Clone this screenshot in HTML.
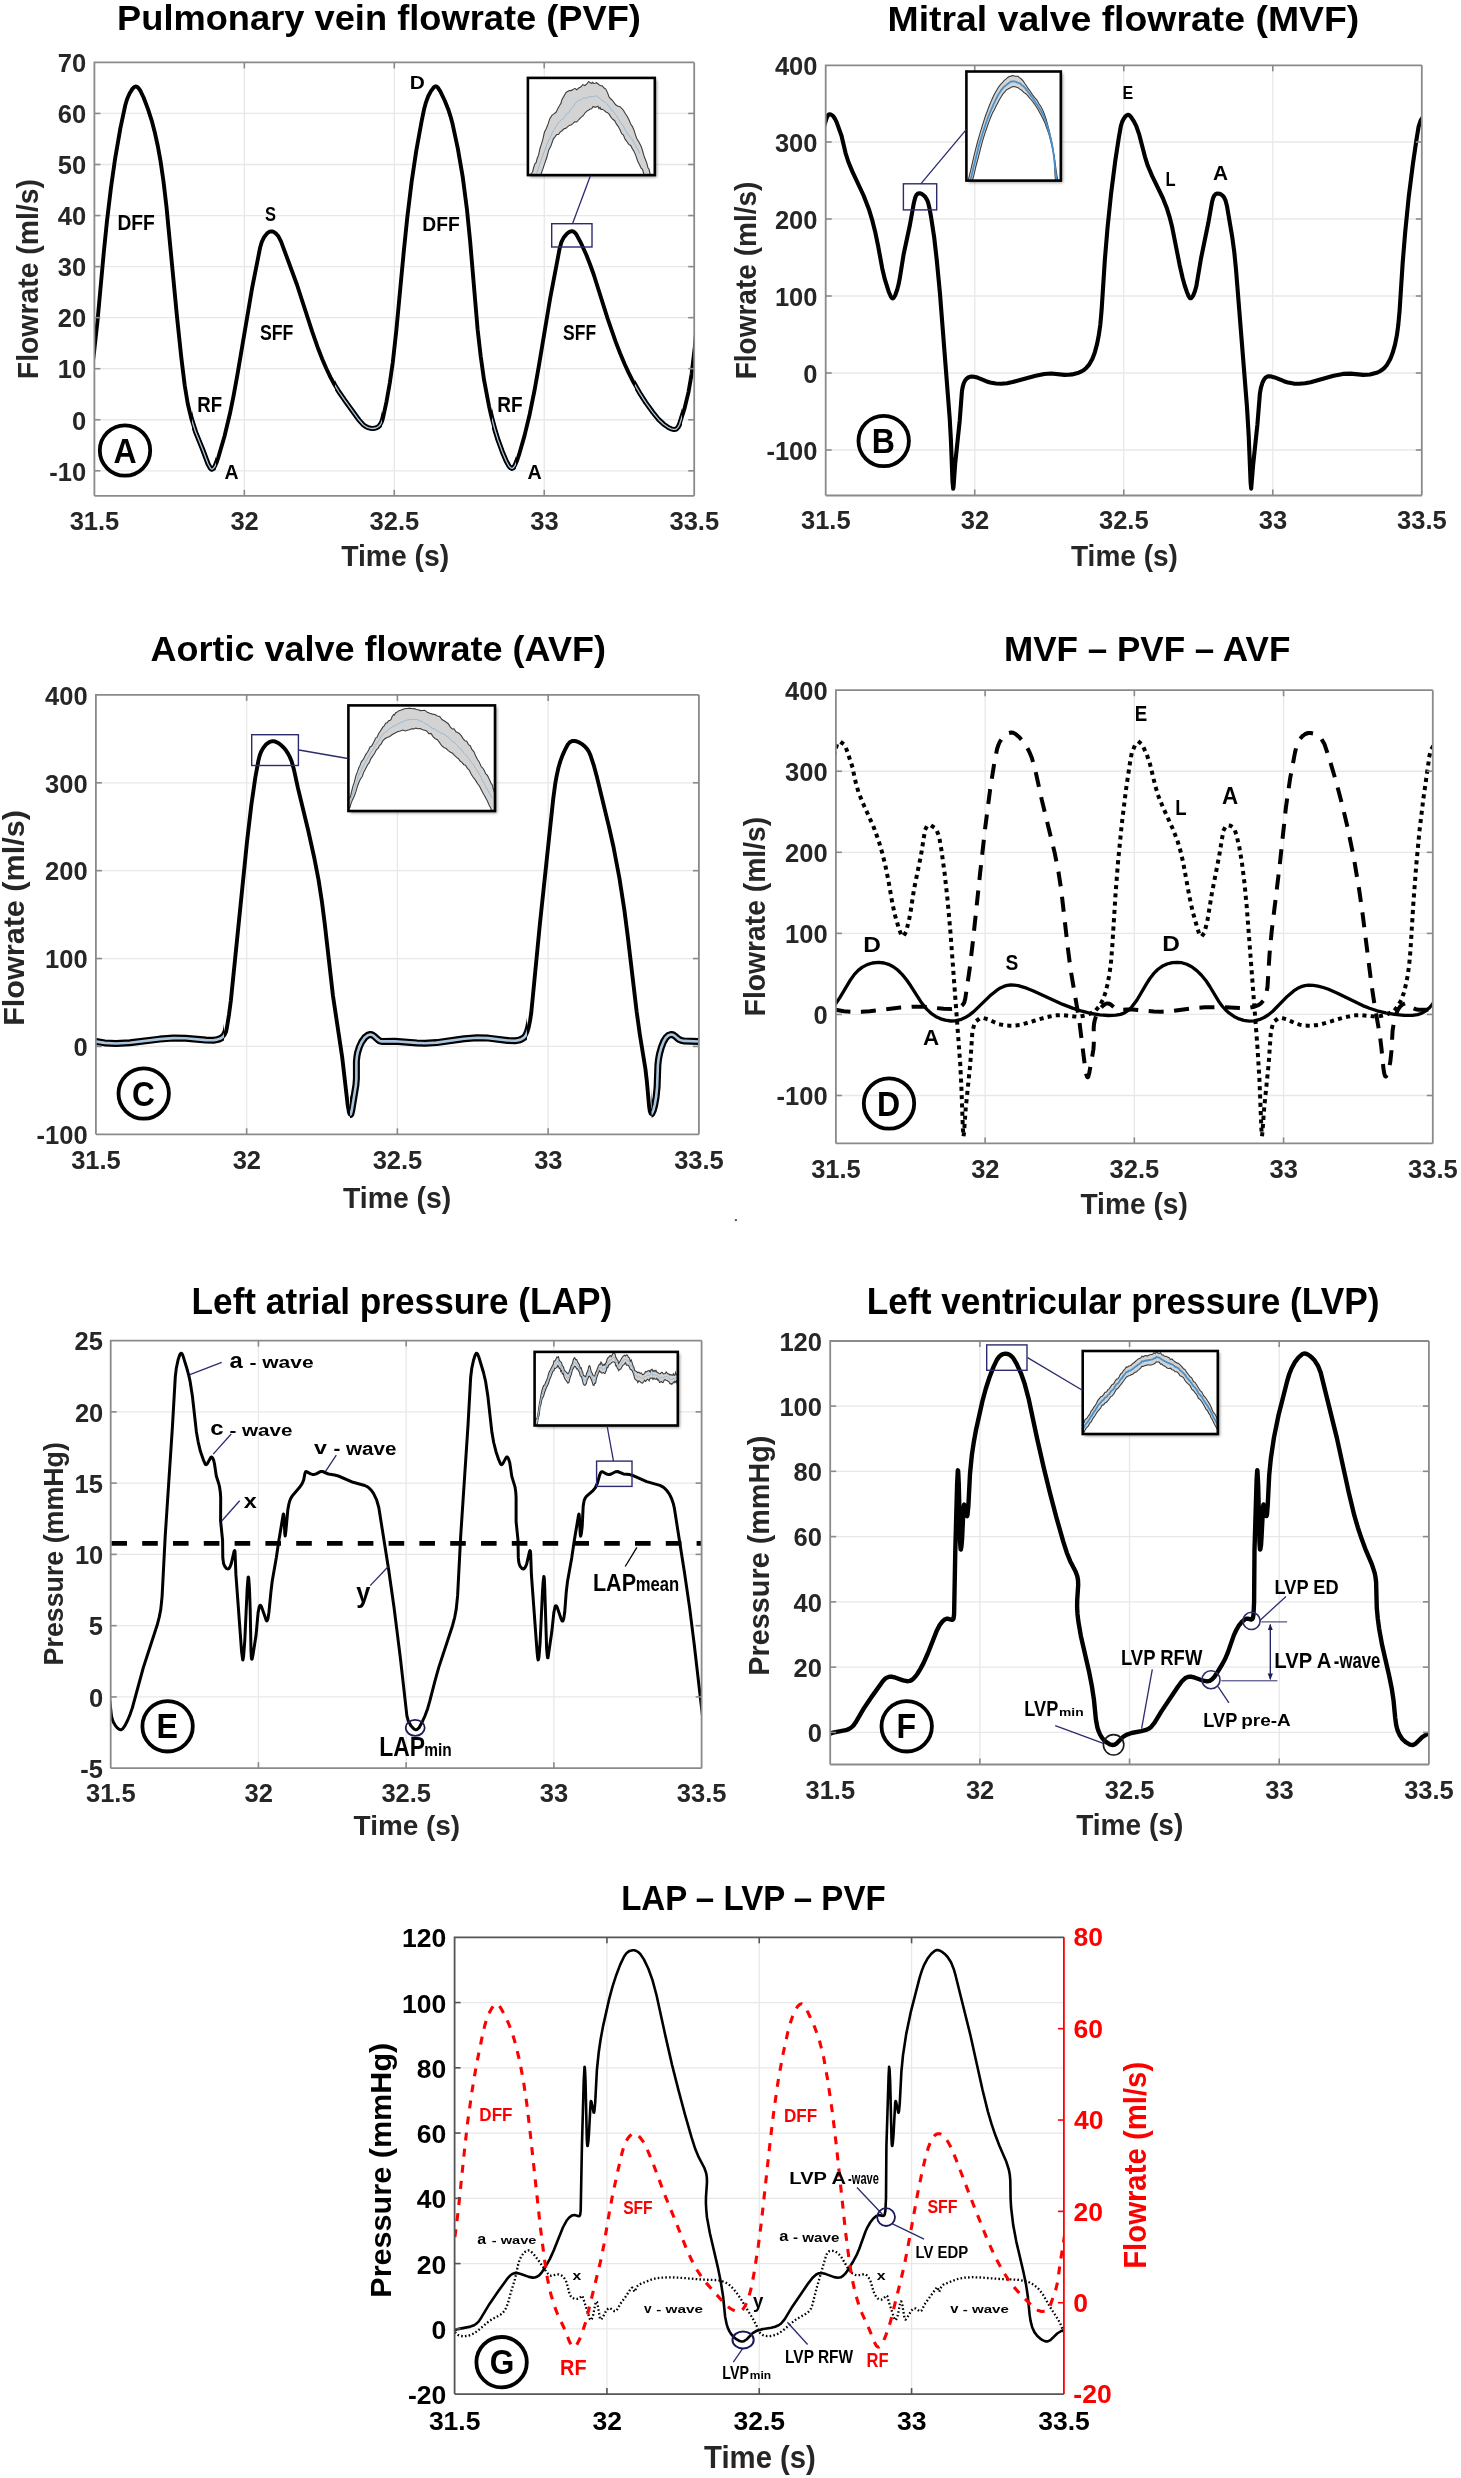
<!DOCTYPE html><html><head><meta charset="utf-8"><style>html,body{margin:0;padding:0;background:#fff;}svg{display:block;will-change:transform;}text{font-family:"Liberation Sans", sans-serif;}</style></head><body>
<svg xmlns="http://www.w3.org/2000/svg" width="1461" height="2478" viewBox="0 0 1461 2478">
<rect width="1461" height="2478" fill="#fff"/>
<defs>
<clipPath id="clipA"><rect x="94.40" y="62.40" width="599.80" height="433.40"/></clipPath>
<clipPath id="clipB"><rect x="825.70" y="65.30" width="596.10" height="430.20"/></clipPath>
<clipPath id="clipC"><rect x="95.90" y="694.90" width="603.00" height="439.40"/></clipPath>
<clipPath id="clipD"><rect x="835.90" y="690.20" width="596.90" height="453.20"/></clipPath>
<clipPath id="clipE"><rect x="110.70" y="1340.60" width="590.90" height="427.60"/></clipPath>
<clipPath id="clipF"><rect x="830.20" y="1341.00" width="598.70" height="423.50"/></clipPath>
<clipPath id="clipG"><rect x="454.60" y="1937.30" width="609.30" height="456.80"/></clipPath>
<filter id="shadow" x="-10%" y="-10%" width="130%" height="130%"><feDropShadow dx="2" dy="2" stdDeviation="1.5" flood-color="#000" flood-opacity="0.45"/></filter>
<marker id="arr" viewBox="0 0 10 10" refX="9" refY="5" markerWidth="5" markerHeight="5" orient="auto-start-reverse"><path d="M0 1L10 5L0 9z" fill="#1a1a5a"/></marker>
</defs>
<text transform="translate(117.07 30.40) scale(1.0101 1)" font-size="35.90" font-weight="bold" fill="#000" >Pulmonary vein flowrate (PVF)</text>
<text transform="translate(887.50 31.00) scale(1.0505 1)" font-size="35.61" font-weight="bold" fill="#000" >Mitral valve flowrate (MVF)</text>
<text transform="translate(150.50 660.50) scale(1.0114 1)" font-size="35.61" font-weight="bold" fill="#000" >Aortic valve flowrate (AVF)</text>
<text transform="translate(1003.95 660.50) scale(0.9851 1)" font-size="35.61" font-weight="bold" fill="#000" >MVF – PVF – AVF</text>
<text transform="translate(191.54 1313.50) scale(0.9320 1)" font-size="37.79" font-weight="bold" fill="#000" >Left atrial pressure (LAP)</text>
<text transform="translate(866.74 1313.50) scale(0.9334 1)" font-size="37.79" font-weight="bold" fill="#000" >Left ventricular pressure (LVP)</text>
<text transform="translate(621.19 1910.20) scale(0.9593 1)" font-size="34.45" font-weight="bold" fill="#000" >LAP – LVP – PVF</text>
<line x1="244.35" y1="62.40" x2="244.35" y2="495.80" stroke="#e8e8e8" stroke-width="1.3"/>
<line x1="394.30" y1="62.40" x2="394.30" y2="495.80" stroke="#e8e8e8" stroke-width="1.3"/>
<line x1="544.25" y1="62.40" x2="544.25" y2="495.80" stroke="#e8e8e8" stroke-width="1.3"/>
<line x1="94.40" y1="113.45" x2="694.20" y2="113.45" stroke="#e8e8e8" stroke-width="1.3"/>
<line x1="94.40" y1="164.50" x2="694.20" y2="164.50" stroke="#e8e8e8" stroke-width="1.3"/>
<line x1="94.40" y1="215.55" x2="694.20" y2="215.55" stroke="#e8e8e8" stroke-width="1.3"/>
<line x1="94.40" y1="266.60" x2="694.20" y2="266.60" stroke="#e8e8e8" stroke-width="1.3"/>
<line x1="94.40" y1="317.65" x2="694.20" y2="317.65" stroke="#e8e8e8" stroke-width="1.3"/>
<line x1="94.40" y1="368.70" x2="694.20" y2="368.70" stroke="#e8e8e8" stroke-width="1.3"/>
<line x1="94.40" y1="419.75" x2="694.20" y2="419.75" stroke="#e8e8e8" stroke-width="1.3"/>
<line x1="94.40" y1="470.80" x2="694.20" y2="470.80" stroke="#e8e8e8" stroke-width="1.3"/>
<line x1="974.73" y1="65.30" x2="974.73" y2="495.50" stroke="#e8e8e8" stroke-width="1.3"/>
<line x1="1123.75" y1="65.30" x2="1123.75" y2="495.50" stroke="#e8e8e8" stroke-width="1.3"/>
<line x1="1272.78" y1="65.30" x2="1272.78" y2="495.50" stroke="#e8e8e8" stroke-width="1.3"/>
<line x1="825.70" y1="142.00" x2="1421.80" y2="142.00" stroke="#e8e8e8" stroke-width="1.3"/>
<line x1="825.70" y1="219.00" x2="1421.80" y2="219.00" stroke="#e8e8e8" stroke-width="1.3"/>
<line x1="825.70" y1="296.00" x2="1421.80" y2="296.00" stroke="#e8e8e8" stroke-width="1.3"/>
<line x1="825.70" y1="373.00" x2="1421.80" y2="373.00" stroke="#e8e8e8" stroke-width="1.3"/>
<line x1="825.70" y1="450.00" x2="1421.80" y2="450.00" stroke="#e8e8e8" stroke-width="1.3"/>
<line x1="246.65" y1="694.90" x2="246.65" y2="1134.30" stroke="#e8e8e8" stroke-width="1.3"/>
<line x1="397.40" y1="694.90" x2="397.40" y2="1134.30" stroke="#e8e8e8" stroke-width="1.3"/>
<line x1="548.15" y1="694.90" x2="548.15" y2="1134.30" stroke="#e8e8e8" stroke-width="1.3"/>
<line x1="95.90" y1="782.78" x2="698.90" y2="782.78" stroke="#e8e8e8" stroke-width="1.3"/>
<line x1="95.90" y1="870.66" x2="698.90" y2="870.66" stroke="#e8e8e8" stroke-width="1.3"/>
<line x1="95.90" y1="958.54" x2="698.90" y2="958.54" stroke="#e8e8e8" stroke-width="1.3"/>
<line x1="95.90" y1="1046.42" x2="698.90" y2="1046.42" stroke="#e8e8e8" stroke-width="1.3"/>
<line x1="985.12" y1="690.20" x2="985.12" y2="1143.40" stroke="#e8e8e8" stroke-width="1.3"/>
<line x1="1134.35" y1="690.20" x2="1134.35" y2="1143.40" stroke="#e8e8e8" stroke-width="1.3"/>
<line x1="1283.57" y1="690.20" x2="1283.57" y2="1143.40" stroke="#e8e8e8" stroke-width="1.3"/>
<line x1="835.90" y1="771.26" x2="1432.80" y2="771.26" stroke="#e8e8e8" stroke-width="1.3"/>
<line x1="835.90" y1="852.32" x2="1432.80" y2="852.32" stroke="#e8e8e8" stroke-width="1.3"/>
<line x1="835.90" y1="933.38" x2="1432.80" y2="933.38" stroke="#e8e8e8" stroke-width="1.3"/>
<line x1="835.90" y1="1014.44" x2="1432.80" y2="1014.44" stroke="#e8e8e8" stroke-width="1.3"/>
<line x1="835.90" y1="1095.50" x2="1432.80" y2="1095.50" stroke="#e8e8e8" stroke-width="1.3"/>
<line x1="258.43" y1="1340.60" x2="258.43" y2="1768.20" stroke="#e8e8e8" stroke-width="1.3"/>
<line x1="406.15" y1="1340.60" x2="406.15" y2="1768.20" stroke="#e8e8e8" stroke-width="1.3"/>
<line x1="553.88" y1="1340.60" x2="553.88" y2="1768.20" stroke="#e8e8e8" stroke-width="1.3"/>
<line x1="110.70" y1="1411.87" x2="701.60" y2="1411.87" stroke="#e8e8e8" stroke-width="1.3"/>
<line x1="110.70" y1="1483.13" x2="701.60" y2="1483.13" stroke="#e8e8e8" stroke-width="1.3"/>
<line x1="110.70" y1="1554.40" x2="701.60" y2="1554.40" stroke="#e8e8e8" stroke-width="1.3"/>
<line x1="110.70" y1="1625.67" x2="701.60" y2="1625.67" stroke="#e8e8e8" stroke-width="1.3"/>
<line x1="110.70" y1="1696.93" x2="701.60" y2="1696.93" stroke="#e8e8e8" stroke-width="1.3"/>
<line x1="979.88" y1="1341.00" x2="979.88" y2="1764.50" stroke="#e8e8e8" stroke-width="1.3"/>
<line x1="1129.55" y1="1341.00" x2="1129.55" y2="1764.50" stroke="#e8e8e8" stroke-width="1.3"/>
<line x1="1279.23" y1="1341.00" x2="1279.23" y2="1764.50" stroke="#e8e8e8" stroke-width="1.3"/>
<line x1="830.20" y1="1406.07" x2="1428.90" y2="1406.07" stroke="#e8e8e8" stroke-width="1.3"/>
<line x1="830.20" y1="1471.33" x2="1428.90" y2="1471.33" stroke="#e8e8e8" stroke-width="1.3"/>
<line x1="830.20" y1="1536.60" x2="1428.90" y2="1536.60" stroke="#e8e8e8" stroke-width="1.3"/>
<line x1="830.20" y1="1601.87" x2="1428.90" y2="1601.87" stroke="#e8e8e8" stroke-width="1.3"/>
<line x1="830.20" y1="1667.13" x2="1428.90" y2="1667.13" stroke="#e8e8e8" stroke-width="1.3"/>
<line x1="830.20" y1="1732.40" x2="1428.90" y2="1732.40" stroke="#e8e8e8" stroke-width="1.3"/>
<line x1="606.93" y1="1937.30" x2="606.93" y2="2394.10" stroke="#e8e8e8" stroke-width="1.3"/>
<line x1="759.25" y1="1937.30" x2="759.25" y2="2394.10" stroke="#e8e8e8" stroke-width="1.3"/>
<line x1="911.58" y1="1937.30" x2="911.58" y2="2394.10" stroke="#e8e8e8" stroke-width="1.3"/>
<line x1="454.60" y1="2002.56" x2="1063.90" y2="2002.56" stroke="#e8e8e8" stroke-width="1.3"/>
<line x1="454.60" y1="2067.81" x2="1063.90" y2="2067.81" stroke="#e8e8e8" stroke-width="1.3"/>
<line x1="454.60" y1="2133.07" x2="1063.90" y2="2133.07" stroke="#e8e8e8" stroke-width="1.3"/>
<line x1="454.60" y1="2198.33" x2="1063.90" y2="2198.33" stroke="#e8e8e8" stroke-width="1.3"/>
<line x1="454.60" y1="2263.59" x2="1063.90" y2="2263.59" stroke="#e8e8e8" stroke-width="1.3"/>
<line x1="454.60" y1="2328.84" x2="1063.90" y2="2328.84" stroke="#e8e8e8" stroke-width="1.3"/>
<text transform="translate(341.18 565.90) scale(0.9689 1)" font-size="29.22" font-weight="bold" fill="#262626" >Time (s)</text>
<text transform="translate(1070.99 566.10) scale(0.9598 1)" font-size="29.22" font-weight="bold" fill="#262626" >Time (s)</text>
<text transform="translate(342.98 1208.20) scale(0.9389 1)" font-size="30.23" font-weight="bold" fill="#262626" >Time (s)</text>
<text transform="translate(1080.38 1214.00) scale(0.9683 1)" font-size="29.07" font-weight="bold" fill="#262626" >Time (s)</text>
<text transform="translate(353.59 1835.40) scale(1.0010 1)" font-size="27.91" font-weight="bold" fill="#262626" >Time (s)</text>
<text transform="translate(1076.18 1834.70) scale(0.9607 1)" font-size="29.22" font-weight="bold" fill="#262626" >Time (s)</text>
<text transform="translate(704.07 2468.10) scale(0.9558 1)" font-size="30.67" font-weight="bold" fill="#262626" >Time (s)</text>
<text transform="translate(38.20 379.20) rotate(-90) scale(0.9481 1)" font-size="29.94" font-weight="bold" fill="#262626">Flowrate (ml/s)</text>
<text transform="translate(756.00 379.37) rotate(-90) scale(0.9641 1)" font-size="29.07" font-weight="bold" fill="#262626">Flowrate (ml/s)</text>
<text transform="translate(24.10 1025.85) rotate(-90) scale(1.0571 1)" font-size="28.92" font-weight="bold" fill="#262626">Flowrate (ml/s)</text>
<text transform="translate(764.90 1016.39) rotate(-90) scale(0.9784 1)" font-size="28.92" font-weight="bold" fill="#262626">Flowrate (ml/s)</text>
<text transform="translate(63.20 1665.39) rotate(-90) scale(0.9404 1)" font-size="28.49" font-weight="bold" fill="#262626">Pressure (mmHg)</text>
<text transform="translate(768.90 1675.63) rotate(-90) scale(0.9813 1)" font-size="29.36" font-weight="bold" fill="#262626">Pressure (mmHg)</text>
<text transform="translate(390.50 2297.75) rotate(-90) scale(1.0073 1)" font-size="30.38" font-weight="bold" fill="#000">Pressure (mmHg)</text>
<text transform="translate(1145.80 2268.86) rotate(-90) scale(0.9526 1)" font-size="30.81" font-weight="bold" fill="#ff0000">Flowrate (ml/s)</text>
<path d="M38.7 392.7 L59.6 419.8 L64.2 425.1 L67.5 427.7 L69.6 428.8 L71.7 429.3 L73.9 429.1 L76.0 428.3 L77.9 427.1 L80.0 425.0 L81.5 422.5 L82.6 419.6 L85.2 408.5 L88.6 390.2 L91.4 372.7 L93.8 354.4 L97.5 321.1 L103.6 254.4 L106.9 221.7 L110.9 188.3 L115.2 158.1 L120.4 128.1 L125.4 104.7 L127.3 98.5 L129.7 93.2 L132.4 88.9 L133.9 87.3 L135.0 86.6 L136.0 86.5 L137.5 87.1 L138.9 88.6 L140.3 90.7 L143.6 97.5 L148.0 109.1 L151.7 120.6 L154.9 132.8 L157.8 146.0 L160.5 160.9 L163.5 181.5 L166.5 207.0 L177.1 317.8 L181.3 357.5 L184.7 385.2 L187.7 403.5 L191.3 418.6 L195.6 432.1 L202.3 448.5 L208.1 464.0 L210.3 468.0 L211.3 469.0 L212.1 469.2 L213.5 468.4 L214.9 466.4 L216.6 462.5 L218.2 457.9 L224.5 436.2 L229.9 413.8 L233.6 395.6 L237.3 375.3 L252.1 288.1 L260.2 247.2 L261.9 241.6 L264.0 237.3 L266.9 233.6 L268.6 232.2 L269.9 231.6 L271.2 231.4 L272.6 231.5 L273.9 232.1 L275.8 233.4 L278.4 236.3 L281.0 241.3 L296.9 284.5 L312.2 331.7 L318.4 349.3 L322.2 359.0 L326.3 368.5 L330.4 377.1 L334.5 384.7 L339.0 392.0 L344.3 399.7 L358.8 419.8 L363.2 424.7 L365.8 426.6 L367.9 427.6 L370.8 428.3 L373.0 428.5 L375.8 428.0 L377.6 427.2 L379.2 426.0 L380.8 423.8 L382.1 421.1 L383.2 417.2 L386.5 401.6 L389.8 383.0 L392.8 362.3 L396.3 330.8 L403.7 252.3 L407.3 217.2 L411.6 182.0 L416.2 151.1 L421.6 121.3 L424.0 109.6 L425.9 102.6 L428.1 96.5 L430.9 91.2 L433.8 87.3 L434.8 86.6 L435.8 86.3 L436.8 86.6 L437.7 87.4 L440.3 91.4 L444.7 100.5 L448.3 109.4 L450.5 116.3 L452.6 124.1 L457.8 148.4 L462.8 177.4 L466.9 208.9 L470.1 240.8 L477.6 329.2 L480.7 356.2 L484.0 379.7 L489.1 406.6 L491.7 418.0 L494.6 428.7 L498.0 439.9 L502.3 451.7 L506.3 461.3 L509.0 466.1 L510.6 467.8 L512.1 468.4 L513.5 467.6 L515.2 465.1 L516.8 461.3 L518.9 455.2 L524.6 435.4 L529.7 414.2 L534.7 389.5 L539.0 365.1 L550.0 299.3 L559.7 248.2 L561.5 241.9 L563.7 237.6 L566.9 233.8 L568.8 232.3 L570.8 231.4 L572.0 231.2 L573.7 231.7 L575.2 233.0 L576.6 234.8 L581.3 243.7 L586.4 255.0 L589.9 264.0 L593.7 274.5 L607.8 319.2 L615.8 342.1 L620.1 353.3 L624.5 363.7 L628.8 373.1 L633.5 382.3 L639.4 392.6 L645.8 402.6 L652.8 412.3 L658.8 419.7 L663.7 424.2 L668.8 427.7 L671.2 428.8 L673.4 429.4 L675.4 429.3 L676.5 428.9 L678.3 426.9 L679.6 424.2 L684.5 408.6 L688.5 392.1 L691.6 374.0 L694.7 348.0 L699.1 297.1 L702.1 265.1 L707.6 214.7 L711.8 182.1 L716.2 151.5 L720.6 124.4 L723.5 110.9 L726.8 100.0 L730.3 91.8 L731.9 89.4 L733.6 87.7 L735.3 87.2 L736.7 87.6 L738.4 89.1 L740.6 92.3 L743.1 97.1 L746.0 103.7 L750.3 115.8 L754.0 130.0" fill="none" stroke="#000" stroke-width="3.90" stroke-linejoin="round" stroke-linecap="round" clip-path="url(#clipA)" />
<clipPath id="bandA"><rect x="192.0" y="62.4" width="24.0" height="433.4"/><rect x="335.0" y="62.4" width="47.0" height="433.4"/><rect x="492.0" y="62.4" width="24.0" height="433.4"/><rect x="635.0" y="62.4" width="47.0" height="433.4"/></clipPath>
<g clip-path="url(#bandA)"><g clip-path="url(#clipA)">
<path d="M38.7 392.7 L59.6 419.8 L64.2 425.1 L67.5 427.7 L69.6 428.8 L71.7 429.3 L73.9 429.1 L76.0 428.3 L77.9 427.1 L80.0 425.0 L81.5 422.5 L82.6 419.6 L85.2 408.5 L88.6 390.2 L91.4 372.7 L93.8 354.4 L97.5 321.1 L103.6 254.4 L106.9 221.7 L110.9 188.3 L115.2 158.1 L120.4 128.1 L125.4 104.7 L127.3 98.5 L129.7 93.2 L132.4 88.9 L133.9 87.3 L135.0 86.6 L136.0 86.5 L137.5 87.1 L138.9 88.6 L140.3 90.7 L143.6 97.5 L148.0 109.1 L151.7 120.6 L154.9 132.8 L157.8 146.0 L160.5 160.9 L163.5 181.5 L166.5 207.0 L177.1 317.8 L181.3 357.5 L184.7 385.2 L187.7 403.5 L191.3 418.6 L195.6 432.1 L202.3 448.5 L208.1 464.0 L210.3 468.0 L211.3 469.0 L212.1 469.2 L213.5 468.4 L214.9 466.4 L216.6 462.5 L218.2 457.9 L224.5 436.2 L229.9 413.8 L233.6 395.6 L237.3 375.3 L252.1 288.1 L260.2 247.2 L261.9 241.6 L264.0 237.3 L266.9 233.6 L268.6 232.2 L269.9 231.6 L271.2 231.4 L272.6 231.5 L273.9 232.1 L275.8 233.4 L278.4 236.3 L281.0 241.3 L296.9 284.5 L312.2 331.7 L318.4 349.3 L322.2 359.0 L326.3 368.5 L330.4 377.1 L334.5 384.7 L339.0 392.0 L344.3 399.7 L358.8 419.8 L363.2 424.7 L365.8 426.6 L367.9 427.6 L370.8 428.3 L373.0 428.5 L375.8 428.0 L377.6 427.2 L379.2 426.0 L380.8 423.8 L382.1 421.1 L383.2 417.2 L386.5 401.6 L389.8 383.0 L392.8 362.3 L396.3 330.8 L403.7 252.3 L407.3 217.2 L411.6 182.0 L416.2 151.1 L421.6 121.3 L424.0 109.6 L425.9 102.6 L428.1 96.5 L430.9 91.2 L433.8 87.3 L434.8 86.6 L435.8 86.3 L436.8 86.6 L437.7 87.4 L440.3 91.4 L444.7 100.5 L448.3 109.4 L450.5 116.3 L452.6 124.1 L457.8 148.4 L462.8 177.4 L466.9 208.9 L470.1 240.8 L477.6 329.2 L480.7 356.2 L484.0 379.7 L489.1 406.6 L491.7 418.0 L494.6 428.7 L498.0 439.9 L502.3 451.7 L506.3 461.3 L509.0 466.1 L510.6 467.8 L512.1 468.4 L513.5 467.6 L515.2 465.1 L516.8 461.3 L518.9 455.2 L524.6 435.4 L529.7 414.2 L534.7 389.5 L539.0 365.1 L550.0 299.3 L559.7 248.2 L561.5 241.9 L563.7 237.6 L566.9 233.8 L568.8 232.3 L570.8 231.4 L572.0 231.2 L573.7 231.7 L575.2 233.0 L576.6 234.8 L581.3 243.7 L586.4 255.0 L589.9 264.0 L593.7 274.5 L607.8 319.2 L615.8 342.1 L620.1 353.3 L624.5 363.7 L628.8 373.1 L633.5 382.3 L639.4 392.6 L645.8 402.6 L652.8 412.3 L658.8 419.7 L663.7 424.2 L668.8 427.7 L671.2 428.8 L673.4 429.4 L675.4 429.3 L676.5 428.9 L678.3 426.9 L679.6 424.2 L684.5 408.6 L688.5 392.1 L691.6 374.0 L694.7 348.0 L699.1 297.1 L702.1 265.1 L707.6 214.7 L711.8 182.1 L716.2 151.5 L720.6 124.4 L723.5 110.9 L726.8 100.0 L730.3 91.8 L731.9 89.4 L733.6 87.7 L735.3 87.2 L736.7 87.6 L738.4 89.1 L740.6 92.3 L743.1 97.1 L746.0 103.7 L750.3 115.8 L754.0 130.0" fill="none" stroke="#000" stroke-width="5.00" stroke-linejoin="round"/>
<path d="M38.7 392.7 L59.6 419.8 L64.2 425.1 L67.5 427.7 L69.6 428.8 L71.7 429.3 L73.9 429.1 L76.0 428.3 L77.9 427.1 L80.0 425.0 L81.5 422.5 L82.6 419.6 L85.2 408.5 L88.6 390.2 L91.4 372.7 L93.8 354.4 L97.5 321.1 L103.6 254.4 L106.9 221.7 L110.9 188.3 L115.2 158.1 L120.4 128.1 L125.4 104.7 L127.3 98.5 L129.7 93.2 L132.4 88.9 L133.9 87.3 L135.0 86.6 L136.0 86.5 L137.5 87.1 L138.9 88.6 L140.3 90.7 L143.6 97.5 L148.0 109.1 L151.7 120.6 L154.9 132.8 L157.8 146.0 L160.5 160.9 L163.5 181.5 L166.5 207.0 L177.1 317.8 L181.3 357.5 L184.7 385.2 L187.7 403.5 L191.3 418.6 L195.6 432.1 L202.3 448.5 L208.1 464.0 L210.3 468.0 L211.3 469.0 L212.1 469.2 L213.5 468.4 L214.9 466.4 L216.6 462.5 L218.2 457.9 L224.5 436.2 L229.9 413.8 L233.6 395.6 L237.3 375.3 L252.1 288.1 L260.2 247.2 L261.9 241.6 L264.0 237.3 L266.9 233.6 L268.6 232.2 L269.9 231.6 L271.2 231.4 L272.6 231.5 L273.9 232.1 L275.8 233.4 L278.4 236.3 L281.0 241.3 L296.9 284.5 L312.2 331.7 L318.4 349.3 L322.2 359.0 L326.3 368.5 L330.4 377.1 L334.5 384.7 L339.0 392.0 L344.3 399.7 L358.8 419.8 L363.2 424.7 L365.8 426.6 L367.9 427.6 L370.8 428.3 L373.0 428.5 L375.8 428.0 L377.6 427.2 L379.2 426.0 L380.8 423.8 L382.1 421.1 L383.2 417.2 L386.5 401.6 L389.8 383.0 L392.8 362.3 L396.3 330.8 L403.7 252.3 L407.3 217.2 L411.6 182.0 L416.2 151.1 L421.6 121.3 L424.0 109.6 L425.9 102.6 L428.1 96.5 L430.9 91.2 L433.8 87.3 L434.8 86.6 L435.8 86.3 L436.8 86.6 L437.7 87.4 L440.3 91.4 L444.7 100.5 L448.3 109.4 L450.5 116.3 L452.6 124.1 L457.8 148.4 L462.8 177.4 L466.9 208.9 L470.1 240.8 L477.6 329.2 L480.7 356.2 L484.0 379.7 L489.1 406.6 L491.7 418.0 L494.6 428.7 L498.0 439.9 L502.3 451.7 L506.3 461.3 L509.0 466.1 L510.6 467.8 L512.1 468.4 L513.5 467.6 L515.2 465.1 L516.8 461.3 L518.9 455.2 L524.6 435.4 L529.7 414.2 L534.7 389.5 L539.0 365.1 L550.0 299.3 L559.7 248.2 L561.5 241.9 L563.7 237.6 L566.9 233.8 L568.8 232.3 L570.8 231.4 L572.0 231.2 L573.7 231.7 L575.2 233.0 L576.6 234.8 L581.3 243.7 L586.4 255.0 L589.9 264.0 L593.7 274.5 L607.8 319.2 L615.8 342.1 L620.1 353.3 L624.5 363.7 L628.8 373.1 L633.5 382.3 L639.4 392.6 L645.8 402.6 L652.8 412.3 L658.8 419.7 L663.7 424.2 L668.8 427.7 L671.2 428.8 L673.4 429.4 L675.4 429.3 L676.5 428.9 L678.3 426.9 L679.6 424.2 L684.5 408.6 L688.5 392.1 L691.6 374.0 L694.7 348.0 L699.1 297.1 L702.1 265.1 L707.6 214.7 L711.8 182.1 L716.2 151.5 L720.6 124.4 L723.5 110.9 L726.8 100.0 L730.3 91.8 L731.9 89.4 L733.6 87.7 L735.3 87.2 L736.7 87.6 L738.4 89.1 L740.6 92.3 L743.1 97.1 L746.0 103.7 L750.3 115.8 L754.0 130.0" fill="none" stroke="#a9c6de" stroke-width="1.30" stroke-linejoin="round"/>
</g></g>
<path d="M767.1 374.6 L772.6 374.4 L778.4 373.1 L783.3 371.3 L787.8 368.8 L790.8 366.2 L793.1 363.1 L795.0 359.0 L796.4 354.5 L798.2 345.1 L800.4 330.8 L804.0 301.4 L806.5 273.5 L811.8 202.5 L813.8 181.8 L815.9 165.0 L818.7 147.6 L822.3 131.9 L826.6 118.1 L827.8 115.6 L828.6 114.7 L829.4 114.3 L831.0 114.5 L833.2 116.2 L835.1 119.0 L836.7 122.4 L841.5 135.8 L845.5 152.8 L848.4 162.0 L852.4 171.6 L863.6 195.5 L868.8 208.9 L872.3 220.4 L875.4 232.8 L878.0 245.3 L882.2 268.2 L884.8 279.2 L888.7 291.7 L890.7 296.3 L892.0 298.2 L892.7 298.4 L893.4 298.1 L895.1 295.5 L897.1 290.0 L898.6 284.3 L900.0 277.0 L903.6 254.5 L909.9 225.0 L913.9 202.7 L915.3 197.3 L916.6 194.7 L917.9 193.6 L919.6 193.3 L921.4 193.8 L923.2 194.9 L925.3 197.0 L926.9 199.6 L928.1 202.6 L929.3 207.4 L931.0 216.5 L934.2 237.5 L936.8 260.4 L939.9 292.8 L949.7 418.4 L950.9 439.8 L952.5 481.8 L953.2 488.8 L953.6 486.0 L955.2 463.5 L959.7 420.9 L961.9 391.6 L962.6 387.4 L963.6 383.7 L965.1 380.5 L966.7 378.6 L968.2 377.5 L969.9 376.8 L971.9 376.5 L973.9 376.7 L977.5 377.6 L986.1 381.2 L990.1 382.5 L995.8 383.5 L1001.4 383.7 L1007.0 383.2 L1012.6 382.1 L1035.7 375.7 L1044.3 374.0 L1051.3 373.5 L1064.5 374.9 L1068.7 374.8 L1072.1 374.4 L1078.7 372.7 L1081.6 371.4 L1084.2 369.7 L1086.5 367.7 L1088.9 364.9 L1092.3 359.0 L1094.8 352.4 L1097.1 343.9 L1098.8 335.2 L1100.3 324.8 L1101.6 310.3 L1104.9 259.1 L1107.5 228.2 L1111.1 193.4 L1115.3 160.6 L1118.9 137.1 L1120.9 125.8 L1122.1 122.0 L1123.4 119.3 L1125.0 116.8 L1127.0 115.1 L1128.0 114.8 L1129.0 115.0 L1130.9 116.8 L1133.9 121.3 L1136.3 126.2 L1139.4 135.2 L1144.9 156.6 L1147.8 165.8 L1152.2 176.1 L1162.6 197.5 L1167.0 208.6 L1169.6 217.1 L1172.2 227.3 L1179.6 264.7 L1182.7 278.3 L1184.7 285.5 L1186.8 291.7 L1188.6 296.1 L1189.9 298.0 L1190.6 298.3 L1191.3 298.1 L1193.1 295.8 L1194.9 291.2 L1196.3 286.3 L1201.0 258.5 L1208.4 222.5 L1212.1 201.7 L1213.2 197.7 L1214.5 195.2 L1215.8 194.0 L1217.5 193.5 L1219.4 193.7 L1221.3 194.6 L1223.0 196.0 L1224.3 197.8 L1225.6 200.7 L1226.9 205.7 L1232.3 237.4 L1234.3 252.3 L1236.0 269.4 L1247.0 407.0 L1248.7 435.8 L1250.6 482.7 L1251.2 488.6 L1253.0 466.3 L1257.4 424.5 L1259.9 393.5 L1260.9 387.8 L1262.3 383.2 L1263.9 379.7 L1265.6 377.5 L1267.8 376.4 L1271.1 376.4 L1274.7 377.4 L1284.0 381.2 L1288.1 382.6 L1293.7 383.6 L1299.3 383.8 L1305.0 383.2 L1310.6 382.2 L1333.6 375.8 L1343.0 373.9 L1350.7 373.6 L1363.2 374.9 L1370.0 374.5 L1376.6 372.8 L1379.5 371.5 L1382.1 369.8 L1384.4 367.9 L1386.9 365.0 L1390.3 359.1 L1392.6 353.1 L1395.0 344.6 L1396.9 335.2 L1398.3 324.9 L1399.6 310.6 L1402.7 262.5 L1405.2 232.1 L1408.7 197.1 L1412.9 164.1 L1416.4 140.1 L1418.6 126.7 L1420.6 120.7 L1422.2 118.2 L1423.6 116.6 L1425.2 115.5 L1426.2 115.1 L1427.2 115.0 L1428.2 115.3 L1430.3 117.4 L1432.1 120.7 L1436.2 132.3 L1443.7 158.0 L1447.4 169.1 L1451.4 178.6 L1461.7 200.5 L1465.7 210.2 L1468.1 217.8 L1470.0 225.5 L1475.6 256.2 L1478.6 268.7" fill="none" stroke="#000" stroke-width="4.10" stroke-linejoin="round" stroke-linecap="round" clip-path="url(#clipB)" />
<path d="M38.8 1046.1 L39.2 1044.1 L39.7 1043.6 L40.2 1044.9 L40.7 1047.9 L45.6 1102.0 L47.1 1112.0 L47.9 1114.3 L48.5 1114.9 L48.9 1114.6 L49.4 1113.6 L50.4 1109.6 L54.3 1085.8 L54.9 1078.3 L55.3 1060.0 L55.8 1055.1 L56.5 1051.1 L58.2 1045.8 L60.4 1041.6 L63.3 1037.9 L65.2 1036.3 L67.2 1035.0 L69.1 1034.6 L71.0 1035.1 L73.4 1036.7 L77.9 1040.6 L80.4 1041.5 L82.4 1041.5 L91.1 1040.8 L104.7 1042.9 L115.9 1043.5 L129.8 1042.8 L159.7 1039.1 L173.4 1038.1 L185.5 1038.2 L205.8 1040.1 L213.4 1040.2 L217.1 1039.6 L219.8 1038.8 L222.6 1037.2 L224.3 1035.3 L225.9 1032.2 L226.8 1028.3 L229.0 1014.6 L230.9 1000.2 L247.0 841.8 L251.3 805.3 L255.3 777.5 L258.5 760.2 L259.7 755.5 L261.1 751.8 L263.6 747.4 L266.4 744.1 L269.7 741.8 L272.6 741.1 L274.8 741.4 L277.7 742.7 L280.5 744.6 L283.6 747.5 L285.7 750.0 L287.9 753.4 L289.8 756.9 L291.6 761.3 L294.0 769.8 L297.9 787.9 L308.4 831.3 L314.3 858.0 L318.6 880.1 L322.0 902.2 L324.8 924.2 L333.0 996.0 L342.2 1057.3 L347.7 1105.1 L349.0 1112.3 L349.6 1114.1 L350.1 1114.6 L350.6 1114.4 L350.9 1113.8 L351.8 1110.1 L355.9 1085.1 L356.4 1078.5 L356.4 1061.5 L356.9 1056.6 L357.6 1052.6 L359.4 1046.9 L361.7 1041.9 L364.8 1037.6 L367.8 1035.2 L370.4 1034.5 L372.3 1035.0 L374.1 1036.2 L378.6 1040.2 L379.8 1040.9 L381.7 1041.4 L394.7 1041.2 L416.9 1042.9 L425.0 1043.2 L436.6 1042.6 L464.1 1038.8 L477.1 1037.8 L488.3 1038.1 L507.6 1040.5 L515.2 1040.7 L518.9 1040.1 L521.5 1039.2 L524.3 1037.3 L526.0 1035.1 L527.5 1031.6 L528.8 1026.9 L530.1 1020.4 L531.3 1012.4 L539.8 924.9 L553.2 799.0 L555.2 783.9 L556.6 776.1 L558.3 768.3 L560.3 761.4 L562.5 755.4 L565.5 748.8 L567.8 744.5 L569.8 742.3 L572.2 741.0 L574.5 740.9 L577.0 741.5 L579.5 742.6 L582.8 744.7 L584.9 746.5 L587.2 749.1 L588.9 751.8 L590.5 755.4 L593.7 765.1 L597.2 778.1 L609.1 827.4 L613.5 847.0 L619.4 878.0 L624.5 910.9 L628.0 938.2 L636.7 1012.1 L639.9 1034.9 L645.4 1068.7 L646.9 1081.8 L649.1 1106.4 L649.8 1111.0 L650.7 1113.6 L651.2 1114.0 L651.8 1113.7 L653.3 1110.3 L654.8 1104.5 L656.1 1097.1 L657.1 1086.9 L657.9 1064.8 L658.5 1059.5 L659.5 1054.0 L661.3 1047.5 L663.6 1041.6 L665.9 1037.7 L668.2 1035.5 L671.0 1034.5 L673.0 1034.8 L674.8 1035.9 L677.6 1038.4 L679.3 1039.6 L681.1 1040.3 L683.7 1040.9 L700.2 1041.6 L723.3 1043.2 L732.7 1043.4 L741.4 1042.9 L749.4 1041.8 L756.7 1040.0" fill="none" stroke="#000" stroke-width="3.90" stroke-linejoin="round" stroke-linecap="round" clip-path="url(#clipC)" />
<clipPath id="bandC"><rect x="95.0" y="694.9" width="129.0" height="439.4"/><rect x="350.0" y="694.9" width="177.0" height="439.4"/><rect x="651.5" y="694.9" width="48.5" height="439.4"/></clipPath>
<g clip-path="url(#bandC)"><g clip-path="url(#clipC)">
<path d="M38.8 1046.1 L39.2 1044.1 L39.7 1043.6 L40.2 1044.9 L40.7 1047.9 L45.6 1102.0 L47.1 1112.0 L47.9 1114.3 L48.5 1114.9 L48.9 1114.6 L49.4 1113.6 L50.4 1109.6 L54.3 1085.8 L54.9 1078.3 L55.3 1060.0 L55.8 1055.1 L56.5 1051.1 L58.2 1045.8 L60.4 1041.6 L63.3 1037.9 L65.2 1036.3 L67.2 1035.0 L69.1 1034.6 L71.0 1035.1 L73.4 1036.7 L77.9 1040.6 L80.4 1041.5 L82.4 1041.5 L91.1 1040.8 L104.7 1042.9 L115.9 1043.5 L129.8 1042.8 L159.7 1039.1 L173.4 1038.1 L185.5 1038.2 L205.8 1040.1 L213.4 1040.2 L217.1 1039.6 L219.8 1038.8 L222.6 1037.2 L224.3 1035.3 L225.9 1032.2 L226.8 1028.3 L229.0 1014.6 L230.9 1000.2 L247.0 841.8 L251.3 805.3 L255.3 777.5 L258.5 760.2 L259.7 755.5 L261.1 751.8 L263.6 747.4 L266.4 744.1 L269.7 741.8 L272.6 741.1 L274.8 741.4 L277.7 742.7 L280.5 744.6 L283.6 747.5 L285.7 750.0 L287.9 753.4 L289.8 756.9 L291.6 761.3 L294.0 769.8 L297.9 787.9 L308.4 831.3 L314.3 858.0 L318.6 880.1 L322.0 902.2 L324.8 924.2 L333.0 996.0 L342.2 1057.3 L347.7 1105.1 L349.0 1112.3 L349.6 1114.1 L350.1 1114.6 L350.6 1114.4 L350.9 1113.8 L351.8 1110.1 L355.9 1085.1 L356.4 1078.5 L356.4 1061.5 L356.9 1056.6 L357.6 1052.6 L359.4 1046.9 L361.7 1041.9 L364.8 1037.6 L367.8 1035.2 L370.4 1034.5 L372.3 1035.0 L374.1 1036.2 L378.6 1040.2 L379.8 1040.9 L381.7 1041.4 L394.7 1041.2 L416.9 1042.9 L425.0 1043.2 L436.6 1042.6 L464.1 1038.8 L477.1 1037.8 L488.3 1038.1 L507.6 1040.5 L515.2 1040.7 L518.9 1040.1 L521.5 1039.2 L524.3 1037.3 L526.0 1035.1 L527.5 1031.6 L528.8 1026.9 L530.1 1020.4 L531.3 1012.4 L539.8 924.9 L553.2 799.0 L555.2 783.9 L556.6 776.1 L558.3 768.3 L560.3 761.4 L562.5 755.4 L565.5 748.8 L567.8 744.5 L569.8 742.3 L572.2 741.0 L574.5 740.9 L577.0 741.5 L579.5 742.6 L582.8 744.7 L584.9 746.5 L587.2 749.1 L588.9 751.8 L590.5 755.4 L593.7 765.1 L597.2 778.1 L609.1 827.4 L613.5 847.0 L619.4 878.0 L624.5 910.9 L628.0 938.2 L636.7 1012.1 L639.9 1034.9 L645.4 1068.7 L646.9 1081.8 L649.1 1106.4 L649.8 1111.0 L650.7 1113.6 L651.2 1114.0 L651.8 1113.7 L653.3 1110.3 L654.8 1104.5 L656.1 1097.1 L657.1 1086.9 L657.9 1064.8 L658.5 1059.5 L659.5 1054.0 L661.3 1047.5 L663.6 1041.6 L665.9 1037.7 L668.2 1035.5 L671.0 1034.5 L673.0 1034.8 L674.8 1035.9 L677.6 1038.4 L679.3 1039.6 L681.1 1040.3 L683.7 1040.9 L700.2 1041.6 L723.3 1043.2 L732.7 1043.4 L741.4 1042.9 L749.4 1041.8 L756.7 1040.0" fill="none" stroke="#000" stroke-width="7.00" stroke-linejoin="round"/>
<path d="M38.8 1046.1 L39.2 1044.1 L39.7 1043.6 L40.2 1044.9 L40.7 1047.9 L45.6 1102.0 L47.1 1112.0 L47.9 1114.3 L48.5 1114.9 L48.9 1114.6 L49.4 1113.6 L50.4 1109.6 L54.3 1085.8 L54.9 1078.3 L55.3 1060.0 L55.8 1055.1 L56.5 1051.1 L58.2 1045.8 L60.4 1041.6 L63.3 1037.9 L65.2 1036.3 L67.2 1035.0 L69.1 1034.6 L71.0 1035.1 L73.4 1036.7 L77.9 1040.6 L80.4 1041.5 L82.4 1041.5 L91.1 1040.8 L104.7 1042.9 L115.9 1043.5 L129.8 1042.8 L159.7 1039.1 L173.4 1038.1 L185.5 1038.2 L205.8 1040.1 L213.4 1040.2 L217.1 1039.6 L219.8 1038.8 L222.6 1037.2 L224.3 1035.3 L225.9 1032.2 L226.8 1028.3 L229.0 1014.6 L230.9 1000.2 L247.0 841.8 L251.3 805.3 L255.3 777.5 L258.5 760.2 L259.7 755.5 L261.1 751.8 L263.6 747.4 L266.4 744.1 L269.7 741.8 L272.6 741.1 L274.8 741.4 L277.7 742.7 L280.5 744.6 L283.6 747.5 L285.7 750.0 L287.9 753.4 L289.8 756.9 L291.6 761.3 L294.0 769.8 L297.9 787.9 L308.4 831.3 L314.3 858.0 L318.6 880.1 L322.0 902.2 L324.8 924.2 L333.0 996.0 L342.2 1057.3 L347.7 1105.1 L349.0 1112.3 L349.6 1114.1 L350.1 1114.6 L350.6 1114.4 L350.9 1113.8 L351.8 1110.1 L355.9 1085.1 L356.4 1078.5 L356.4 1061.5 L356.9 1056.6 L357.6 1052.6 L359.4 1046.9 L361.7 1041.9 L364.8 1037.6 L367.8 1035.2 L370.4 1034.5 L372.3 1035.0 L374.1 1036.2 L378.6 1040.2 L379.8 1040.9 L381.7 1041.4 L394.7 1041.2 L416.9 1042.9 L425.0 1043.2 L436.6 1042.6 L464.1 1038.8 L477.1 1037.8 L488.3 1038.1 L507.6 1040.5 L515.2 1040.7 L518.9 1040.1 L521.5 1039.2 L524.3 1037.3 L526.0 1035.1 L527.5 1031.6 L528.8 1026.9 L530.1 1020.4 L531.3 1012.4 L539.8 924.9 L553.2 799.0 L555.2 783.9 L556.6 776.1 L558.3 768.3 L560.3 761.4 L562.5 755.4 L565.5 748.8 L567.8 744.5 L569.8 742.3 L572.2 741.0 L574.5 740.9 L577.0 741.5 L579.5 742.6 L582.8 744.7 L584.9 746.5 L587.2 749.1 L588.9 751.8 L590.5 755.4 L593.7 765.1 L597.2 778.1 L609.1 827.4 L613.5 847.0 L619.4 878.0 L624.5 910.9 L628.0 938.2 L636.7 1012.1 L639.9 1034.9 L645.4 1068.7 L646.9 1081.8 L649.1 1106.4 L649.8 1111.0 L650.7 1113.6 L651.2 1114.0 L651.8 1113.7 L653.3 1110.3 L654.8 1104.5 L656.1 1097.1 L657.1 1086.9 L657.9 1064.8 L658.5 1059.5 L659.5 1054.0 L661.3 1047.5 L663.6 1041.6 L665.9 1037.7 L668.2 1035.5 L671.0 1034.5 L673.0 1034.8 L674.8 1035.9 L677.6 1038.4 L679.3 1039.6 L681.1 1040.3 L683.7 1040.9 L700.2 1041.6 L723.3 1043.2 L732.7 1043.4 L741.4 1042.9 L749.4 1041.8 L756.7 1040.0" fill="none" stroke="#a9c6de" stroke-width="2.60" stroke-linejoin="round"/>
</g></g>
<path d="M777.2 1016.2 L782.0 1016.0 L787.6 1014.8 L793.3 1012.7 L797.7 1010.1 L800.7 1007.4 L803.0 1004.4 L805.0 1000.2 L806.6 995.0 L808.3 985.6 L810.5 970.5 L814.1 940.3 L816.6 910.8 L821.9 836.5 L823.9 815.0 L826.0 796.8 L829.0 777.0 L832.7 759.7 L836.7 745.6 L838.0 743.1 L838.7 742.3 L839.7 742.0 L841.3 742.4 L843.1 743.7 L844.7 745.7 L846.3 748.8 L852.1 766.0 L855.9 783.2 L858.6 792.5 L862.8 802.9 L873.6 826.9 L878.8 841.2 L882.4 853.5 L885.6 866.7 L888.3 880.0 L892.4 903.5 L895.0 915.3 L899.0 929.0 L900.8 933.7 L902.1 935.9 L902.8 936.3 L903.5 936.1 L905.1 933.5 L907.1 927.7 L909.0 920.2 L910.5 912.3 L914.1 888.7 L921.0 855.3 L924.4 833.9 L925.7 828.6 L926.7 826.7 L928.0 825.5 L929.6 825.2 L932.0 826.0 L933.8 827.2 L935.9 829.5 L937.4 832.2 L938.6 835.1 L939.7 839.9 L941.4 849.8 L944.6 873.1 L947.5 899.3 L950.4 931.7 L960.2 1063.6 L961.3 1084.9 L962.9 1128.8 L963.5 1136.4 L964.0 1133.0 L965.7 1108.5 L970.3 1063.6 L972.2 1034.2 L973.0 1029.2 L974.0 1025.5 L975.5 1022.4 L977.1 1020.4 L978.5 1019.3 L980.2 1018.5 L982.1 1018.1 L984.1 1018.2 L987.6 1019.2 L996.9 1023.3 L1000.9 1024.6 L1006.6 1025.6 L1012.2 1025.7 L1017.8 1025.2 L1023.4 1024.0 L1045.7 1017.4 L1055.1 1015.4 L1062.1 1015.0 L1074.4 1016.4 L1078.6 1016.4 L1082.0 1016.1 L1086.2 1015.2 L1089.3 1014.1 L1092.2 1012.7 L1094.8 1010.9 L1097.0 1008.9 L1099.4 1006.0 L1102.8 1000.0 L1105.2 993.4 L1107.4 984.8 L1109.2 975.4 L1110.8 964.2 L1112.1 949.0 L1115.6 893.0 L1118.1 861.2 L1121.8 823.9 L1126.1 788.8 L1129.8 764.0 L1131.5 754.4 L1132.7 750.6 L1134.3 746.9 L1136.0 744.2 L1137.9 742.3 L1139.4 742.2 L1141.3 743.8 L1144.1 748.7 L1146.8 754.5 L1150.1 764.5 L1155.4 786.4 L1158.5 796.4 L1162.7 806.7 L1173.3 830.0 L1177.8 841.9 L1180.5 851.1 L1183.1 862.1 L1189.6 897.5 L1192.6 911.4 L1197.6 928.9 L1199.2 933.8 L1200.5 936.0 L1201.2 936.4 L1201.9 936.1 L1203.3 934.2 L1205.2 929.2 L1207.1 922.5 L1211.9 893.2 L1219.2 855.8 L1222.8 834.0 L1223.9 829.7 L1225.3 827.0 L1226.7 825.8 L1228.5 825.4 L1230.7 825.8 L1232.2 826.8 L1233.9 828.9 L1235.3 831.6 L1236.4 834.8 L1239.3 847.1 L1242.0 863.2 L1244.5 883.4 L1246.8 907.6 L1257.5 1047.8 L1259.4 1078.9 L1261.4 1129.1 L1262.0 1136.1 L1262.4 1132.6 L1264.3 1106.7 L1268.7 1063.5 L1270.7 1034.1 L1271.5 1029.1 L1272.5 1025.4 L1274.0 1022.3 L1275.6 1020.3 L1277.0 1019.2 L1278.7 1018.5 L1280.6 1018.1 L1282.6 1018.2 L1286.2 1019.2 L1295.5 1023.3 L1299.5 1024.6 L1305.1 1025.6 L1310.7 1025.7 L1316.4 1025.1 L1322.0 1024.0 L1344.3 1017.4 L1353.7 1015.4 L1360.6 1015.0 L1373.0 1016.4 L1377.1 1016.4 L1380.6 1016.0 L1384.7 1015.1 L1387.9 1014.1 L1390.8 1012.6 L1393.3 1010.9 L1395.6 1008.9 L1397.9 1006.0 L1401.3 999.9 L1403.7 993.2 L1406.1 983.8 L1407.9 974.4 L1409.3 963.3 L1410.5 949.8 L1413.4 902.5 L1416.2 865.7 L1419.5 830.7 L1423.4 798.5 L1429.5 755.6 L1430.5 751.6 L1431.6 748.8 L1433.1 746.2 L1434.6 744.6 L1437.2 742.9 L1438.2 742.8 L1439.1 743.0 L1440.0 743.6 L1441.2 744.9 L1442.9 748.2 L1446.9 760.0 L1454.5 787.4 L1458.2 799.3 L1462.3 809.5 L1472.9 833.1 L1476.7 842.9 L1479.0 850.5 L1481.1 859.0 L1486.7 891.3 L1489.7 904.6" fill="none" stroke="#000" stroke-width="4.00" stroke-linejoin="round" stroke-linecap="square" stroke-dasharray="0.1 8.2" clip-path="url(#clipD)" />
<path d="M780.6 1009.9 L797.5 1014.1 L808.3 1015.7 L813.2 1015.8 L817.9 1015.4 L821.6 1014.6 L825.0 1013.3 L827.5 1011.9 L830.5 1009.7 L835.1 1004.6 L839.7 997.9 L850.6 979.7 L854.4 974.4 L858.2 970.4 L862.4 967.1 L867.2 964.6 L872.4 963.0 L878.7 962.4 L884.1 963.0 L888.5 964.3 L893.3 966.7 L897.7 970.0 L902.3 974.6 L906.5 979.7 L910.7 985.8 L920.8 1001.7 L924.1 1006.1 L927.2 1009.6 L931.1 1013.3 L935.6 1016.4 L940.6 1018.8 L945.3 1020.2 L950.8 1021.0 L955.3 1020.9 L960.4 1019.7 L965.2 1017.6 L969.2 1015.1 L973.7 1011.6 L989.7 996.1 L996.6 990.4 L1000.4 987.9 L1003.8 986.4 L1007.2 985.4 L1010.8 985.0 L1014.4 985.1 L1018.2 985.7 L1026.6 988.2 L1033.5 991.0 L1062.8 1004.4 L1073.2 1008.4 L1082.1 1011.2 L1091.2 1013.5 L1099.8 1014.9 L1108.7 1015.5 L1116.0 1015.2 L1120.6 1014.4 L1124.8 1012.7 L1128.5 1010.2 L1131.7 1007.1 L1137.0 1000.0 L1146.3 984.1 L1149.9 978.5 L1153.8 973.4 L1157.7 969.5 L1162.1 966.3 L1167.0 964.0 L1172.3 962.6 L1177.0 962.3 L1181.7 962.7 L1186.8 964.3 L1191.7 966.8 L1196.8 970.6 L1201.5 975.2 L1206.2 981.0 L1209.8 986.5 L1218.9 1001.6 L1222.1 1006.0 L1225.2 1009.5 L1229.3 1013.2 L1234.0 1016.4 L1239.1 1018.9 L1243.7 1020.3 L1249.2 1021.1 L1253.9 1020.9 L1259.1 1019.7 L1264.1 1017.5 L1268.1 1015.0 L1272.5 1011.5 L1287.5 996.2 L1293.7 990.9 L1297.7 988.3 L1301.2 986.7 L1304.9 985.6 L1308.6 985.2 L1313.3 985.4 L1317.9 986.1 L1323.3 987.5 L1328.5 989.3 L1338.0 993.4 L1362.7 1005.6 L1369.5 1008.3 L1377.1 1010.8 L1385.7 1012.9 L1394.5 1014.4 L1404.2 1015.3 L1412.3 1015.3 L1417.6 1014.6 L1421.8 1013.2 L1425.5 1011.0 L1429.4 1007.7 L1432.4 1004.2 L1435.7 999.6 L1446.0 982.2 L1450.3 976.0 L1455.6 970.0 L1458.6 967.5 L1461.2 965.9 L1465.4 963.9 L1469.1 962.8 L1473.6 962.1 L1477.5 962.2 L1481.4 962.9 L1485.2 964.2 L1488.9 966.1 L1492.5 968.8" fill="none" stroke="#000" stroke-width="3.30" stroke-linejoin="round" stroke-linecap="round" clip-path="url(#clipD)" />
<path d="M779.4 1014.1 L779.8 1012.2 L780.2 1011.8 L780.7 1012.7 L781.2 1015.4 L786.2 1066.6 L787.5 1074.6 L788.3 1077.1 L789.0 1077.7 L789.8 1076.5 L790.8 1072.6 L794.6 1051.4 L795.2 1044.7 L795.9 1027.0 L796.5 1022.0 L797.3 1018.0 L799.1 1012.9 L801.4 1009.1 L804.6 1005.9 L808.0 1003.9 L810.3 1003.2 L811.6 1003.5 L813.5 1004.8 L817.2 1008.8 L819.6 1010.0 L822.5 1010.1 L829.0 1009.2 L831.4 1009.1 L843.9 1011.3 L854.3 1011.9 L861.6 1011.8 L869.7 1011.2 L900.4 1007.5 L912.7 1006.7 L924.2 1006.8 L943.7 1008.8 L951.7 1009.0 L955.6 1008.5 L958.4 1007.7 L960.8 1006.5 L962.7 1004.8 L964.2 1002.6 L965.2 999.0 L969.6 969.4 L972.9 941.5 L980.1 873.2 L985.2 827.8 L990.0 790.5 L994.3 762.9 L997.1 748.9 L998.4 745.0 L999.7 742.0 L1002.1 738.4 L1005.3 735.1 L1008.1 733.2 L1011.1 732.5 L1013.2 732.8 L1015.9 734.2 L1019.0 736.9 L1022.3 740.5 L1025.2 744.4 L1027.6 748.5 L1029.7 752.7 L1031.8 757.8 L1035.1 769.2 L1041.8 799.9 L1054.7 852.9 L1058.3 870.8 L1061.2 889.7 L1068.0 949.3 L1070.6 969.5 L1079.2 1020.2 L1085.3 1069.2 L1086.4 1074.9 L1087.0 1076.7 L1087.5 1077.3 L1088.0 1077.1 L1088.3 1076.5 L1089.2 1073.4 L1093.4 1049.5 L1093.8 1043.6 L1093.7 1028.0 L1094.0 1024.0 L1094.8 1020.0 L1096.4 1015.1 L1099.0 1010.3 L1102.4 1006.2 L1105.5 1003.9 L1107.4 1003.4 L1109.3 1003.7 L1111.0 1004.8 L1115.7 1008.9 L1118.4 1010.0 L1126.8 1009.5 L1132.3 1009.6 L1153.9 1011.4 L1161.9 1011.7 L1170.8 1011.1 L1192.9 1008.2 L1204.6 1007.3 L1219.0 1007.1 L1241.7 1008.0 L1249.2 1007.7 L1254.4 1006.7 L1258.3 1005.2 L1261.0 1003.3 L1263.5 1000.4 L1264.8 998.0 L1266.0 994.7 L1267.5 987.0 L1269.5 954.6 L1271.8 930.3 L1279.6 866.2 L1285.9 807.5 L1290.0 779.2 L1295.0 752.5 L1296.2 747.7 L1297.5 743.8 L1299.6 739.5 L1302.1 736.4 L1305.3 734.0 L1308.2 733.0 L1310.7 733.0 L1313.2 733.5 L1315.7 734.4 L1318.0 735.7 L1320.0 737.3 L1321.6 739.1 L1324.4 743.9 L1329.5 759.3 L1336.5 783.1 L1342.2 804.7 L1347.3 826.3 L1353.9 858.2 L1359.3 890.6 L1362.9 916.3 L1371.5 984.8 L1374.5 1004.5 L1379.9 1035.6 L1381.4 1047.8 L1383.5 1069.1 L1384.3 1073.7 L1385.2 1076.3 L1385.7 1076.6 L1386.1 1076.4 L1387.4 1073.8 L1389.0 1068.3 L1390.3 1061.9 L1391.4 1051.6 L1392.6 1030.5 L1394.2 1020.6 L1396.0 1014.4 L1398.0 1009.6 L1399.9 1006.8 L1402.4 1004.5 L1405.4 1003.3 L1407.6 1003.4 L1408.8 1004.1 L1413.1 1008.1 L1415.6 1009.2 L1418.4 1009.7 L1436.6 1009.8 L1462.9 1011.8 L1470.9 1011.9 L1477.2 1011.5 L1483.6 1010.4 L1490.0 1008.5" fill="none" stroke="#000" stroke-width="4.00" stroke-linejoin="round" stroke-linecap="butt" stroke-dasharray="15 10.5" clip-path="url(#clipD)" />
<path d="M51.5 1479.7 L66.0 1484.5 L69.7 1486.2 L73.1 1488.3 L75.9 1490.8 L78.6 1494.3 L80.7 1498.3 L82.5 1503.4 L84.7 1513.7 L99.3 1611.4 L103.8 1647.4 L111.5 1716.2 L112.3 1719.4 L113.3 1721.9 L115.2 1725.3 L117.0 1727.6 L118.9 1729.2 L120.1 1729.7 L121.2 1729.7 L122.8 1728.7 L124.6 1726.2 L127.7 1720.2 L130.2 1714.1 L132.3 1708.0 L143.2 1668.0 L157.1 1625.3 L159.3 1616.9 L160.8 1609.1 L162.1 1596.3 L165.2 1536.3 L172.5 1425.7 L175.3 1376.6 L176.3 1368.4 L178.1 1359.8 L179.9 1354.6 L180.8 1353.3 L181.5 1353.3 L182.1 1353.9 L183.0 1355.9 L186.9 1368.5 L188.7 1375.1 L190.2 1381.9 L192.4 1396.1 L196.4 1431.9 L198.2 1442.1 L200.4 1451.3 L203.7 1460.7 L205.2 1464.1 L205.9 1464.8 L206.3 1464.8 L207.3 1463.8 L210.9 1457.2 L211.7 1457.0 L212.7 1458.2 L213.6 1460.2 L214.4 1463.3 L216.3 1476.0 L218.7 1483.5 L219.6 1487.2 L220.3 1492.0 L220.7 1497.6 L220.6 1521.1 L222.6 1540.5 L222.8 1557.9 L223.6 1563.6 L224.7 1566.3 L226.3 1568.3 L227.8 1569.0 L229.2 1568.3 L230.3 1566.3 L231.2 1563.8 L234.1 1551.4 L234.6 1550.6 L235.0 1551.3 L235.9 1574.4 L241.6 1651.7 L242.7 1659.8 L242.9 1659.9 L243.1 1659.3 L243.6 1656.2 L244.8 1640.5 L247.2 1588.3 L248.1 1577.3 L248.3 1577.0 L248.5 1577.2 L248.8 1579.3 L249.5 1589.6 L250.2 1609.3 L251.0 1651.2 L251.4 1658.2 L251.8 1659.3 L252.1 1659.1 L252.9 1655.5 L256.0 1635.6 L258.1 1612.6 L259.3 1606.4 L259.9 1605.4 L260.4 1605.3 L261.5 1606.7 L266.3 1620.5 L266.7 1620.9 L267.2 1620.6 L268.0 1618.4 L268.9 1612.5 L270.9 1592.1 L272.2 1581.2 L276.3 1557.8 L278.9 1540.2 L283.2 1514.6 L283.4 1514.0 L283.6 1514.1 L284.0 1516.6 L284.8 1533.8 L285.2 1536.0 L285.8 1531.8 L287.8 1510.1 L288.7 1504.9 L289.6 1501.3 L290.9 1498.1 L292.4 1495.7 L299.2 1487.8 L302.0 1483.8 L303.7 1479.9 L304.9 1473.5 L305.6 1471.8 L306.4 1471.6 L310.7 1473.9 L312.3 1474.4 L313.9 1474.5 L316.2 1473.9 L320.4 1471.6 L322.5 1471.5 L328.4 1474.0 L334.6 1475.0 L338.4 1476.0 L353.1 1482.3 L364.8 1485.5 L367.6 1486.9 L369.5 1488.4 L371.7 1490.8 L373.5 1493.4 L376.6 1499.8 L378.8 1507.5 L388.6 1569.3 L394.0 1607.2 L400.3 1657.4 L406.9 1715.8 L408.2 1720.6 L410.9 1725.7 L414.0 1729.0 L415.8 1729.8 L416.9 1729.6 L418.9 1727.9 L421.8 1722.8 L424.9 1716.0 L427.7 1708.4 L429.9 1700.7 L435.0 1680.8 L438.7 1667.6 L452.5 1625.7 L454.7 1617.3 L456.2 1609.4 L457.6 1595.9 L460.7 1535.9 L468.0 1425.3 L470.7 1377.0 L471.7 1368.8 L473.5 1360.3 L475.2 1355.0 L476.1 1353.5 L476.8 1353.2 L477.7 1354.2 L478.9 1357.2 L483.5 1372.5 L485.6 1381.5 L487.8 1395.7 L491.9 1432.3 L493.7 1442.5 L496.0 1451.7 L498.7 1459.7 L500.5 1463.8 L501.2 1464.7 L502.0 1464.6 L503.0 1463.4 L505.8 1458.1 L506.5 1457.1 L507.3 1457.0 L508.0 1457.9 L508.9 1459.9 L509.8 1462.9 L511.8 1476.4 L515.0 1486.9 L515.7 1491.6 L516.1 1497.2 L516.1 1521.5 L518.0 1540.1 L518.3 1557.4 L518.6 1560.9 L519.2 1564.0 L520.3 1566.6 L522.0 1568.5 L523.5 1569.0 L524.8 1568.0 L525.9 1566.0 L526.8 1563.4 L529.5 1551.7 L530.0 1550.6 L530.4 1551.1 L530.7 1554.7 L531.4 1574.7 L537.1 1652.2 L537.6 1657.4 L538.1 1659.9 L538.5 1659.5 L539.0 1656.6 L540.1 1642.7 L542.5 1591.3 L543.2 1581.2 L543.8 1576.6 L544.0 1576.7 L544.3 1578.4 L544.7 1586.7 L546.6 1647.8 L547.3 1656.0 L547.6 1657.8 L548.0 1657.8 L551.8 1631.8 L553.9 1612.2 L555.1 1606.5 L555.7 1605.7 L556.1 1605.7 L557.1 1607.1 L560.8 1618.1 L562.0 1620.8 L562.4 1621.1 L563.0 1620.8 L563.8 1618.4 L564.7 1612.3 L566.2 1592.6 L567.5 1581.4 L571.8 1557.4 L574.4 1539.8 L578.6 1514.8 L579.0 1514.0 L579.3 1515.5 L580.2 1533.4 L580.4 1535.7 L580.6 1536.1 L580.8 1536.0 L581.4 1533.1 L582.2 1526.4 L583.2 1506.0 L584.1 1500.7 L585.2 1498.1 L586.4 1496.4 L593.0 1490.6 L595.4 1487.6 L597.3 1483.4 L599.8 1474.7 L600.7 1472.5 L601.5 1471.7 L602.5 1471.7 L606.5 1474.0 L608.0 1474.4 L609.6 1474.5 L611.2 1474.0 L615.5 1471.7 L617.6 1471.5 L623.4 1473.9 L629.7 1474.6 L632.0 1475.2 L646.7 1481.6 L659.9 1485.4 L662.7 1486.8 L664.6 1488.2 L666.8 1490.5 L668.7 1493.1 L670.3 1495.8 L671.9 1499.4 L673.2 1503.2 L674.3 1507.8 L684.4 1572.0 L689.6 1607.6 L694.2 1644.2 L702.4 1715.4 L703.9 1721.0 L705.8 1725.3 L707.4 1727.5 L708.5 1728.7 L709.7 1729.4 L711.0 1729.7 L712.3 1729.5 L713.6 1728.7 L716.1 1726.3 L719.0 1721.8 L720.9 1717.2 L722.2 1712.6 L724.9 1699.5 L727.3 1690.2 L731.1 1678.0 L743.8 1640.7 L747.0 1629.1 L749.4 1618.2 L752.0 1601.7 L753.7 1583.5 L757.1 1521.9 L760.4 1470.0" fill="none" stroke="#000" stroke-width="3.00" stroke-linejoin="round" stroke-linecap="round" clip-path="url(#clipE)" />
<line x1="111.4" y1="1543.4" x2="701.60" y2="1543.4" stroke="#000" stroke-width="4.6" stroke-dasharray="15.6 15.2"/>
<path d="M772.1 1563.0 L774.0 1565.8 L775.8 1569.5 L777.0 1573.2 L777.8 1577.1 L778.3 1584.9 L777.8 1605.9 L778.2 1613.2 L779.1 1621.2 L782.1 1638.6 L790.0 1673.2 L792.8 1687.3 L794.6 1699.4 L796.4 1717.9 L797.4 1724.4 L798.7 1729.8 L800.8 1734.7 L803.2 1738.5 L806.4 1741.7 L809.1 1743.6 L811.3 1744.6 L813.5 1745.0 L814.9 1744.8 L817.4 1743.3 L823.6 1737.1 L827.8 1734.5 L833.0 1732.7 L845.8 1730.2 L848.7 1729.1 L851.3 1727.5 L853.5 1725.4 L855.4 1722.8 L864.1 1707.9 L872.5 1695.6 L882.6 1681.5 L884.8 1679.1 L886.6 1677.7 L889.3 1676.7 L892.4 1676.8 L895.6 1677.7 L903.1 1680.4 L907.0 1681.2 L909.8 1680.9 L911.1 1680.4 L913.0 1679.1 L915.2 1676.8 L917.3 1674.0 L920.4 1668.9 L923.5 1663.1 L928.0 1653.0 L936.4 1631.6 L939.8 1624.8 L942.5 1621.4 L944.3 1619.8 L945.6 1619.1 L947.0 1618.7 L948.3 1618.8 L952.1 1619.9 L953.0 1619.5 L953.5 1618.6 L954.1 1614.3 L955.3 1550.4 L957.1 1484.7 L957.8 1470.6 L957.9 1470.4 L958.1 1470.7 L958.3 1473.5 L958.8 1485.1 L960.1 1541.8 L960.5 1548.1 L960.7 1549.4 L960.9 1549.5 L961.5 1545.9 L962.1 1538.7 L963.3 1512.3 L963.8 1505.7 L964.2 1504.5 L964.6 1505.2 L966.7 1515.8 L967.1 1516.2 L967.5 1514.9 L968.4 1505.5 L970.0 1473.8 L971.9 1454.8 L973.7 1442.7 L976.0 1430.0 L982.4 1401.3 L985.7 1389.0 L989.4 1377.5 L993.5 1366.9 L997.0 1359.6 L999.4 1356.4 L1001.2 1355.0 L1002.7 1354.2 L1005.7 1353.7 L1007.3 1353.9 L1009.6 1354.8 L1011.5 1356.3 L1013.2 1358.0 L1016.5 1363.6 L1020.9 1373.1 L1024.6 1383.6 L1028.7 1399.0 L1037.2 1439.0 L1044.0 1468.7 L1050.1 1493.5 L1056.4 1517.5 L1063.2 1541.3 L1066.8 1552.7 L1070.1 1560.9 L1075.7 1571.7 L1077.3 1576.2 L1078.0 1580.0 L1078.2 1584.8 L1077.2 1600.2 L1077.1 1607.5 L1077.5 1614.0 L1078.3 1621.2 L1080.9 1636.2 L1088.9 1670.9 L1091.8 1685.7 L1094.0 1700.2 L1095.9 1719.5 L1097.4 1727.5 L1098.6 1731.2 L1100.1 1734.7 L1102.1 1737.9 L1104.1 1740.2 L1107.1 1742.7 L1109.9 1744.4 L1112.1 1745.0 L1114.2 1744.9 L1116.8 1743.3 L1122.9 1737.0 L1126.3 1734.8 L1131.5 1733.0 L1141.3 1731.2 L1145.2 1730.2 L1148.7 1728.7 L1151.1 1726.9 L1154.6 1722.7 L1161.4 1711.4 L1177.7 1687.0 L1181.7 1681.5 L1185.3 1678.1 L1188.0 1676.9 L1189.5 1676.7 L1191.8 1676.8 L1195.0 1677.7 L1203.3 1680.7 L1207.1 1681.3 L1209.9 1680.8 L1212.3 1679.1 L1214.5 1676.7 L1216.4 1673.8 L1222.1 1664.5 L1225.1 1659.0 L1227.8 1652.6 L1233.9 1635.1 L1236.3 1630.0 L1238.8 1625.7 L1242.0 1621.7 L1245.0 1619.3 L1246.3 1618.8 L1247.6 1618.7 L1251.3 1619.5 L1252.2 1619.1 L1252.8 1618.3 L1253.5 1614.6 L1254.1 1602.0 L1254.5 1549.9 L1256.6 1480.1 L1257.2 1470.5 L1257.3 1470.3 L1257.4 1470.6 L1257.6 1473.4 L1258.2 1486.1 L1259.5 1542.5 L1259.9 1548.5 L1260.1 1549.5 L1260.3 1549.4 L1261.0 1545.3 L1261.5 1537.7 L1263.1 1506.3 L1263.5 1504.5 L1264.0 1505.2 L1266.2 1516.1 L1266.5 1516.1 L1267.0 1514.3 L1267.7 1505.5 L1269.2 1475.3 L1270.8 1458.9 L1273.9 1437.9 L1278.5 1415.3 L1287.2 1381.0 L1289.3 1374.0 L1291.4 1368.7 L1294.7 1362.4 L1298.6 1357.4 L1302.1 1354.3 L1304.1 1353.5 L1305.6 1353.6 L1307.8 1354.5 L1310.0 1356.0 L1312.5 1358.2 L1314.7 1360.6 L1318.1 1366.0 L1320.7 1372.6 L1336.9 1438.1 L1349.0 1493.6 L1354.3 1515.4 L1357.9 1527.7 L1361.7 1539.1 L1365.3 1548.8 L1371.9 1564.4 L1374.6 1572.6 L1375.5 1577.2 L1376.1 1581.9 L1376.8 1608.3 L1377.8 1618.7 L1379.2 1629.1 L1382.2 1645.6 L1389.1 1675.5 L1391.8 1688.8 L1393.5 1700.1 L1395.2 1717.8 L1396.2 1725.1 L1397.6 1730.5 L1399.8 1735.3 L1402.3 1739.0 L1405.7 1742.2 L1409.9 1744.6 L1412.9 1745.0 L1415.5 1743.8 L1422.2 1737.1 L1426.4 1734.5 L1431.7 1732.7 L1444.4 1730.1 L1447.3 1729.0 L1449.3 1727.9 L1452.2 1725.4 L1455.0 1721.6 L1466.2 1702.5 L1473.3 1691.9 L1480.3 1683.4 L1487.3 1676.8" fill="none" stroke="#000" stroke-width="4.40" stroke-linejoin="round" stroke-linecap="round" clip-path="url(#clipF)" />
<path d="M402.3 2279.8 L414.4 2280.6 L418.4 2281.3 L422.0 2282.7 L425.7 2285.4 L430.4 2290.9 L442.2 2308.2 L446.5 2315.8 L452.1 2327.4 L454.6 2331.4 L456.5 2333.7 L458.3 2335.1 L460.5 2335.9 L463.7 2336.4 L468.7 2335.7 L471.1 2334.9 L474.0 2333.4 L477.8 2330.7 L488.7 2321.5 L492.1 2319.2 L500.3 2314.8 L502.2 2313.4 L504.3 2311.1 L506.5 2307.1 L508.1 2302.7 L510.6 2293.3 L515.0 2279.0 L518.0 2265.2 L519.6 2259.8 L521.3 2256.3 L523.5 2253.2 L525.7 2251.3 L527.0 2250.7 L528.3 2250.4 L530.3 2250.9 L533.1 2253.4 L538.4 2260.3 L546.8 2272.4 L549.2 2275.1 L551.3 2275.8 L556.7 2274.4 L558.9 2274.4 L561.5 2275.5 L563.8 2277.4 L565.1 2279.3 L566.5 2282.3 L569.6 2294.0 L570.6 2296.0 L571.9 2297.6 L574.3 2298.8 L577.3 2298.9 L579.5 2298.1 L581.8 2295.9 L582.2 2295.7 L582.5 2296.0 L589.3 2317.5 L589.9 2319.2 L590.6 2320.1 L591.0 2320.1 L591.7 2319.1 L593.0 2315.9 L595.2 2304.4 L596.3 2301.5 L596.9 2301.9 L597.5 2304.0 L599.9 2317.8 L600.5 2319.4 L601.1 2319.6 L602.4 2318.0 L606.0 2311.0 L608.2 2308.5 L609.4 2308.1 L610.0 2308.2 L614.5 2311.2 L615.6 2311.1 L616.7 2310.2 L621.3 2302.4 L626.2 2295.9 L630.2 2289.5 L631.6 2287.8 L632.5 2287.7 L632.8 2288.1 L634.4 2291.7 L635.0 2291.1 L636.8 2286.7 L638.5 2284.9 L640.6 2283.9 L652.1 2279.3 L655.9 2278.3 L659.8 2277.7 L670.1 2277.3 L679.6 2277.7 L701.1 2279.5 L716.6 2280.1 L721.3 2280.9 L725.6 2282.5 L729.4 2285.0 L733.4 2288.9 L736.5 2292.7 L740.2 2298.0 L752.7 2318.5 L755.7 2323.9 L759.4 2332.2 L760.9 2333.9 L762.8 2335.1 L765.0 2335.8 L767.3 2336.1 L770.6 2336.0 L773.9 2335.3 L777.0 2334.2 L779.8 2332.7 L784.2 2329.5 L794.5 2320.6 L797.9 2318.3 L805.8 2313.8 L808.3 2311.9 L809.8 2310.2 L811.1 2308.3 L812.2 2305.3 L816.8 2287.5 L826.1 2255.6 L827.2 2253.2 L828.1 2252.0 L829.2 2251.2 L830.6 2250.8 L832.8 2250.8 L835.1 2251.5 L837.1 2252.6 L838.9 2254.2 L841.9 2258.0 L848.8 2269.7 L850.8 2272.0 L852.5 2273.5 L855.1 2274.8 L857.3 2275.3 L860.4 2275.1 L864.0 2274.1 L865.3 2274.4 L866.7 2275.3 L868.9 2278.1 L870.5 2281.2 L873.3 2290.8 L874.4 2293.8 L876.1 2296.7 L877.7 2298.5 L879.6 2299.5 L881.6 2299.6 L883.0 2298.8 L886.4 2295.7 L886.8 2295.6 L887.2 2295.9 L889.0 2302.5 L893.8 2317.2 L894.8 2319.7 L895.6 2320.2 L896.7 2318.6 L897.8 2315.2 L899.8 2304.7 L900.9 2301.5 L901.1 2301.4 L901.5 2301.8 L902.3 2304.7 L904.5 2318.3 L905.2 2319.5 L905.8 2319.5 L906.9 2318.1 L911.2 2310.8 L913.2 2308.7 L914.4 2308.4 L915.6 2308.5 L919.8 2311.4 L920.4 2311.4 L921.4 2310.7 L925.3 2303.3 L936.7 2287.5 L937.1 2287.2 L937.5 2287.3 L937.8 2287.9 L938.8 2291.3 L939.2 2291.8 L941.3 2286.9 L943.0 2284.9 L945.1 2283.9 L956.6 2279.3 L960.4 2278.3 L964.3 2277.7 L972.9 2277.2 L980.8 2277.5 L1000.0 2279.0 L1017.0 2279.7 L1023.3 2280.6 L1028.5 2282.1 L1033.3 2284.6 L1037.6 2287.9 L1040.2 2290.9 L1043.1 2294.8 L1050.9 2308.4 L1058.0 2319.4 L1060.3 2323.6 L1063.2 2330.7 L1064.4 2332.8 L1066.1 2334.3 L1068.7 2335.6 L1071.7 2336.1 L1075.0 2335.9 L1078.2 2335.2 L1081.3 2334.2 L1086.9 2331.1 L1090.7 2328.2 L1099.9 2320.4 L1110.5 2313.0 L1114.6 2309.5 L1116.8 2306.4 L1118.0 2303.6 L1118.6 2300.3 L1119.7 2290.9 L1120.7 2287.9 L1122.0 2286.1" fill="none" stroke="#000" stroke-width="2.30" stroke-linejoin="round" stroke-linecap="butt" stroke-dasharray="1.6 2.2" clip-path="url(#clipG)" />
<path d="M395.5 2159.5 L397.4 2162.3 L399.2 2165.9 L400.5 2169.7 L401.3 2173.5 L401.8 2181.4 L401.3 2202.4 L401.7 2209.6 L402.6 2217.6 L405.6 2235.0 L413.6 2269.6 L416.5 2283.7 L418.4 2295.8 L420.2 2314.2 L421.2 2320.8 L422.6 2326.2 L424.6 2331.1 L427.1 2334.9 L430.3 2338.1 L433.0 2339.9 L435.2 2341.0 L437.4 2341.5 L438.8 2341.3 L441.4 2339.9 L447.6 2333.8 L451.7 2331.1 L457.7 2329.1 L470.5 2326.6 L473.4 2325.6 L476.0 2324.0 L478.3 2321.9 L480.2 2319.3 L489.5 2303.9 L498.9 2290.3 L508.2 2277.6 L510.4 2275.3 L512.3 2274.0 L515.1 2273.1 L518.2 2273.3 L521.5 2274.2 L528.9 2276.9 L532.8 2277.6 L534.9 2277.5 L536.3 2277.1 L539.4 2275.1 L541.6 2272.6 L544.1 2269.1 L549.9 2258.9 L554.1 2249.6 L562.9 2227.5 L566.5 2220.8 L569.2 2217.5 L571.8 2215.6 L573.1 2215.2 L574.5 2215.1 L578.9 2216.3 L579.7 2215.8 L580.2 2214.7 L580.7 2210.3 L581.9 2147.2 L583.7 2081.7 L584.5 2067.1 L584.6 2066.9 L584.7 2067.1 L585.0 2069.7 L585.5 2081.1 L586.8 2138.6 L587.2 2144.8 L587.4 2146.0 L587.7 2146.0 L588.3 2142.1 L588.9 2134.6 L590.6 2102.5 L590.9 2101.1 L591.4 2101.5 L593.6 2112.5 L594.0 2112.6 L594.4 2111.1 L595.2 2102.5 L596.9 2070.0 L598.8 2051.7 L600.6 2039.5 L602.9 2026.9 L609.2 1998.9 L612.5 1986.6 L616.2 1975.2 L620.2 1964.6 L624.1 1956.5 L626.4 1953.3 L629.6 1950.9 L632.6 1950.2 L634.2 1950.3 L636.5 1951.0 L638.6 1952.3 L640.3 1954.0 L643.9 1959.4 L648.4 1968.8 L652.5 1980.1 L656.6 1995.5 L665.3 2035.4 L672.1 2065.1 L678.4 2089.9 L684.8 2113.9 L691.4 2136.9 L695.3 2149.1 L698.7 2157.2 L704.4 2168.0 L706.2 2173.2 L706.8 2177.1 L707.0 2181.8 L706.0 2196.5 L705.9 2203.0 L706.3 2210.3 L707.0 2217.5 L709.9 2233.2 L717.8 2267.1 L720.8 2281.9 L723.1 2296.4 L725.1 2316.5 L726.7 2324.4 L727.9 2328.1 L729.6 2331.6 L731.6 2334.7 L733.7 2337.0 L736.7 2339.4 L739.6 2341.0 L741.8 2341.5 L743.9 2341.2 L746.5 2339.5 L752.7 2333.2 L756.1 2331.1 L761.3 2329.4 L771.2 2327.7 L775.1 2326.7 L778.6 2325.2 L781.1 2323.5 L784.6 2319.3 L791.4 2308.1 L808.4 2283.1 L812.6 2277.7 L816.2 2274.5 L818.9 2273.3 L822.7 2273.3 L825.9 2274.1 L834.2 2277.1 L838.0 2277.8 L840.8 2277.3 L843.3 2275.7 L845.5 2273.4 L847.5 2270.5 L853.3 2261.2 L856.3 2255.7 L859.1 2249.3 L865.6 2231.2 L867.7 2226.8 L870.2 2222.5 L873.3 2218.5 L876.3 2215.9 L879.0 2215.1 L883.3 2215.9 L884.1 2215.5 L884.7 2214.6 L885.4 2210.8 L886.0 2198.2 L886.4 2146.2 L888.6 2076.3 L889.1 2066.9 L889.6 2070.0 L890.2 2082.9 L891.5 2138.5 L891.8 2144.7 L892.1 2145.9 L892.3 2146.0 L892.9 2142.2 L893.5 2134.9 L895.2 2102.6 L895.6 2101.0 L896.1 2101.8 L898.2 2112.4 L898.6 2112.7 L899.0 2111.2 L899.8 2102.8 L901.4 2071.5 L903.0 2055.1 L906.2 2034.1 L910.9 2011.6 L919.5 1978.1 L921.7 1971.1 L924.0 1965.1 L927.4 1958.8 L931.3 1953.8 L934.9 1950.7 L936.9 1950.0 L938.4 1950.1 L940.6 1951.0 L942.8 1952.4 L945.4 1954.6 L947.6 1957.0 L951.0 1962.3 L953.7 1968.9 L955.5 1975.2 L970.2 2034.3 L982.5 2089.8 L987.9 2111.6 L991.5 2123.9 L995.4 2135.3 L999.4 2145.7 L1006.1 2161.2 L1008.8 2169.5 L1009.8 2174.8 L1010.3 2180.3 L1010.6 2198.7 L1011.1 2207.5 L1013.2 2225.1 L1016.3 2241.6 L1023.5 2272.3 L1026.2 2285.6 L1027.9 2297.0 L1029.6 2314.6 L1030.6 2321.1 L1032.2 2327.2 L1034.4 2332.1 L1037.1 2335.7 L1040.5 2338.8 L1042.6 2340.1 L1044.8 2341.1 L1046.3 2341.4 L1047.7 2341.4 L1050.4 2340.1 L1057.2 2333.5 L1061.3 2331.0 L1066.7 2329.2 L1079.4 2326.6 L1082.3 2325.6 L1084.3 2324.5 L1087.3 2322.1 L1090.2 2318.4 L1102.4 2298.1 L1109.6 2287.6 L1116.3 2279.8 L1123.3 2273.2" fill="none" stroke="#000" stroke-width="2.60" stroke-linejoin="round" stroke-linecap="round" clip-path="url(#clipG)" />
<path d="M398.0 2278.5 L401.0 2280.8 L403.7 2283.7 L412.7 2295.6 L415.7 2299.2 L423.8 2307.0 L427.9 2310.0 L430.0 2311.0 L432.3 2311.4 L434.6 2311.2 L436.7 2310.5 L438.0 2309.7 L439.6 2308.1 L440.8 2306.1 L441.8 2303.8 L444.0 2296.5 L446.8 2288.5 L448.1 2283.2 L451.0 2262.3 L454.7 2238.6 L458.2 2210.9 L464.2 2152.8 L467.5 2123.3 L471.7 2093.1 L476.3 2065.5 L481.7 2038.9 L484.7 2025.8 L486.5 2019.6 L488.9 2013.5 L491.9 2008.1 L494.6 2004.8 L495.7 2004.1 L496.8 2003.9 L497.9 2004.4 L498.9 2005.3 L500.9 2008.2 L505.4 2016.3 L509.2 2025.0 L512.0 2032.4 L514.6 2040.8 L519.5 2060.2 L523.4 2080.7 L526.9 2104.5 L530.5 2135.6 L540.5 2228.4 L544.5 2259.6 L547.5 2278.8 L550.9 2294.4 L554.8 2307.1 L557.6 2314.2 L564.8 2329.6 L569.4 2341.5 L571.7 2345.7 L573.2 2347.0 L574.5 2347.0 L575.7 2346.0 L577.4 2343.6 L579.1 2340.3 L581.5 2334.7 L585.8 2321.8 L601.2 2258.5 L604.0 2244.2 L609.1 2213.7 L612.0 2198.0 L617.2 2173.6 L622.1 2152.7 L624.1 2145.7 L626.4 2140.6 L628.2 2137.8 L629.9 2135.9 L631.7 2134.4 L633.0 2133.8 L634.4 2133.6 L635.8 2134.0 L637.9 2135.3 L639.7 2137.0 L643.2 2141.6 L646.9 2148.7 L652.8 2162.7 L664.5 2194.2 L676.0 2222.3 L685.7 2246.9 L691.6 2260.0 L697.3 2270.5 L701.8 2277.2 L706.2 2282.9 L723.1 2302.0 L726.4 2305.4 L730.3 2308.5 L734.9 2310.9 L737.2 2311.5 L738.7 2311.6 L740.1 2311.3 L741.4 2310.7 L743.0 2309.2 L744.8 2306.5 L747.0 2301.9 L748.7 2297.4 L751.5 2286.8 L754.3 2271.8 L758.3 2245.7 L761.5 2221.1 L770.5 2138.4 L774.1 2109.0 L778.1 2081.3 L782.6 2056.0 L787.7 2032.6 L790.2 2023.4 L792.7 2015.9 L795.0 2010.6 L797.4 2006.7 L799.8 2004.4 L801.6 2003.8 L802.7 2004.3 L803.8 2005.2 L805.8 2008.1 L808.5 2013.5 L814.7 2027.2 L819.3 2040.0 L823.3 2055.5 L827.7 2080.0 L832.4 2112.5 L836.2 2144.2 L845.5 2231.7 L849.1 2259.7 L852.0 2278.1 L855.4 2293.7 L859.5 2307.1 L862.3 2314.1 L869.4 2329.6 L874.1 2341.6 L876.3 2345.7 L877.9 2347.0 L879.1 2347.0 L880.4 2346.0 L882.1 2343.6 L883.8 2340.3 L886.1 2334.6 L890.2 2322.6 L901.3 2278.2 L904.4 2264.8 L907.8 2247.5 L917.4 2194.8 L921.4 2175.2 L925.3 2158.0 L928.4 2147.3 L931.4 2139.9 L932.7 2137.8 L934.4 2135.8 L936.3 2134.3 L937.8 2133.7 L939.2 2133.7 L940.6 2134.1 L942.6 2135.4 L944.3 2137.1 L947.8 2141.6 L951.3 2147.9 L955.6 2158.3 L971.6 2200.1 L987.6 2240.3 L995.2 2257.1 L1002.8 2271.1 L1008.4 2279.7 L1014.7 2287.9 L1020.1 2293.9 L1032.7 2306.5 L1035.7 2309.0 L1038.4 2310.6 L1041.5 2311.5 L1044.8 2311.3 L1046.2 2310.6 L1047.9 2309.1 L1049.3 2307.3 L1050.4 2305.1 L1055.9 2289.1 L1057.7 2281.5 L1059.9 2264.6 L1063.7 2241.0 L1066.0 2224.4 L1073.9 2147.9 L1079.3 2105.1 L1082.9 2081.3 L1086.7 2059.1 L1090.2 2041.8 L1093.9 2026.5 L1096.7 2017.4 L1099.9 2010.4 L1101.7 2007.3 L1103.3 2005.3 L1104.9 2004.1 L1106.1 2003.9 L1107.2 2004.3 L1108.4 2005.3 L1111.0 2009.0 L1112.6 2012.2 L1115.6 2019.6 L1120.3 2028.6" fill="none" stroke="#ff0000" stroke-width="3.10" stroke-linejoin="round" stroke-linecap="butt" stroke-dasharray="8 8.2" clip-path="url(#clipG)" />
<line x1="244.35" y1="495.80" x2="244.35" y2="489.80" stroke="#8a8a8a" stroke-width="1.6"/>
<line x1="244.35" y1="62.40" x2="244.35" y2="68.40" stroke="#8a8a8a" stroke-width="1.6"/>
<line x1="394.30" y1="495.80" x2="394.30" y2="489.80" stroke="#8a8a8a" stroke-width="1.6"/>
<line x1="394.30" y1="62.40" x2="394.30" y2="68.40" stroke="#8a8a8a" stroke-width="1.6"/>
<line x1="544.25" y1="495.80" x2="544.25" y2="489.80" stroke="#8a8a8a" stroke-width="1.6"/>
<line x1="544.25" y1="62.40" x2="544.25" y2="68.40" stroke="#8a8a8a" stroke-width="1.6"/>
<line x1="94.40" y1="113.45" x2="100.40" y2="113.45" stroke="#8a8a8a" stroke-width="1.6"/>
<line x1="694.20" y1="113.45" x2="688.20" y2="113.45" stroke="#8a8a8a" stroke-width="1.6"/>
<line x1="94.40" y1="164.50" x2="100.40" y2="164.50" stroke="#8a8a8a" stroke-width="1.6"/>
<line x1="694.20" y1="164.50" x2="688.20" y2="164.50" stroke="#8a8a8a" stroke-width="1.6"/>
<line x1="94.40" y1="215.55" x2="100.40" y2="215.55" stroke="#8a8a8a" stroke-width="1.6"/>
<line x1="694.20" y1="215.55" x2="688.20" y2="215.55" stroke="#8a8a8a" stroke-width="1.6"/>
<line x1="94.40" y1="266.60" x2="100.40" y2="266.60" stroke="#8a8a8a" stroke-width="1.6"/>
<line x1="694.20" y1="266.60" x2="688.20" y2="266.60" stroke="#8a8a8a" stroke-width="1.6"/>
<line x1="94.40" y1="317.65" x2="100.40" y2="317.65" stroke="#8a8a8a" stroke-width="1.6"/>
<line x1="694.20" y1="317.65" x2="688.20" y2="317.65" stroke="#8a8a8a" stroke-width="1.6"/>
<line x1="94.40" y1="368.70" x2="100.40" y2="368.70" stroke="#8a8a8a" stroke-width="1.6"/>
<line x1="694.20" y1="368.70" x2="688.20" y2="368.70" stroke="#8a8a8a" stroke-width="1.6"/>
<line x1="94.40" y1="419.75" x2="100.40" y2="419.75" stroke="#8a8a8a" stroke-width="1.6"/>
<line x1="694.20" y1="419.75" x2="688.20" y2="419.75" stroke="#8a8a8a" stroke-width="1.6"/>
<line x1="94.40" y1="470.80" x2="100.40" y2="470.80" stroke="#8a8a8a" stroke-width="1.6"/>
<line x1="694.20" y1="470.80" x2="688.20" y2="470.80" stroke="#8a8a8a" stroke-width="1.6"/>
<path d="M694.20 62.40L94.40 62.40L94.40 495.80" fill="none" stroke="#8a8a8a" stroke-width="1.8"/>
<path d="M94.40 495.80L694.20 495.80" fill="none" stroke="#8a8a8a" stroke-width="1.8"/>
<path d="M694.20 62.40L694.20 495.80" fill="none" stroke="#8a8a8a" stroke-width="1.8"/>
<text transform="translate(69.65 530.31) scale(1.0000 1)" font-size="25.50" font-weight="bold" fill="#262626">31.5</text>
<text transform="translate(230.39 530.31) scale(1.0000 1)" font-size="25.50" font-weight="bold" fill="#262626">32</text>
<text transform="translate(369.55 530.31) scale(1.0000 1)" font-size="25.50" font-weight="bold" fill="#262626">32.5</text>
<text transform="translate(530.24 530.31) scale(1.0000 1)" font-size="25.50" font-weight="bold" fill="#262626">33</text>
<text transform="translate(669.45 530.31) scale(1.0000 1)" font-size="25.50" font-weight="bold" fill="#262626">33.5</text>
<text transform="translate(57.78 72.18) scale(1.0000 1)" font-size="25.50" font-weight="bold" fill="#262626">70</text>
<text transform="translate(57.78 123.23) scale(1.0000 1)" font-size="25.50" font-weight="bold" fill="#262626">60</text>
<text transform="translate(57.78 174.28) scale(1.0000 1)" font-size="25.50" font-weight="bold" fill="#262626">50</text>
<text transform="translate(57.78 225.33) scale(1.0000 1)" font-size="25.50" font-weight="bold" fill="#262626">40</text>
<text transform="translate(57.78 276.36) scale(1.0000 1)" font-size="25.50" font-weight="bold" fill="#262626">30</text>
<text transform="translate(57.78 327.43) scale(1.0000 1)" font-size="25.50" font-weight="bold" fill="#262626">20</text>
<text transform="translate(57.78 378.48) scale(1.0000 1)" font-size="25.50" font-weight="bold" fill="#262626">10</text>
<text transform="translate(71.96 429.53) scale(1.0000 1)" font-size="25.50" font-weight="bold" fill="#262626">0</text>
<text transform="translate(49.29 480.58) scale(1.0000 1)" font-size="25.50" font-weight="bold" fill="#262626">-10</text>
<line x1="974.73" y1="495.50" x2="974.73" y2="489.50" stroke="#8a8a8a" stroke-width="1.6"/>
<line x1="974.73" y1="65.30" x2="974.73" y2="71.30" stroke="#8a8a8a" stroke-width="1.6"/>
<line x1="1123.75" y1="495.50" x2="1123.75" y2="489.50" stroke="#8a8a8a" stroke-width="1.6"/>
<line x1="1123.75" y1="65.30" x2="1123.75" y2="71.30" stroke="#8a8a8a" stroke-width="1.6"/>
<line x1="1272.78" y1="495.50" x2="1272.78" y2="489.50" stroke="#8a8a8a" stroke-width="1.6"/>
<line x1="1272.78" y1="65.30" x2="1272.78" y2="71.30" stroke="#8a8a8a" stroke-width="1.6"/>
<line x1="825.70" y1="142.00" x2="831.70" y2="142.00" stroke="#8a8a8a" stroke-width="1.6"/>
<line x1="1421.80" y1="142.00" x2="1415.80" y2="142.00" stroke="#8a8a8a" stroke-width="1.6"/>
<line x1="825.70" y1="219.00" x2="831.70" y2="219.00" stroke="#8a8a8a" stroke-width="1.6"/>
<line x1="1421.80" y1="219.00" x2="1415.80" y2="219.00" stroke="#8a8a8a" stroke-width="1.6"/>
<line x1="825.70" y1="296.00" x2="831.70" y2="296.00" stroke="#8a8a8a" stroke-width="1.6"/>
<line x1="1421.80" y1="296.00" x2="1415.80" y2="296.00" stroke="#8a8a8a" stroke-width="1.6"/>
<line x1="825.70" y1="373.00" x2="831.70" y2="373.00" stroke="#8a8a8a" stroke-width="1.6"/>
<line x1="1421.80" y1="373.00" x2="1415.80" y2="373.00" stroke="#8a8a8a" stroke-width="1.6"/>
<line x1="825.70" y1="450.00" x2="831.70" y2="450.00" stroke="#8a8a8a" stroke-width="1.6"/>
<line x1="1421.80" y1="450.00" x2="1415.80" y2="450.00" stroke="#8a8a8a" stroke-width="1.6"/>
<path d="M1421.80 65.30L825.70 65.30L825.70 495.50" fill="none" stroke="#8a8a8a" stroke-width="1.8"/>
<path d="M825.70 495.50L1421.80 495.50" fill="none" stroke="#8a8a8a" stroke-width="1.8"/>
<path d="M1421.80 65.30L1421.80 495.50" fill="none" stroke="#8a8a8a" stroke-width="1.8"/>
<text transform="translate(800.95 529.31) scale(1.0000 1)" font-size="25.50" font-weight="bold" fill="#262626">31.5</text>
<text transform="translate(960.76 529.31) scale(1.0000 1)" font-size="25.50" font-weight="bold" fill="#262626">32</text>
<text transform="translate(1099.00 529.31) scale(1.0000 1)" font-size="25.50" font-weight="bold" fill="#262626">32.5</text>
<text transform="translate(1258.76 529.31) scale(1.0000 1)" font-size="25.50" font-weight="bold" fill="#262626">33</text>
<text transform="translate(1397.05 529.31) scale(1.0000 1)" font-size="25.50" font-weight="bold" fill="#262626">33.5</text>
<text transform="translate(774.90 74.78) scale(1.0000 1)" font-size="25.50" font-weight="bold" fill="#262626">400</text>
<text transform="translate(774.90 151.76) scale(1.0000 1)" font-size="25.50" font-weight="bold" fill="#262626">300</text>
<text transform="translate(774.90 228.78) scale(1.0000 1)" font-size="25.50" font-weight="bold" fill="#262626">200</text>
<text transform="translate(774.90 305.78) scale(1.0000 1)" font-size="25.50" font-weight="bold" fill="#262626">100</text>
<text transform="translate(803.26 382.78) scale(1.0000 1)" font-size="25.50" font-weight="bold" fill="#262626">0</text>
<text transform="translate(766.41 459.78) scale(1.0000 1)" font-size="25.50" font-weight="bold" fill="#262626">-100</text>
<line x1="246.65" y1="1134.30" x2="246.65" y2="1128.30" stroke="#8a8a8a" stroke-width="1.6"/>
<line x1="246.65" y1="694.90" x2="246.65" y2="700.90" stroke="#8a8a8a" stroke-width="1.6"/>
<line x1="397.40" y1="1134.30" x2="397.40" y2="1128.30" stroke="#8a8a8a" stroke-width="1.6"/>
<line x1="397.40" y1="694.90" x2="397.40" y2="700.90" stroke="#8a8a8a" stroke-width="1.6"/>
<line x1="548.15" y1="1134.30" x2="548.15" y2="1128.30" stroke="#8a8a8a" stroke-width="1.6"/>
<line x1="548.15" y1="694.90" x2="548.15" y2="700.90" stroke="#8a8a8a" stroke-width="1.6"/>
<line x1="95.90" y1="782.78" x2="101.90" y2="782.78" stroke="#8a8a8a" stroke-width="1.6"/>
<line x1="698.90" y1="782.78" x2="692.90" y2="782.78" stroke="#8a8a8a" stroke-width="1.6"/>
<line x1="95.90" y1="870.66" x2="101.90" y2="870.66" stroke="#8a8a8a" stroke-width="1.6"/>
<line x1="698.90" y1="870.66" x2="692.90" y2="870.66" stroke="#8a8a8a" stroke-width="1.6"/>
<line x1="95.90" y1="958.54" x2="101.90" y2="958.54" stroke="#8a8a8a" stroke-width="1.6"/>
<line x1="698.90" y1="958.54" x2="692.90" y2="958.54" stroke="#8a8a8a" stroke-width="1.6"/>
<line x1="95.90" y1="1046.42" x2="101.90" y2="1046.42" stroke="#8a8a8a" stroke-width="1.6"/>
<line x1="698.90" y1="1046.42" x2="692.90" y2="1046.42" stroke="#8a8a8a" stroke-width="1.6"/>
<path d="M698.90 694.90L95.90 694.90L95.90 1134.30" fill="none" stroke="#8a8a8a" stroke-width="1.8"/>
<path d="M95.90 1134.30L698.90 1134.30" fill="none" stroke="#8a8a8a" stroke-width="1.8"/>
<path d="M698.90 694.90L698.90 1134.30" fill="none" stroke="#8a8a8a" stroke-width="1.8"/>
<text transform="translate(71.15 1169.41) scale(1.0000 1)" font-size="25.50" font-weight="bold" fill="#262626">31.5</text>
<text transform="translate(232.69 1169.41) scale(1.0000 1)" font-size="25.50" font-weight="bold" fill="#262626">32</text>
<text transform="translate(372.65 1169.41) scale(1.0000 1)" font-size="25.50" font-weight="bold" fill="#262626">32.5</text>
<text transform="translate(534.14 1169.41) scale(1.0000 1)" font-size="25.50" font-weight="bold" fill="#262626">33</text>
<text transform="translate(674.15 1169.41) scale(1.0000 1)" font-size="25.50" font-weight="bold" fill="#262626">33.5</text>
<text transform="translate(45.10 704.68) scale(1.0000 1)" font-size="25.50" font-weight="bold" fill="#262626">400</text>
<text transform="translate(45.10 792.54) scale(1.0000 1)" font-size="25.50" font-weight="bold" fill="#262626">300</text>
<text transform="translate(45.10 880.44) scale(1.0000 1)" font-size="25.50" font-weight="bold" fill="#262626">200</text>
<text transform="translate(45.10 968.32) scale(1.0000 1)" font-size="25.50" font-weight="bold" fill="#262626">100</text>
<text transform="translate(73.46 1056.20) scale(1.0000 1)" font-size="25.50" font-weight="bold" fill="#262626">0</text>
<text transform="translate(36.61 1144.08) scale(1.0000 1)" font-size="25.50" font-weight="bold" fill="#262626">-100</text>
<line x1="985.12" y1="1143.40" x2="985.12" y2="1137.40" stroke="#8a8a8a" stroke-width="1.6"/>
<line x1="985.12" y1="690.20" x2="985.12" y2="696.20" stroke="#8a8a8a" stroke-width="1.6"/>
<line x1="1134.35" y1="1143.40" x2="1134.35" y2="1137.40" stroke="#8a8a8a" stroke-width="1.6"/>
<line x1="1134.35" y1="690.20" x2="1134.35" y2="696.20" stroke="#8a8a8a" stroke-width="1.6"/>
<line x1="1283.57" y1="1143.40" x2="1283.57" y2="1137.40" stroke="#8a8a8a" stroke-width="1.6"/>
<line x1="1283.57" y1="690.20" x2="1283.57" y2="696.20" stroke="#8a8a8a" stroke-width="1.6"/>
<line x1="835.90" y1="771.26" x2="841.90" y2="771.26" stroke="#8a8a8a" stroke-width="1.6"/>
<line x1="1432.80" y1="771.26" x2="1426.80" y2="771.26" stroke="#8a8a8a" stroke-width="1.6"/>
<line x1="835.90" y1="852.32" x2="841.90" y2="852.32" stroke="#8a8a8a" stroke-width="1.6"/>
<line x1="1432.80" y1="852.32" x2="1426.80" y2="852.32" stroke="#8a8a8a" stroke-width="1.6"/>
<line x1="835.90" y1="933.38" x2="841.90" y2="933.38" stroke="#8a8a8a" stroke-width="1.6"/>
<line x1="1432.80" y1="933.38" x2="1426.80" y2="933.38" stroke="#8a8a8a" stroke-width="1.6"/>
<line x1="835.90" y1="1014.44" x2="841.90" y2="1014.44" stroke="#8a8a8a" stroke-width="1.6"/>
<line x1="1432.80" y1="1014.44" x2="1426.80" y2="1014.44" stroke="#8a8a8a" stroke-width="1.6"/>
<line x1="835.90" y1="1095.50" x2="841.90" y2="1095.50" stroke="#8a8a8a" stroke-width="1.6"/>
<line x1="1432.80" y1="1095.50" x2="1426.80" y2="1095.50" stroke="#8a8a8a" stroke-width="1.6"/>
<path d="M1432.80 690.20L835.90 690.20L835.90 1143.40" fill="none" stroke="#8a8a8a" stroke-width="1.8"/>
<path d="M835.90 1143.40L1432.80 1143.40" fill="none" stroke="#8a8a8a" stroke-width="1.8"/>
<path d="M1432.80 690.20L1432.80 1143.40" fill="none" stroke="#8a8a8a" stroke-width="1.8"/>
<text transform="translate(811.15 1177.61) scale(1.0000 1)" font-size="25.50" font-weight="bold" fill="#262626">31.5</text>
<text transform="translate(971.16 1177.61) scale(1.0000 1)" font-size="25.50" font-weight="bold" fill="#262626">32</text>
<text transform="translate(1109.60 1177.61) scale(1.0000 1)" font-size="25.50" font-weight="bold" fill="#262626">32.5</text>
<text transform="translate(1269.56 1177.61) scale(1.0000 1)" font-size="25.50" font-weight="bold" fill="#262626">33</text>
<text transform="translate(1408.05 1177.61) scale(1.0000 1)" font-size="25.50" font-weight="bold" fill="#262626">33.5</text>
<text transform="translate(785.10 699.98) scale(1.0000 1)" font-size="25.50" font-weight="bold" fill="#262626">400</text>
<text transform="translate(785.10 781.02) scale(1.0000 1)" font-size="25.50" font-weight="bold" fill="#262626">300</text>
<text transform="translate(785.10 862.10) scale(1.0000 1)" font-size="25.50" font-weight="bold" fill="#262626">200</text>
<text transform="translate(785.10 943.16) scale(1.0000 1)" font-size="25.50" font-weight="bold" fill="#262626">100</text>
<text transform="translate(813.46 1024.22) scale(1.0000 1)" font-size="25.50" font-weight="bold" fill="#262626">0</text>
<text transform="translate(776.61 1105.28) scale(1.0000 1)" font-size="25.50" font-weight="bold" fill="#262626">-100</text>
<line x1="258.43" y1="1768.20" x2="258.43" y2="1762.20" stroke="#8a8a8a" stroke-width="1.6"/>
<line x1="258.43" y1="1340.60" x2="258.43" y2="1346.60" stroke="#8a8a8a" stroke-width="1.6"/>
<line x1="406.15" y1="1768.20" x2="406.15" y2="1762.20" stroke="#8a8a8a" stroke-width="1.6"/>
<line x1="406.15" y1="1340.60" x2="406.15" y2="1346.60" stroke="#8a8a8a" stroke-width="1.6"/>
<line x1="553.88" y1="1768.20" x2="553.88" y2="1762.20" stroke="#8a8a8a" stroke-width="1.6"/>
<line x1="553.88" y1="1340.60" x2="553.88" y2="1346.60" stroke="#8a8a8a" stroke-width="1.6"/>
<line x1="110.70" y1="1411.87" x2="116.70" y2="1411.87" stroke="#8a8a8a" stroke-width="1.6"/>
<line x1="701.60" y1="1411.87" x2="695.60" y2="1411.87" stroke="#8a8a8a" stroke-width="1.6"/>
<line x1="110.70" y1="1483.13" x2="116.70" y2="1483.13" stroke="#8a8a8a" stroke-width="1.6"/>
<line x1="701.60" y1="1483.13" x2="695.60" y2="1483.13" stroke="#8a8a8a" stroke-width="1.6"/>
<line x1="110.70" y1="1554.40" x2="116.70" y2="1554.40" stroke="#8a8a8a" stroke-width="1.6"/>
<line x1="701.60" y1="1554.40" x2="695.60" y2="1554.40" stroke="#8a8a8a" stroke-width="1.6"/>
<line x1="110.70" y1="1625.67" x2="116.70" y2="1625.67" stroke="#8a8a8a" stroke-width="1.6"/>
<line x1="701.60" y1="1625.67" x2="695.60" y2="1625.67" stroke="#8a8a8a" stroke-width="1.6"/>
<line x1="110.70" y1="1696.93" x2="116.70" y2="1696.93" stroke="#8a8a8a" stroke-width="1.6"/>
<line x1="701.60" y1="1696.93" x2="695.60" y2="1696.93" stroke="#8a8a8a" stroke-width="1.6"/>
<path d="M701.60 1340.60L110.70 1340.60L110.70 1768.20" fill="none" stroke="#8a8a8a" stroke-width="1.8"/>
<path d="M110.70 1768.20L701.60 1768.20" fill="none" stroke="#8a8a8a" stroke-width="1.8"/>
<path d="M701.60 1340.60L701.60 1768.20" fill="none" stroke="#8a8a8a" stroke-width="1.8"/>
<text transform="translate(85.95 1802.01) scale(1.0000 1)" font-size="25.50" font-weight="bold" fill="#262626">31.5</text>
<text transform="translate(244.46 1802.01) scale(1.0000 1)" font-size="25.50" font-weight="bold" fill="#262626">32</text>
<text transform="translate(381.40 1802.01) scale(1.0000 1)" font-size="25.50" font-weight="bold" fill="#262626">32.5</text>
<text transform="translate(539.86 1802.01) scale(1.0000 1)" font-size="25.50" font-weight="bold" fill="#262626">33</text>
<text transform="translate(676.85 1802.01) scale(1.0000 1)" font-size="25.50" font-weight="bold" fill="#262626">33.5</text>
<text transform="translate(74.55 1350.38) scale(1.0000 1)" font-size="25.50" font-weight="bold" fill="#262626">25</text>
<text transform="translate(74.88 1421.64) scale(1.0000 1)" font-size="25.50" font-weight="bold" fill="#262626">20</text>
<text transform="translate(74.55 1492.78) scale(1.0000 1)" font-size="25.50" font-weight="bold" fill="#262626">15</text>
<text transform="translate(74.88 1564.18) scale(1.0000 1)" font-size="25.50" font-weight="bold" fill="#262626">10</text>
<text transform="translate(88.73 1635.31) scale(1.0000 1)" font-size="25.50" font-weight="bold" fill="#262626">5</text>
<text transform="translate(89.06 1706.71) scale(1.0000 1)" font-size="25.50" font-weight="bold" fill="#262626">0</text>
<text transform="translate(80.24 1777.85) scale(1.0000 1)" font-size="25.50" font-weight="bold" fill="#262626">-5</text>
<line x1="979.88" y1="1764.50" x2="979.88" y2="1758.50" stroke="#8a8a8a" stroke-width="1.6"/>
<line x1="979.88" y1="1341.00" x2="979.88" y2="1347.00" stroke="#8a8a8a" stroke-width="1.6"/>
<line x1="1129.55" y1="1764.50" x2="1129.55" y2="1758.50" stroke="#8a8a8a" stroke-width="1.6"/>
<line x1="1129.55" y1="1341.00" x2="1129.55" y2="1347.00" stroke="#8a8a8a" stroke-width="1.6"/>
<line x1="1279.23" y1="1764.50" x2="1279.23" y2="1758.50" stroke="#8a8a8a" stroke-width="1.6"/>
<line x1="1279.23" y1="1341.00" x2="1279.23" y2="1347.00" stroke="#8a8a8a" stroke-width="1.6"/>
<line x1="830.20" y1="1406.07" x2="836.20" y2="1406.07" stroke="#8a8a8a" stroke-width="1.6"/>
<line x1="1428.90" y1="1406.07" x2="1422.90" y2="1406.07" stroke="#8a8a8a" stroke-width="1.6"/>
<line x1="830.20" y1="1471.33" x2="836.20" y2="1471.33" stroke="#8a8a8a" stroke-width="1.6"/>
<line x1="1428.90" y1="1471.33" x2="1422.90" y2="1471.33" stroke="#8a8a8a" stroke-width="1.6"/>
<line x1="830.20" y1="1536.60" x2="836.20" y2="1536.60" stroke="#8a8a8a" stroke-width="1.6"/>
<line x1="1428.90" y1="1536.60" x2="1422.90" y2="1536.60" stroke="#8a8a8a" stroke-width="1.6"/>
<line x1="830.20" y1="1601.87" x2="836.20" y2="1601.87" stroke="#8a8a8a" stroke-width="1.6"/>
<line x1="1428.90" y1="1601.87" x2="1422.90" y2="1601.87" stroke="#8a8a8a" stroke-width="1.6"/>
<line x1="830.20" y1="1667.13" x2="836.20" y2="1667.13" stroke="#8a8a8a" stroke-width="1.6"/>
<line x1="1428.90" y1="1667.13" x2="1422.90" y2="1667.13" stroke="#8a8a8a" stroke-width="1.6"/>
<line x1="830.20" y1="1732.40" x2="836.20" y2="1732.40" stroke="#8a8a8a" stroke-width="1.6"/>
<line x1="1428.90" y1="1732.40" x2="1422.90" y2="1732.40" stroke="#8a8a8a" stroke-width="1.6"/>
<path d="M1428.90 1341.00L830.20 1341.00L830.20 1764.50" fill="none" stroke="#8a8a8a" stroke-width="1.8"/>
<path d="M830.20 1764.50L1428.90 1764.50" fill="none" stroke="#8a8a8a" stroke-width="1.8"/>
<path d="M1428.90 1341.00L1428.90 1764.50" fill="none" stroke="#8a8a8a" stroke-width="1.8"/>
<text transform="translate(805.45 1799.11) scale(1.0000 1)" font-size="25.50" font-weight="bold" fill="#262626">31.5</text>
<text transform="translate(965.91 1799.11) scale(1.0000 1)" font-size="25.50" font-weight="bold" fill="#262626">32</text>
<text transform="translate(1104.80 1799.11) scale(1.0000 1)" font-size="25.50" font-weight="bold" fill="#262626">32.5</text>
<text transform="translate(1265.21 1799.11) scale(1.0000 1)" font-size="25.50" font-weight="bold" fill="#262626">33</text>
<text transform="translate(1404.15 1799.11) scale(1.0000 1)" font-size="25.50" font-weight="bold" fill="#262626">33.5</text>
<text transform="translate(779.40 1350.58) scale(1.0000 1)" font-size="25.50" font-weight="bold" fill="#262626">120</text>
<text transform="translate(779.40 1415.84) scale(1.0000 1)" font-size="25.50" font-weight="bold" fill="#262626">100</text>
<text transform="translate(793.58 1481.11) scale(1.0000 1)" font-size="25.50" font-weight="bold" fill="#262626">80</text>
<text transform="translate(793.58 1546.38) scale(1.0000 1)" font-size="25.50" font-weight="bold" fill="#262626">60</text>
<text transform="translate(793.58 1611.64) scale(1.0000 1)" font-size="25.50" font-weight="bold" fill="#262626">40</text>
<text transform="translate(793.58 1676.91) scale(1.0000 1)" font-size="25.50" font-weight="bold" fill="#262626">20</text>
<text transform="translate(807.76 1742.18) scale(1.0000 1)" font-size="25.50" font-weight="bold" fill="#262626">0</text>
<line x1="606.93" y1="2394.10" x2="606.93" y2="2388.10" stroke="#555555" stroke-width="1.6"/>
<line x1="606.93" y1="1937.30" x2="606.93" y2="1943.30" stroke="#555555" stroke-width="1.6"/>
<line x1="759.25" y1="2394.10" x2="759.25" y2="2388.10" stroke="#555555" stroke-width="1.6"/>
<line x1="759.25" y1="1937.30" x2="759.25" y2="1943.30" stroke="#555555" stroke-width="1.6"/>
<line x1="911.58" y1="2394.10" x2="911.58" y2="2388.10" stroke="#555555" stroke-width="1.6"/>
<line x1="911.58" y1="1937.30" x2="911.58" y2="1943.30" stroke="#555555" stroke-width="1.6"/>
<line x1="454.60" y1="2002.56" x2="460.60" y2="2002.56" stroke="#555555" stroke-width="1.6"/>
<line x1="454.60" y1="2067.81" x2="460.60" y2="2067.81" stroke="#555555" stroke-width="1.6"/>
<line x1="454.60" y1="2133.07" x2="460.60" y2="2133.07" stroke="#555555" stroke-width="1.6"/>
<line x1="454.60" y1="2198.33" x2="460.60" y2="2198.33" stroke="#555555" stroke-width="1.6"/>
<line x1="454.60" y1="2263.59" x2="460.60" y2="2263.59" stroke="#555555" stroke-width="1.6"/>
<line x1="454.60" y1="2328.84" x2="460.60" y2="2328.84" stroke="#555555" stroke-width="1.6"/>
<path d="M1063.90 1937.30L454.60 1937.30L454.60 2394.10" fill="none" stroke="#555555" stroke-width="1.8"/>
<path d="M454.60 2394.10L1063.90 2394.10" fill="none" stroke="#555555" stroke-width="1.8"/>
<path d="M1063.90 1937.30L1063.90 2394.10" fill="none" stroke="#ff0000" stroke-width="1.8"/>
<text transform="translate(428.88 2430.10) scale(1.0000 1)" font-size="26.50" font-weight="bold" fill="#000">31.5</text>
<text transform="translate(592.41 2430.10) scale(1.0000 1)" font-size="26.50" font-weight="bold" fill="#000">32</text>
<text transform="translate(733.53 2430.10) scale(1.0000 1)" font-size="26.50" font-weight="bold" fill="#000">32.5</text>
<text transform="translate(897.01 2430.10) scale(1.0000 1)" font-size="26.50" font-weight="bold" fill="#000">33</text>
<text transform="translate(1038.18 2430.10) scale(1.0000 1)" font-size="26.50" font-weight="bold" fill="#000">33.5</text>
<text transform="translate(402.07 1947.42) scale(1.0000 1)" font-size="26.50" font-weight="bold" fill="#000">120</text>
<text transform="translate(402.07 2012.68) scale(1.0000 1)" font-size="26.50" font-weight="bold" fill="#000">100</text>
<text transform="translate(416.81 2077.94) scale(1.0000 1)" font-size="26.50" font-weight="bold" fill="#000">80</text>
<text transform="translate(416.81 2143.19) scale(1.0000 1)" font-size="26.50" font-weight="bold" fill="#000">60</text>
<text transform="translate(416.81 2208.45) scale(1.0000 1)" font-size="26.50" font-weight="bold" fill="#000">40</text>
<text transform="translate(416.81 2273.71) scale(1.0000 1)" font-size="26.50" font-weight="bold" fill="#000">20</text>
<text transform="translate(431.55 2338.97) scale(1.0000 1)" font-size="26.50" font-weight="bold" fill="#000">0</text>
<text transform="translate(407.99 2404.22) scale(1.0000 1)" font-size="26.50" font-weight="bold" fill="#000">-20</text>
<text transform="translate(1073.56 1946.42) scale(1.0000 1)" font-size="26.50" font-weight="bold" fill="#ff0000">80</text>
<line x1="1063.90" y1="2028.66" x2="1057.90" y2="2028.66" stroke="#ff0000" stroke-width="1.6"/>
<text transform="translate(1073.43 2037.78) scale(1.0000 1)" font-size="26.50" font-weight="bold" fill="#ff0000">60</text>
<line x1="1063.90" y1="2120.02" x2="1057.90" y2="2120.02" stroke="#ff0000" stroke-width="1.6"/>
<text transform="translate(1074.00 2129.14) scale(1.0000 1)" font-size="26.50" font-weight="bold" fill="#ff0000">40</text>
<line x1="1063.90" y1="2211.38" x2="1057.90" y2="2211.38" stroke="#ff0000" stroke-width="1.6"/>
<text transform="translate(1073.48 2220.50) scale(1.0000 1)" font-size="26.50" font-weight="bold" fill="#ff0000">20</text>
<line x1="1063.90" y1="2302.74" x2="1057.90" y2="2302.74" stroke="#ff0000" stroke-width="1.6"/>
<text transform="translate(1073.35 2311.86) scale(1.0000 1)" font-size="26.50" font-weight="bold" fill="#ff0000">0</text>
<text transform="translate(1073.36 2403.22) scale(1.0000 1)" font-size="26.50" font-weight="bold" fill="#ff0000">-20</text>
<text transform="translate(117.41 229.50) scale(0.8942 1)" font-size="21.51" font-weight="bold" fill="#000" >DFF</text>
<text transform="translate(264.92 221.00) scale(0.8298 1)" font-size="19.91" font-weight="bold" fill="#000" >S</text>
<text transform="translate(197.35 411.80) scale(0.8658 1)" font-size="21.51" font-weight="bold" fill="#000" >RF</text>
<text transform="translate(224.51 478.70) scale(0.9329 1)" font-size="20.93" font-weight="bold" fill="#000" >A</text>
<text transform="translate(259.89 339.50) scale(0.8210 1)" font-size="21.51" font-weight="bold" fill="#000" >SFF</text>
<text transform="translate(409.80 89.40) scale(1.0878 1)" font-size="19.19" font-weight="bold" fill="#000" >D</text>
<text transform="translate(422.21 231.10) scale(0.9216 1)" font-size="20.93" font-weight="bold" fill="#000" >DFF</text>
<text transform="translate(497.33 412.30) scale(0.8788 1)" font-size="21.66" font-weight="bold" fill="#000" >RF</text>
<text transform="translate(527.41 478.70) scale(0.9669 1)" font-size="20.35" font-weight="bold" fill="#000" >A</text>
<text transform="translate(563.10 340.20) scale(0.8054 1)" font-size="21.66" font-weight="bold" fill="#000" >SFF</text>
<circle cx="125.00" cy="450.50" r="25.20" fill="none" stroke="#000" stroke-width="3.80"/>
<text transform="translate(113.44 462.50) scale(0.9200 1)" font-size="34.88" font-weight="bold" fill="#000" >A</text>
<text transform="translate(1122.43 99.00) scale(0.8490 1)" font-size="18.90" font-weight="bold" fill="#000" >E</text>
<text transform="translate(1165.39 186.00) scale(0.8441 1)" font-size="19.62" font-weight="bold" fill="#000" >L</text>
<text transform="translate(1212.98 180.00) scale(1.0635 1)" font-size="19.62" font-weight="bold" fill="#000" >A</text>
<circle cx="883.70" cy="441.00" r="25.20" fill="none" stroke="#000" stroke-width="3.80"/>
<text transform="translate(871.77 453.00) scale(0.9200 1)" font-size="34.88" font-weight="bold" fill="#000" >B</text>
<circle cx="143.70" cy="1093.50" r="25.20" fill="none" stroke="#000" stroke-width="3.80"/>
<text transform="translate(132.07 1105.50) scale(0.9065 1)" font-size="34.88" font-weight="bold" fill="#000" >C</text>
<text transform="translate(1134.75 721.00) scale(0.8584 1)" font-size="21.80" font-weight="bold" fill="#000" >E</text>
<text transform="translate(1175.26 815.00) scale(0.8491 1)" font-size="21.80" font-weight="bold" fill="#000" >L</text>
<text transform="translate(1221.94 804.00) scale(0.9614 1)" font-size="23.26" font-weight="bold" fill="#000" >A</text>
<text transform="translate(863.36 951.50) scale(1.1218 1)" font-size="21.80" font-weight="bold" fill="#000" >D</text>
<text transform="translate(1005.45 969.50) scale(0.8520 1)" font-size="22.53" font-weight="bold" fill="#000" >S</text>
<text transform="translate(1162.36 951.00) scale(1.0856 1)" font-size="22.53" font-weight="bold" fill="#000" >D</text>
<text transform="translate(922.94 1045.00) scale(0.9924 1)" font-size="22.53" font-weight="bold" fill="#000" >A</text>
<circle cx="889.00" cy="1103.50" r="25.20" fill="none" stroke="#000" stroke-width="3.80"/>
<text transform="translate(877.01 1115.50) scale(0.9200 1)" font-size="34.88" font-weight="bold" fill="#000" >D</text>
<text transform="translate(229.50 1368.20) scale(1.0710 1)" font-size="22.24" font-weight="bold" fill="#000" >a</text>
<text transform="translate(249.48 1368.20) scale(1.2337 1)" font-size="17.01" font-weight="bold" fill="#000" >- wave</text>
<text transform="translate(210.16 1435.00) scale(1.1958 1)" font-size="20.06" font-weight="bold" fill="#000" >c</text>
<text transform="translate(229.39 1435.70) scale(1.2549 1)" font-size="16.42" font-weight="bold" fill="#000" >- wave</text>
<text transform="translate(313.91 1454.10) scale(1.2558 1)" font-size="18.46" font-weight="bold" fill="#000" >v</text>
<text transform="translate(333.39 1454.80) scale(1.1529 1)" font-size="17.88" font-weight="bold" fill="#000" >- wave</text>
<text transform="translate(243.84 1508.20) scale(1.1682 1)" font-size="20.06" font-weight="bold" fill="#000" >x</text>
<text transform="translate(356.20 1602.49) scale(0.9079 1)" font-size="28.00" font-weight="bold" fill="#000" >y</text>
<line x1="189.90" y1="1374.60" x2="221.70" y2="1362.30" stroke="#2b2b6e" stroke-width="1.30"/>
<line x1="213.20" y1="1454.10" x2="231.20" y2="1434.00" stroke="#2b2b6e" stroke-width="1.30"/>
<line x1="325.70" y1="1471.10" x2="336.30" y2="1455.20" stroke="#2b2b6e" stroke-width="1.30"/>
<line x1="221.70" y1="1521.00" x2="239.70" y2="1500.80" stroke="#2b2b6e" stroke-width="1.30"/>
<line x1="370.20" y1="1585.60" x2="388.30" y2="1566.50" stroke="#2b2b6e" stroke-width="1.30"/>
<line x1="625.20" y1="1566.50" x2="636.90" y2="1547.40" stroke="#000" stroke-width="1.30"/>
<text transform="translate(379.17 1755.60) scale(0.8565 1)" font-size="26.74" font-weight="bold" fill="#000" >LAP</text>
<text transform="translate(424.18 1755.60) scale(0.8235 1)" font-size="18.77" font-weight="bold" fill="#000" >min</text>
<text transform="translate(592.96 1590.90) scale(0.8768 1)" font-size="24.56" font-weight="bold" fill="#000" >LAP</text>
<text transform="translate(635.80 1590.71) scale(0.8620 1)" font-size="19.33" font-weight="bold" fill="#000" >mean</text>
<ellipse cx="415.2" cy="1727.8" rx="9.5" ry="8" fill="none" stroke="#1a1a5a" stroke-width="1.8"/>
<circle cx="167.60" cy="1726.30" r="25.20" fill="none" stroke="#000" stroke-width="3.80"/>
<text transform="translate(156.45 1738.30) scale(0.9200 1)" font-size="34.88" font-weight="bold" fill="#000" >E</text>
<text transform="translate(1120.96 1664.60) scale(0.8709 1)" font-size="21.22" font-weight="bold" fill="#000" >LVP RFW</text>
<line x1="1152.30" y1="1669.40" x2="1141.60" y2="1728.70" stroke="#2b2b6e" stroke-width="1.30"/>
<text transform="translate(1274.48 1594.30) scale(0.8702 1)" font-size="20.93" font-weight="bold" fill="#000" >LVP ED</text>
<line x1="1286.00" y1="1596.50" x2="1260.10" y2="1620.20" stroke="#2b2b6e" stroke-width="1.30"/>
<circle cx="1251.5" cy="1620.9" r="8.6" fill="none" stroke="#2b2b6e" stroke-width="1.6"/>
<circle cx="1211.0" cy="1679.7" r="9.0" fill="none" stroke="#2b2b6e" stroke-width="1.6"/>
<line x1="1261.20" y1="1621.90" x2="1287.10" y2="1621.90" stroke="#2b2b6e" stroke-width="1.00"/>
<line x1="1221.30" y1="1680.80" x2="1277.40" y2="1680.80" stroke="#2b2b6e" stroke-width="1.00"/>
<line x1="1270.3" y1="1624.5" x2="1270.3" y2="1679.3" stroke="#1a1a5a" stroke-width="1.3" marker-start="url(#arr)" marker-end="url(#arr)"/>
<text transform="translate(1274.34 1668.30) scale(0.9235 1)" font-size="21.95" font-weight="bold" fill="#000" >LVP A</text>
<text transform="translate(1333.85 1668.08) scale(0.7456 1)" font-size="22.45" font-weight="bold" fill="#000" >-wave</text>
<text transform="translate(1203.28 1727.00) scale(0.8621 1)" font-size="21.08" font-weight="bold" fill="#000" >LVP</text>
<text transform="translate(1241.25 1726.18) scale(1.1179 1)" font-size="16.97" font-weight="bold" fill="#000" >pre-A</text>
<line x1="1218.10" y1="1686.60" x2="1228.90" y2="1702.80" stroke="#2b2b6e" stroke-width="1.30"/>
<text transform="translate(1024.28 1716.10) scale(0.8446 1)" font-size="21.51" font-weight="bold" fill="#000" >LVP</text>
<text transform="translate(1059.09 1716.10) scale(1.1780 1)" font-size="11.73" font-weight="bold" fill="#000" >min</text>
<line x1="1055.20" y1="1725.70" x2="1104.00" y2="1743.70" stroke="#2b2b6e" stroke-width="1.30"/>
<circle cx="1113.6" cy="1744.8" r="10.2" fill="none" stroke="#1a1a1a" stroke-width="1.6"/>
<circle cx="906.70" cy="1726.30" r="25.20" fill="none" stroke="#000" stroke-width="3.80"/>
<text transform="translate(896.41 1738.30) scale(0.9200 1)" font-size="34.88" font-weight="bold" fill="#000" >F</text>
<text transform="translate(477.13 2244.40) scale(1.1545 1)" font-size="13.81" font-weight="bold" fill="#000" >a</text>
<text transform="translate(491.83 2244.40) scale(1.2696 1)" font-size="11.48" font-weight="bold" fill="#000" >- wave</text>
<text transform="translate(572.49 2279.90) scale(1.2123 1)" font-size="12.94" font-weight="bold" fill="#000" >x</text>
<text transform="translate(779.32 2241.20) scale(1.1132 1)" font-size="14.83" font-weight="bold" fill="#000" >a</text>
<text transform="translate(793.11 2241.70) scale(1.1953 1)" font-size="12.65" font-weight="bold" fill="#000" >- wave</text>
<text transform="translate(876.69 2279.70) scale(1.2548 1)" font-size="12.65" font-weight="bold" fill="#000" >x</text>
<text transform="translate(644.05 2313.40) scale(1.0020 1)" font-size="13.66" font-weight="bold" fill="#000" >v</text>
<text transform="translate(656.30 2313.40) scale(1.3309 1)" font-size="11.48" font-weight="bold" fill="#000" >- wave</text>
<text transform="translate(950.14 2313.30) scale(1.0938 1)" font-size="13.52" font-weight="bold" fill="#000" >v</text>
<text transform="translate(962.81 2313.30) scale(1.3302 1)" font-size="11.34" font-weight="bold" fill="#000" >- wave</text>
<text transform="translate(753.05 2307.81) scale(0.9005 1)" font-size="20.66" font-weight="bold" fill="#000" >y</text>
<text transform="translate(479.36 2120.50) scale(0.8932 1)" font-size="19.04" font-weight="bold" fill="#ff0000" >DFF</text>
<text transform="translate(783.96 2121.60) scale(0.9030 1)" font-size="18.90" font-weight="bold" fill="#ff0000" >DFF</text>
<text transform="translate(623.15 2213.70) scale(0.8372 1)" font-size="18.60" font-weight="bold" fill="#ff0000" >SFF</text>
<text transform="translate(927.44 2213.30) scale(0.8319 1)" font-size="19.19" font-weight="bold" fill="#ff0000" >SFF</text>
<text transform="translate(560.07 2374.50) scale(0.8809 1)" font-size="22.53" font-weight="bold" fill="#ff0000" >RF</text>
<text transform="translate(866.50 2367.30) scale(0.8414 1)" font-size="19.62" font-weight="bold" fill="#ff0000" >RF</text>
<text transform="translate(722.35 2379.20) scale(0.7727 1)" font-size="18.46" font-weight="bold" fill="#000" >LVP</text>
<text transform="translate(749.81 2379.20) scale(1.1293 1)" font-size="10.63" font-weight="bold" fill="#000" >min</text>
<line x1="742.80" y1="2348.40" x2="733.30" y2="2362.20" stroke="#2b2b6e" stroke-width="1.30"/>
<ellipse cx="743.1" cy="2339.9" rx="10.6" ry="8.5" fill="none" stroke="#1a1a5a" stroke-width="2"/>
<text transform="translate(785.07 2362.70) scale(0.8361 1)" font-size="18.46" font-weight="bold" fill="#000" >LVP RFW</text>
<line x1="807.60" y1="2344.50" x2="787.40" y2="2322.20" stroke="#2b2b6e" stroke-width="1.30"/>
<text transform="translate(789.36 2184.20) scale(1.2127 1)" font-size="16.57" font-weight="bold" fill="#000" >LVP A</text>
<text transform="translate(848.07 2184.04) scale(0.6981 1)" font-size="15.88" font-weight="bold" fill="#000" >-wave</text>
<line x1="857.00" y1="2187.50" x2="882.30" y2="2214.30" stroke="#2b2b6e" stroke-width="1.30"/>
<circle cx="886.1" cy="2217.1" r="8.9" fill="none" stroke="#1a1a5a" stroke-width="1.8"/>
<text transform="translate(915.50 2257.60) scale(0.9008 1)" font-size="16.57" font-weight="bold" fill="#000" >LV EDP</text>
<line x1="892.50" y1="2223.90" x2="924.10" y2="2239.10" stroke="#2b2b6e" stroke-width="1.30"/>
<circle cx="501.60" cy="2362.20" r="25.20" fill="none" stroke="#000" stroke-width="3.80"/>
<text transform="translate(489.63 2374.20) scale(0.9065 1)" font-size="34.88" font-weight="bold" fill="#000" >G</text>
<circle cx="735.9" cy="1220.1" r="1.2" fill="#555"/>
<clipPath id="ic1"><rect x="527.90" y="77.90" width="126.90" height="97.20"/></clipPath>
<rect x="527.90" y="77.90" width="126.90" height="97.20" fill="#fff" stroke="none" filter="url(#shadow)"/>
<g clip-path="url(#ic1)">
<path d="M529.5 175.0 L529.6 176.8 L529.9 176.2 L530.3 174.4 L530.8 174.3 L531.3 173.5 L531.7 173.2 L532.7 171.5 L533.8 167.0 L534.9 163.8 L536.1 162.6 L537.3 158.0 L538.5 155.4 L540.0 148.5 L541.4 144.2 L542.9 139.2 L544.4 132.3 L546.2 128.8 L548.1 123.9 L549.9 118.4 L551.9 115.4 L553.9 113.9 L556.0 112.3 L558.0 108.2 L559.7 105.2 L560.9 103.4 L561.8 100.0 L562.7 98.2 L563.7 96.6 L564.7 94.8 L566.1 92.5 L567.6 91.4 L569.3 90.6 L571.1 90.6 L573.0 89.6 L574.9 88.4 L576.7 89.8 L578.7 88.0 L580.7 87.0 L582.8 84.6 L584.8 85.5 L586.7 84.2 L588.4 81.6 L589.4 82.0 L590.2 82.9 L591.1 82.8 L591.9 83.5 L592.8 82.2 L593.7 83.5 L595.0 83.3 L596.4 82.7 L597.9 83.8 L599.4 85.1 L600.8 85.8 L602.2 85.8 L604.1 88.0 L605.8 89.1 L607.5 92.6 L609.2 97.1 L610.9 99.0 L612.8 100.8 L614.5 103.4 L616.3 105.2 L618.1 106.3 L620.0 106.7 L621.7 108.3 L623.4 110.2 L625.4 113.8 L627.3 116.5 L629.0 119.9 L630.7 124.0 L632.4 126.6 L634.0 130.2 L635.5 135.1 L637.0 139.0 L638.4 141.1 L639.8 143.7 L641.2 146.4 L642.5 150.5 L643.9 155.6 L645.3 159.2 L646.7 162.9 L648.0 167.7 L649.1 169.5 L649.9 172.8 L650.2 174.8 L650.4 174.5 L650.6 174.9 L650.8 174.9 L651.0 176.0 L651.0 177.2 L645.0 176.8 L644.9 175.0 L644.8 174.6 L644.6 175.7 L644.3 175.1 L643.9 174.3 L643.6 173.3 L642.5 169.4 L641.1 168.1 L639.4 164.6 L637.6 161.0 L635.8 155.6 L634.0 151.4 L632.3 148.6 L630.6 145.5 L628.8 144.4 L627.0 141.7 L625.2 139.4 L623.4 135.1 L621.7 133.7 L620.0 129.7 L618.3 126.6 L616.5 124.2 L614.7 120.7 L612.8 119.3 L611.1 117.4 L609.3 114.4 L607.5 112.7 L605.6 111.7 L603.9 110.1 L602.2 109.3 L601.1 109.6 L600.0 107.4 L599.0 108.6 L598.0 106.3 L596.9 106.7 L595.8 107.1 L594.5 107.1 L593.1 106.4 L591.7 108.8 L590.2 109.0 L588.8 110.0 L587.3 110.9 L585.3 112.5 L583.2 115.7 L581.0 117.3 L578.9 119.5 L576.7 122.0 L574.6 121.9 L572.8 123.6 L571.0 125.0 L569.2 125.4 L567.5 126.8 L565.7 128.4 L564.0 128.8 L562.1 130.7 L560.3 131.9 L558.5 134.5 L556.7 134.5 L555.0 136.8 L553.4 138.8 L551.0 145.8 L548.8 149.9 L546.7 157.8 L544.8 163.1 L543.1 168.4 L541.7 172.1 L541.2 174.1 L540.7 174.3 L540.3 176.1 L539.9 176.8 L539.6 175.1 L539.5 176.2 Z" fill="#d3d3d3" stroke="none"/>
<path d="M529.5 175.0 L529.6 176.8 L529.9 176.2 L530.3 174.4 L530.8 174.3 L531.3 173.5 L531.7 173.2 L532.7 171.5 L533.8 167.0 L534.9 163.8 L536.1 162.6 L537.3 158.0 L538.5 155.4 L540.0 148.5 L541.4 144.2 L542.9 139.2 L544.4 132.3 L546.2 128.8 L548.1 123.9 L549.9 118.4 L551.9 115.4 L553.9 113.9 L556.0 112.3 L558.0 108.2 L559.7 105.2 L560.9 103.4 L561.8 100.0 L562.7 98.2 L563.7 96.6 L564.7 94.8 L566.1 92.5 L567.6 91.4 L569.3 90.6 L571.1 90.6 L573.0 89.6 L574.9 88.4 L576.7 89.8 L578.7 88.0 L580.7 87.0 L582.8 84.6 L584.8 85.5 L586.7 84.2 L588.4 81.6 L589.4 82.0 L590.2 82.9 L591.1 82.8 L591.9 83.5 L592.8 82.2 L593.7 83.5 L595.0 83.3 L596.4 82.7 L597.9 83.8 L599.4 85.1 L600.8 85.8 L602.2 85.8 L604.1 88.0 L605.8 89.1 L607.5 92.6 L609.2 97.1 L610.9 99.0 L612.8 100.8 L614.5 103.4 L616.3 105.2 L618.1 106.3 L620.0 106.7 L621.7 108.3 L623.4 110.2 L625.4 113.8 L627.3 116.5 L629.0 119.9 L630.7 124.0 L632.4 126.6 L634.0 130.2 L635.5 135.1 L637.0 139.0 L638.4 141.1 L639.8 143.7 L641.2 146.4 L642.5 150.5 L643.9 155.6 L645.3 159.2 L646.7 162.9 L648.0 167.7 L649.1 169.5 L649.9 172.8 L650.2 174.8 L650.4 174.5 L650.6 174.9 L650.8 174.9 L651.0 176.0 L651.0 177.2" fill="none" stroke="#3c3c3c" stroke-width="1.1"/>
<path d="M539.5 176.2 L539.6 175.1 L539.9 176.8 L540.3 176.1 L540.7 174.3 L541.2 174.1 L541.7 172.1 L543.1 168.4 L544.8 163.1 L546.7 157.8 L548.8 149.9 L551.0 145.8 L553.4 138.8 L555.0 136.8 L556.7 134.5 L558.5 134.5 L560.3 131.9 L562.1 130.7 L564.0 128.8 L565.7 128.4 L567.5 126.8 L569.2 125.4 L571.0 125.0 L572.8 123.6 L574.6 121.9 L576.7 122.0 L578.9 119.5 L581.0 117.3 L583.2 115.7 L585.3 112.5 L587.3 110.9 L588.8 110.0 L590.2 109.0 L591.7 108.8 L593.1 106.4 L594.5 107.1 L595.8 107.1 L596.9 106.7 L598.0 106.3 L599.0 108.6 L600.0 107.4 L601.1 109.6 L602.2 109.3 L603.9 110.1 L605.6 111.7 L607.5 112.7 L609.3 114.4 L611.1 117.4 L612.8 119.3 L614.7 120.7 L616.5 124.2 L618.3 126.6 L620.0 129.7 L621.7 133.7 L623.4 135.1 L625.2 139.4 L627.0 141.7 L628.8 144.4 L630.6 145.5 L632.3 148.6 L634.0 151.4 L635.8 155.6 L637.6 161.0 L639.4 164.6 L641.1 168.1 L642.5 169.4 L643.6 173.3 L643.9 174.3 L644.3 175.1 L644.6 175.7 L644.8 174.6 L644.9 175.0 L645.0 176.8" fill="none" stroke="#3c3c3c" stroke-width="1.1"/>
<path d="M534.5 175.6 L534.6 175.9 L534.9 176.5 L535.3 175.2 L535.8 174.3 L536.2 173.8 L536.7 172.6 L537.9 169.9 L539.3 165.1 L540.8 160.8 L542.5 156.2 L544.2 151.9 L546.0 147.1 L547.5 142.6 L549.1 139.4 L550.7 136.9 L552.4 132.1 L554.2 129.7 L556.0 126.4 L557.8 123.4 L559.7 121.1 L561.6 119.6 L563.5 118.6 L565.4 115.9 L567.2 113.5 L568.8 112.7 L570.4 109.8 L571.9 107.8 L573.4 106.2 L575.0 103.7 L576.7 101.7 L578.2 100.7 L579.8 99.8 L581.4 99.7 L583.0 98.0 L584.7 97.7 L586.2 98.4 L587.8 97.4 L589.3 96.6 L590.9 96.6 L592.4 96.5 L593.9 96.9 L595.3 95.5 L596.6 96.0 L597.9 97.3 L599.3 97.8 L600.6 98.9 L601.9 99.8 L603.2 101.4 L604.9 102.0 L606.5 103.4 L608.1 105.2 L609.7 107.4 L611.2 109.7 L612.8 110.5 L614.6 113.7 L616.4 115.4 L618.1 118.5 L619.9 121.3 L621.6 123.8 L623.4 126.1 L625.1 129.5 L627.0 133.1 L628.8 135.4 L630.5 137.4 L632.1 138.9 L633.5 141.8 L634.7 144.0 L635.8 145.8 L636.8 147.8 L637.8 149.3 L638.7 150.8 L639.5 153.5" fill="none" stroke="#9ab8d0" stroke-width="1.00"/>
</g>
<rect x="527.90" y="77.90" width="126.90" height="97.20" fill="none" stroke="#000" stroke-width="2.6"/>
<rect x="551.70" y="223.70" width="40.30" height="23.30" fill="none" stroke="#2b2b6e" stroke-width="1.40"/>
<line x1="572.50" y1="223.70" x2="590.50" y2="175.50" stroke="#2b2b6e" stroke-width="1.30"/>
<clipPath id="ic2"><rect x="966.40" y="71.50" width="94.40" height="109.10"/></clipPath>
<rect x="966.40" y="71.50" width="94.40" height="109.10" fill="#fff" stroke="none" filter="url(#shadow)"/>
<g clip-path="url(#ic2)">
<path d="M967.5 182.4 L967.5 182.2 L967.7 181.2 L967.8 180.8 L968.0 180.8 L968.3 180.0 L968.5 179.2 L969.4 175.3 L970.7 170.4 L972.1 164.1 L973.7 157.2 L975.4 150.1 L977.0 144.0 L978.6 138.2 L980.2 132.7 L981.9 127.1 L983.7 121.4 L985.6 115.5 L987.6 110.2 L989.5 105.3 L991.5 100.4 L993.6 95.8 L995.8 91.8 L998.1 87.8 L1000.4 84.6 L1002.1 83.0 L1003.8 80.9 L1005.6 79.3 L1007.4 77.7 L1009.2 76.5 L1011.0 76.1 L1012.4 75.6 L1013.8 75.8 L1015.2 76.3 L1016.7 76.3 L1018.0 76.4 L1019.4 77.6 L1021.3 79.0 L1023.1 80.9 L1024.8 83.5 L1026.6 86.0 L1028.3 88.7 L1030.1 91.0 L1032.2 94.4 L1034.5 97.4 L1036.7 99.8 L1038.9 103.5 L1041.0 106.8 L1042.8 110.2 L1044.6 114.7 L1046.2 119.3 L1047.6 124.6 L1048.9 129.4 L1050.1 134.9 L1051.3 139.8 L1052.6 146.9 L1053.8 154.5 L1055.0 161.9 L1056.0 169.2 L1056.9 175.4 L1057.6 179.3 L1057.8 179.8 L1058.0 180.3 L1058.2 181.0 L1058.3 181.7 L1058.5 181.6 L1058.5 182.3 L1056.5 181.7 L1056.4 181.6 L1056.3 181.9 L1056.1 181.5 L1055.9 180.4 L1055.7 179.9 L1055.5 179.5 L1055.1 176.3 L1054.9 172.4 L1054.7 167.9 L1054.5 162.6 L1054.1 157.6 L1053.4 152.5 L1052.4 147.8 L1051.2 142.8 L1049.8 137.4 L1048.3 132.2 L1046.6 127.8 L1044.9 122.9 L1043.3 119.5 L1041.7 116.2 L1039.9 113.0 L1038.1 109.7 L1036.2 106.5 L1034.3 103.8 L1032.6 101.5 L1030.9 99.5 L1029.1 97.4 L1027.3 95.2 L1025.5 93.4 L1023.7 92.4 L1022.3 90.8 L1020.9 89.7 L1019.5 88.9 L1018.1 87.8 L1016.6 87.3 L1015.2 86.7 L1013.8 86.5 L1012.4 86.8 L1010.9 87.6 L1009.5 88.3 L1008.1 89.1 L1006.7 89.7 L1004.8 91.8 L1003.0 93.9 L1001.2 96.8 L999.4 99.7 L997.7 102.9 L996.1 106.1 L994.2 109.9 L992.4 113.3 L990.6 117.5 L988.9 121.9 L987.2 126.8 L985.5 131.7 L983.1 139.1 L980.6 148.4 L978.2 157.9 L975.9 166.5 L974.1 174.4 L972.8 179.2 L972.6 179.8 L972.3 180.6 L972.1 181.3 L972.0 181.3 L971.8 182.0 L971.8 181.7 Z" fill="#d3d3d3" stroke="none"/>
<path d="M967.5 182.4 L967.5 182.2 L967.7 181.2 L967.8 180.8 L968.0 180.8 L968.3 180.0 L968.5 179.2 L969.4 175.3 L970.7 170.4 L972.1 164.1 L973.7 157.2 L975.4 150.1 L977.0 144.0 L978.6 138.2 L980.2 132.7 L981.9 127.1 L983.7 121.4 L985.6 115.5 L987.6 110.2 L989.5 105.3 L991.5 100.4 L993.6 95.8 L995.8 91.8 L998.1 87.8 L1000.4 84.6 L1002.1 83.0 L1003.8 80.9 L1005.6 79.3 L1007.4 77.7 L1009.2 76.5 L1011.0 76.1 L1012.4 75.6 L1013.8 75.8 L1015.2 76.3 L1016.7 76.3 L1018.0 76.4 L1019.4 77.6 L1021.3 79.0 L1023.1 80.9 L1024.8 83.5 L1026.6 86.0 L1028.3 88.7 L1030.1 91.0 L1032.2 94.4 L1034.5 97.4 L1036.7 99.8 L1038.9 103.5 L1041.0 106.8 L1042.8 110.2 L1044.6 114.7 L1046.2 119.3 L1047.6 124.6 L1048.9 129.4 L1050.1 134.9 L1051.3 139.8 L1052.6 146.9 L1053.8 154.5 L1055.0 161.9 L1056.0 169.2 L1056.9 175.4 L1057.6 179.3 L1057.8 179.8 L1058.0 180.3 L1058.2 181.0 L1058.3 181.7 L1058.5 181.6 L1058.5 182.3" fill="none" stroke="#3c3c3c" stroke-width="1.1"/>
<path d="M971.8 181.7 L971.8 182.0 L972.0 181.3 L972.1 181.3 L972.3 180.6 L972.6 179.8 L972.8 179.2 L974.1 174.4 L975.9 166.5 L978.2 157.9 L980.6 148.4 L983.1 139.1 L985.5 131.7 L987.2 126.8 L988.9 121.9 L990.6 117.5 L992.4 113.3 L994.2 109.9 L996.1 106.1 L997.7 102.9 L999.4 99.7 L1001.2 96.8 L1003.0 93.9 L1004.8 91.8 L1006.7 89.7 L1008.1 89.1 L1009.5 88.3 L1010.9 87.6 L1012.4 86.8 L1013.8 86.5 L1015.2 86.7 L1016.6 87.3 L1018.1 87.8 L1019.5 88.9 L1020.9 89.7 L1022.3 90.8 L1023.7 92.4 L1025.5 93.4 L1027.3 95.2 L1029.1 97.4 L1030.9 99.5 L1032.6 101.5 L1034.3 103.8 L1036.2 106.5 L1038.1 109.7 L1039.9 113.0 L1041.7 116.2 L1043.3 119.5 L1044.9 122.9 L1046.6 127.8 L1048.3 132.2 L1049.8 137.4 L1051.2 142.8 L1052.4 147.8 L1053.4 152.5 L1054.1 157.6 L1054.5 162.6 L1054.7 167.9 L1054.9 172.4 L1055.1 176.3 L1055.5 179.5 L1055.7 179.9 L1055.9 180.4 L1056.1 181.5 L1056.3 181.9 L1056.4 181.6 L1056.5 181.7" fill="none" stroke="#3c3c3c" stroke-width="1.1"/>
<path d="M969.7 182.0 L969.7 182.1 L969.8 181.3 L970.0 181.0 L970.2 180.7 L970.4 179.9 L970.6 179.2 L971.8 174.9 L973.3 168.4 L975.1 161.0 L977.2 152.8 L979.2 144.6 L981.2 137.9 L982.9 132.5 L984.6 127.3 L986.3 122.3 L988.0 117.3 L989.9 112.7 L991.9 108.1 L993.6 104.1 L995.5 100.1 L997.4 96.3 L999.4 92.9 L1001.4 89.8 L1003.6 87.2 L1005.1 86.1 L1006.7 84.6 L1008.3 83.5 L1009.9 82.3 L1011.5 81.5 L1013.1 81.4 L1014.5 81.4 L1015.9 81.8 L1017.4 82.6 L1018.8 83.0 L1020.2 83.6 L1021.6 85.0 L1023.4 86.2 L1025.2 88.1 L1027.0 90.4 L1028.7 92.7 L1030.5 95.1 L1032.2 97.4 L1034.2 100.5 L1036.3 103.5 L1038.3 106.4 L1040.3 109.8 L1042.2 113.1 L1043.8 116.5 L1045.6 121.2 L1047.3 125.8 L1048.7 131.0 L1050.1 136.1 L1051.3 141.3 L1052.3 146.1 L1053.3 152.3 L1054.2 158.5 L1054.8 164.9 L1055.4 170.8 L1056.0 175.9 L1056.5 179.4 L1056.7 179.8 L1056.9 180.4 L1057.2 181.2 L1057.3 181.8 L1057.5 181.6 L1057.5 182.0" fill="none" stroke="#4a90c8" stroke-width="1.80"/>
</g>
<rect x="966.40" y="71.50" width="94.40" height="109.10" fill="none" stroke="#000" stroke-width="2.6"/>
<rect x="903.40" y="183.80" width="33.30" height="26.10" fill="none" stroke="#2b2b6e" stroke-width="1.40"/>
<line x1="920.80" y1="183.80" x2="966.40" y2="129.30" stroke="#2b2b6e" stroke-width="1.30"/>
<clipPath id="ic3"><rect x="348.40" y="705.40" width="146.60" height="105.60"/></clipPath>
<rect x="348.40" y="705.40" width="146.60" height="105.60" fill="#fff" stroke="none" filter="url(#shadow)"/>
<g clip-path="url(#ic3)">
<path d="M348.0 799.5 L348.1 800.1 L348.2 799.6 L348.5 799.9 L348.7 799.7 L349.0 798.3 L349.3 797.8 L350.4 796.9 L351.6 791.5 L352.9 786.3 L354.3 782.2 L355.9 775.7 L357.4 771.9 L358.7 768.0 L360.0 765.4 L361.4 761.6 L362.9 759.8 L364.3 757.6 L365.8 754.3 L367.2 752.5 L368.6 750.2 L370.0 747.0 L371.5 746.3 L372.9 743.9 L374.3 741.1 L375.7 738.1 L377.1 737.2 L378.5 733.8 L379.9 731.7 L381.3 729.6 L382.8 727.1 L384.2 725.9 L385.6 723.3 L387.1 722.7 L388.6 720.7 L390.0 720.4 L391.3 719.0 L392.2 716.3 L393.0 715.4 L393.7 714.5 L394.5 715.0 L395.4 713.0 L396.5 712.6 L398.4 710.9 L400.6 710.3 L403.1 709.2 L405.6 708.5 L408.1 708.4 L410.5 708.2 L412.5 708.8 L414.5 708.6 L416.4 709.5 L418.3 709.8 L420.3 710.6 L422.3 710.5 L424.8 710.2 L427.3 712.3 L429.9 713.3 L432.5 714.1 L435.0 714.5 L437.4 716.0 L439.7 716.5 L442.0 719.5 L444.1 720.8 L446.3 722.2 L448.3 723.7 L450.4 727.1 L452.3 729.0 L454.1 728.8 L455.9 731.7 L457.7 732.5 L459.5 733.7 L461.2 735.7 L463.1 738.6 L464.9 740.8 L466.7 741.2 L468.5 744.6 L470.2 745.7 L471.9 749.4 L473.8 751.6 L475.7 756.0 L477.5 759.5 L479.2 761.9 L481.0 766.3 L482.7 768.0 L484.2 770.2 L485.8 773.9 L487.4 775.4 L488.8 778.2 L490.1 781.0 L491.3 783.7 L492.0 784.4 L492.6 785.7 L493.1 788.8 L493.6 789.1 L494.1 791.7 L494.6 792.9 L495.1 793.0 L495.6 794.5 L496.1 795.9 L496.6 797.2 L496.9 797.9 L497.0 798.1 L493.0 812.4 L492.9 813.7 L492.7 812.0 L492.4 812.7 L492.1 811.1 L491.7 810.9 L491.3 809.8 L490.5 807.4 L489.5 806.0 L488.5 803.6 L487.3 800.7 L486.1 798.7 L484.9 796.2 L483.6 794.2 L482.2 791.6 L480.8 788.7 L479.3 785.8 L477.8 784.0 L476.2 781.4 L474.5 778.8 L472.8 776.8 L471.0 773.8 L469.2 770.0 L467.4 768.4 L465.5 765.3 L463.8 764.7 L462.0 762.3 L460.3 761.3 L458.4 758.7 L456.6 757.4 L454.7 755.6 L452.6 753.3 L450.5 752.3 L448.3 750.7 L446.1 748.5 L443.9 747.5 L441.7 745.7 L439.6 742.7 L437.4 739.7 L435.3 738.7 L433.2 736.9 L431.1 733.6 L428.8 733.6 L426.7 730.9 L424.6 730.2 L422.5 729.7 L420.3 728.5 L418.1 728.7 L415.9 728.1 L413.8 728.9 L411.6 728.7 L409.5 729.8 L407.3 730.3 L405.1 731.0 L402.9 730.1 L400.3 731.0 L397.5 731.8 L394.7 733.3 L392.0 734.7 L389.4 736.7 L387.0 737.5 L384.9 738.8 L383.0 740.5 L381.2 743.8 L379.6 745.5 L378.0 748.3 L376.4 749.8 L374.9 752.8 L373.4 755.2 L372.0 757.1 L370.7 759.1 L369.4 762.4 L368.0 764.2 L366.6 766.8 L365.1 769.7 L363.7 772.1 L362.3 776.5 L360.9 778.2 L359.5 781.0 L357.8 785.2 L356.0 791.4 L354.2 796.2 L352.5 799.9 L351.1 803.4 L349.9 807.5 L349.5 807.6 L349.0 808.9 L348.6 810.9 L348.3 811.7 L348.1 811.7 L348.0 813.0 Z" fill="#d3d3d3" stroke="none"/>
<path d="M348.0 799.5 L348.1 800.1 L348.2 799.6 L348.5 799.9 L348.7 799.7 L349.0 798.3 L349.3 797.8 L350.4 796.9 L351.6 791.5 L352.9 786.3 L354.3 782.2 L355.9 775.7 L357.4 771.9 L358.7 768.0 L360.0 765.4 L361.4 761.6 L362.9 759.8 L364.3 757.6 L365.8 754.3 L367.2 752.5 L368.6 750.2 L370.0 747.0 L371.5 746.3 L372.9 743.9 L374.3 741.1 L375.7 738.1 L377.1 737.2 L378.5 733.8 L379.9 731.7 L381.3 729.6 L382.8 727.1 L384.2 725.9 L385.6 723.3 L387.1 722.7 L388.6 720.7 L390.0 720.4 L391.3 719.0 L392.2 716.3 L393.0 715.4 L393.7 714.5 L394.5 715.0 L395.4 713.0 L396.5 712.6 L398.4 710.9 L400.6 710.3 L403.1 709.2 L405.6 708.5 L408.1 708.4 L410.5 708.2 L412.5 708.8 L414.5 708.6 L416.4 709.5 L418.3 709.8 L420.3 710.6 L422.3 710.5 L424.8 710.2 L427.3 712.3 L429.9 713.3 L432.5 714.1 L435.0 714.5 L437.4 716.0 L439.7 716.5 L442.0 719.5 L444.1 720.8 L446.3 722.2 L448.3 723.7 L450.4 727.1 L452.3 729.0 L454.1 728.8 L455.9 731.7 L457.7 732.5 L459.5 733.7 L461.2 735.7 L463.1 738.6 L464.9 740.8 L466.7 741.2 L468.5 744.6 L470.2 745.7 L471.9 749.4 L473.8 751.6 L475.7 756.0 L477.5 759.5 L479.2 761.9 L481.0 766.3 L482.7 768.0 L484.2 770.2 L485.8 773.9 L487.4 775.4 L488.8 778.2 L490.1 781.0 L491.3 783.7 L492.0 784.4 L492.6 785.7 L493.1 788.8 L493.6 789.1 L494.1 791.7 L494.6 792.9 L495.1 793.0 L495.6 794.5 L496.1 795.9 L496.6 797.2 L496.9 797.9 L497.0 798.1" fill="none" stroke="#3c3c3c" stroke-width="1.1"/>
<path d="M348.0 813.0 L348.1 811.7 L348.3 811.7 L348.6 810.9 L349.0 808.9 L349.5 807.6 L349.9 807.5 L351.1 803.4 L352.5 799.9 L354.2 796.2 L356.0 791.4 L357.8 785.2 L359.5 781.0 L360.9 778.2 L362.3 776.5 L363.7 772.1 L365.1 769.7 L366.6 766.8 L368.0 764.2 L369.4 762.4 L370.7 759.1 L372.0 757.1 L373.4 755.2 L374.9 752.8 L376.4 749.8 L378.0 748.3 L379.6 745.5 L381.2 743.8 L383.0 740.5 L384.9 738.8 L387.0 737.5 L389.4 736.7 L392.0 734.7 L394.7 733.3 L397.5 731.8 L400.3 731.0 L402.9 730.1 L405.1 731.0 L407.3 730.3 L409.5 729.8 L411.6 728.7 L413.8 728.9 L415.9 728.1 L418.1 728.7 L420.3 728.5 L422.5 729.7 L424.6 730.2 L426.7 730.9 L428.8 733.6 L431.1 733.6 L433.2 736.9 L435.3 738.7 L437.4 739.7 L439.6 742.7 L441.7 745.7 L443.9 747.5 L446.1 748.5 L448.3 750.7 L450.5 752.3 L452.6 753.3 L454.7 755.6 L456.6 757.4 L458.4 758.7 L460.3 761.3 L462.0 762.3 L463.8 764.7 L465.5 765.3 L467.4 768.4 L469.2 770.0 L471.0 773.8 L472.8 776.8 L474.5 778.8 L476.2 781.4 L477.8 784.0 L479.3 785.8 L480.8 788.7 L482.2 791.6 L483.6 794.2 L484.9 796.2 L486.1 798.7 L487.3 800.7 L488.5 803.6 L489.5 806.0 L490.5 807.4 L491.3 809.8 L491.7 810.9 L492.1 811.1 L492.4 812.7 L492.7 812.0 L492.9 813.7 L493.0 812.4" fill="none" stroke="#3c3c3c" stroke-width="1.1"/>
<path d="M348.0 806.2 L348.1 805.9 L348.3 805.7 L348.5 805.4 L348.9 804.3 L349.2 802.9 L349.6 802.7 L350.7 800.2 L352.1 795.7 L353.6 791.3 L355.2 786.8 L356.8 780.5 L358.4 776.4 L359.8 773.1 L361.2 770.9 L362.6 766.8 L364.0 764.8 L365.4 762.2 L366.9 759.3 L368.3 757.5 L369.6 754.7 L371.0 752.0 L372.4 750.8 L373.9 748.3 L375.4 745.5 L376.8 743.2 L378.3 741.4 L379.9 738.8 L381.4 736.1 L383.1 734.2 L384.9 732.3 L386.8 731.3 L388.8 729.0 L390.9 728.0 L393.0 726.3 L395.1 725.7 L397.1 724.5 L398.7 723.7 L400.1 722.8 L401.6 722.1 L403.1 721.8 L404.6 720.9 L406.2 720.3 L408.2 719.8 L410.4 719.4 L412.8 719.5 L415.1 719.3 L417.4 719.7 L419.6 720.9 L421.8 721.2 L423.8 722.7 L425.9 724.1 L427.9 724.7 L429.9 726.6 L432.0 728.1 L434.3 728.9 L436.7 730.4 L439.1 732.0 L441.5 733.2 L443.8 733.9 L446.1 735.8 L448.2 737.0 L450.2 739.1 L452.2 741.1 L454.1 742.2 L456.1 744.2 L457.9 746.2 L459.8 748.7 L461.7 749.4 L463.5 752.8 L465.3 754.7 L467.0 756.2 L468.7 758.6 L470.4 761.3 L472.1 763.3 L473.7 764.9 L475.3 768.1 L476.9 770.0 L478.4 772.8 L480.0 775.1 L481.5 778.4 L483.0 781.5 L484.4 784.0 L485.7 786.8 L487.0 788.9 L488.0 790.6 L488.9 792.5 L489.9 794.1 L490.8 795.1 L491.5 797.4 L492.2 798.0" fill="none" stroke="#9ab8d0" stroke-width="1.00"/>
</g>
<rect x="348.40" y="705.40" width="146.60" height="105.60" fill="none" stroke="#000" stroke-width="2.6"/>
<rect x="251.70" y="734.70" width="46.70" height="30.80" fill="none" stroke="#2b2b6e" stroke-width="1.40"/>
<line x1="299.00" y1="750.00" x2="347.80" y2="758.50" stroke="#2b2b6e" stroke-width="1.30"/>
<clipPath id="ic4"><rect x="534.60" y="1351.90" width="143.20" height="73.60"/></clipPath>
<rect x="534.60" y="1351.90" width="143.20" height="73.60" fill="#fff" stroke="none" filter="url(#shadow)"/>
<g clip-path="url(#ic4)">
<path d="M534.5 1423.1 L534.6 1422.4 L534.9 1422.5 L535.4 1420.8 L535.9 1419.2 L536.4 1418.8 L536.9 1418.8 L537.7 1415.1 L538.4 1410.7 L539.2 1404.5 L540.0 1400.5 L540.9 1395.1 L541.9 1390.7 L542.8 1387.8 L543.7 1385.5 L544.6 1385.1 L545.6 1382.5 L546.6 1380.1 L547.6 1377.7 L548.5 1373.7 L549.4 1371.6 L550.3 1370.1 L551.3 1368.1 L552.2 1366.3 L553.2 1364.5 L553.9 1361.0 L554.7 1361.1 L555.4 1360.1 L556.2 1358.6 L557.0 1357.0 L557.7 1357.6 L558.5 1356.9 L559.2 1360.2 L560.0 1361.2 L560.8 1361.8 L561.5 1362.6 L562.3 1365.6 L563.2 1366.3 L564.1 1369.2 L565.1 1371.1 L566.0 1371.9 L567.0 1372.8 L567.9 1373.8 L569.0 1372.2 L570.2 1368.8 L571.3 1365.7 L572.4 1363.6 L573.5 1358.8 L574.7 1357.6 L575.6 1359.6 L576.6 1359.6 L577.6 1361.8 L578.5 1363.4 L579.4 1364.8 L580.3 1368.2 L581.2 1367.8 L581.9 1370.5 L582.7 1372.2 L583.4 1375.3 L584.2 1375.7 L584.9 1376.5 L585.7 1376.8 L586.4 1373.8 L587.2 1372.0 L587.9 1370.5 L588.7 1366.4 L589.4 1365.6 L590.1 1366.8 L590.9 1370.2 L591.6 1372.2 L592.4 1373.6 L593.1 1375.7 L593.9 1376.0 L594.8 1375.9 L595.6 1372.4 L596.5 1371.2 L597.4 1368.5 L598.4 1366.1 L599.5 1364.1 L600.2 1364.6 L601.0 1362.1 L601.8 1363.3 L602.6 1365.6 L603.4 1365.3 L604.1 1364.2 L604.9 1365.1 L605.7 1363.1 L606.3 1362.4 L607.0 1359.5 L607.8 1357.9 L608.6 1357.5 L609.5 1355.9 L610.4 1355.7 L611.4 1356.6 L612.4 1354.3 L613.3 1353.0 L614.2 1353.1 L615.1 1354.2 L615.8 1357.4 L616.5 1358.1 L617.1 1359.7 L617.9 1360.5 L618.7 1363.6 L619.7 1361.7 L620.8 1359.8 L622.0 1357.8 L623.2 1356.1 L624.4 1355.1 L625.5 1356.0 L626.5 1354.8 L627.5 1355.1 L628.4 1357.4 L629.4 1357.9 L630.3 1361.3 L631.2 1360.0 L632.2 1362.9 L633.0 1365.7 L633.8 1366.9 L634.7 1370.7 L635.6 1371.1 L636.8 1371.7 L637.8 1372.7 L638.9 1372.1 L640.1 1373.3 L641.3 1372.9 L642.5 1374.7 L643.6 1374.4 L644.6 1373.3 L645.5 1371.6 L646.4 1371.8 L647.3 1371.3 L648.3 1370.8 L649.2 1370.5 L650.1 1372.0 L651.1 1369.7 L652.1 1369.2 L653.0 1371.4 L654.0 1370.3 L654.9 1371.6 L655.9 1370.3 L656.8 1372.3 L657.7 1372.3 L658.6 1373.4 L659.5 1373.8 L660.5 1373.5 L661.4 1372.4 L662.4 1372.5 L663.3 1374.0 L664.3 1373.8 L665.3 1373.6 L666.2 1371.9 L667.2 1373.1 L668.1 1373.9 L669.0 1374.0 L670.0 1375.0 L670.9 1374.6 L671.8 1375.1 L672.6 1375.2 L673.3 1373.8 L674.1 1375.4 L674.8 1375.2 L675.6 1372.4 L676.3 1374.8 L677.0 1374.8 L677.8 1374.0 L678.6 1372.3 L679.3 1374.8 L679.8 1372.7 L680.0 1375.1 L680.0 1381.5 L679.8 1381.4 L679.3 1381.3 L678.6 1383.1 L677.8 1381.4 L677.0 1383.1 L676.3 1380.9 L675.6 1382.3 L674.8 1381.3 L674.1 1382.8 L673.3 1382.1 L672.6 1383.4 L671.8 1384.4 L670.9 1383.4 L670.0 1383.8 L669.0 1381.8 L668.1 1381.3 L667.2 1380.5 L666.2 1380.3 L665.3 1379.7 L664.3 1379.9 L663.3 1382.3 L662.4 1382.6 L661.4 1381.5 L660.5 1381.9 L659.5 1382.4 L658.6 1379.9 L657.7 1380.1 L656.8 1378.2 L655.9 1379.4 L654.9 1379.1 L654.0 1378.0 L653.0 1379.5 L652.1 1377.9 L651.1 1378.2 L650.1 1378.1 L649.2 1380.8 L648.3 1379.6 L647.3 1379.2 L646.4 1380.7 L645.5 1381.5 L644.6 1380.3 L643.6 1381.8 L642.5 1383.2 L641.3 1382.8 L640.1 1381.6 L638.9 1380.7 L637.8 1382.5 L636.8 1380.2 L635.6 1379.8 L634.7 1378.5 L633.8 1375.2 L633.0 1372.5 L632.2 1370.9 L631.2 1369.5 L630.3 1369.5 L629.4 1367.1 L628.4 1365.5 L627.5 1365.0 L626.5 1365.2 L625.5 1362.7 L624.4 1364.4 L623.2 1364.9 L622.0 1366.7 L620.8 1369.1 L619.7 1369.5 L618.7 1370.7 L617.9 1368.8 L617.1 1367.8 L616.5 1365.7 L615.8 1365.9 L615.1 1362.8 L614.2 1362.0 L613.3 1362.0 L612.4 1362.0 L611.4 1362.8 L610.4 1364.0 L609.5 1364.3 L608.6 1365.3 L607.8 1367.7 L607.0 1367.1 L606.3 1370.8 L605.7 1371.6 L604.9 1373.6 L604.1 1373.1 L603.4 1372.4 L602.6 1373.0 L601.8 1373.2 L601.0 1372.1 L600.2 1371.9 L599.5 1370.7 L598.4 1373.1 L597.4 1375.8 L596.5 1378.2 L595.6 1383.2 L594.8 1383.1 L593.9 1385.5 L593.1 1385.2 L592.4 1382.8 L591.6 1380.3 L590.9 1378.8 L590.1 1377.0 L589.4 1376.2 L588.7 1376.5 L587.9 1378.8 L587.2 1379.7 L586.4 1383.3 L585.7 1384.6 L584.9 1385.4 L584.2 1385.1 L583.4 1384.0 L582.7 1381.7 L581.9 1378.0 L581.2 1376.3 L580.3 1376.1 L579.4 1372.2 L578.5 1370.9 L577.6 1368.9 L576.6 1369.0 L575.6 1366.7 L574.7 1366.3 L573.5 1368.1 L572.4 1369.9 L571.3 1374.7 L570.2 1377.2 L569.0 1382.2 L567.9 1383.1 L567.0 1381.8 L566.0 1380.4 L565.1 1379.3 L564.1 1377.0 L563.2 1373.3 L562.3 1373.9 L561.5 1370.7 L560.8 1371.4 L560.0 1368.2 L559.2 1368.5 L558.5 1366.2 L557.7 1365.4 L557.0 1367.3 L556.2 1367.9 L555.4 1368.3 L554.7 1368.1 L553.9 1370.7 L553.2 1370.9 L552.2 1373.0 L551.3 1375.9 L550.3 1378.0 L549.4 1380.3 L548.5 1383.3 L547.6 1385.6 L546.6 1387.2 L545.6 1389.7 L544.6 1392.5 L543.7 1395.7 L542.8 1397.7 L541.9 1399.5 L540.9 1404.5 L540.0 1407.7 L539.2 1414.8 L538.4 1417.5 L537.7 1421.3 L536.9 1426.9 L536.4 1428.0 L535.9 1428.4 L535.4 1429.4 L534.9 1431.9 L534.6 1433.0 L534.5 1433.5 Z" fill="#d3d3d3" stroke="none"/>
<path d="M534.5 1423.1 L534.6 1422.4 L534.9 1422.5 L535.4 1420.8 L535.9 1419.2 L536.4 1418.8 L536.9 1418.8 L537.7 1415.1 L538.4 1410.7 L539.2 1404.5 L540.0 1400.5 L540.9 1395.1 L541.9 1390.7 L542.8 1387.8 L543.7 1385.5 L544.6 1385.1 L545.6 1382.5 L546.6 1380.1 L547.6 1377.7 L548.5 1373.7 L549.4 1371.6 L550.3 1370.1 L551.3 1368.1 L552.2 1366.3 L553.2 1364.5 L553.9 1361.0 L554.7 1361.1 L555.4 1360.1 L556.2 1358.6 L557.0 1357.0 L557.7 1357.6 L558.5 1356.9 L559.2 1360.2 L560.0 1361.2 L560.8 1361.8 L561.5 1362.6 L562.3 1365.6 L563.2 1366.3 L564.1 1369.2 L565.1 1371.1 L566.0 1371.9 L567.0 1372.8 L567.9 1373.8 L569.0 1372.2 L570.2 1368.8 L571.3 1365.7 L572.4 1363.6 L573.5 1358.8 L574.7 1357.6 L575.6 1359.6 L576.6 1359.6 L577.6 1361.8 L578.5 1363.4 L579.4 1364.8 L580.3 1368.2 L581.2 1367.8 L581.9 1370.5 L582.7 1372.2 L583.4 1375.3 L584.2 1375.7 L584.9 1376.5 L585.7 1376.8 L586.4 1373.8 L587.2 1372.0 L587.9 1370.5 L588.7 1366.4 L589.4 1365.6 L590.1 1366.8 L590.9 1370.2 L591.6 1372.2 L592.4 1373.6 L593.1 1375.7 L593.9 1376.0 L594.8 1375.9 L595.6 1372.4 L596.5 1371.2 L597.4 1368.5 L598.4 1366.1 L599.5 1364.1 L600.2 1364.6 L601.0 1362.1 L601.8 1363.3 L602.6 1365.6 L603.4 1365.3 L604.1 1364.2 L604.9 1365.1 L605.7 1363.1 L606.3 1362.4 L607.0 1359.5 L607.8 1357.9 L608.6 1357.5 L609.5 1355.9 L610.4 1355.7 L611.4 1356.6 L612.4 1354.3 L613.3 1353.0 L614.2 1353.1 L615.1 1354.2 L615.8 1357.4 L616.5 1358.1 L617.1 1359.7 L617.9 1360.5 L618.7 1363.6 L619.7 1361.7 L620.8 1359.8 L622.0 1357.8 L623.2 1356.1 L624.4 1355.1 L625.5 1356.0 L626.5 1354.8 L627.5 1355.1 L628.4 1357.4 L629.4 1357.9 L630.3 1361.3 L631.2 1360.0 L632.2 1362.9 L633.0 1365.7 L633.8 1366.9 L634.7 1370.7 L635.6 1371.1 L636.8 1371.7 L637.8 1372.7 L638.9 1372.1 L640.1 1373.3 L641.3 1372.9 L642.5 1374.7 L643.6 1374.4 L644.6 1373.3 L645.5 1371.6 L646.4 1371.8 L647.3 1371.3 L648.3 1370.8 L649.2 1370.5 L650.1 1372.0 L651.1 1369.7 L652.1 1369.2 L653.0 1371.4 L654.0 1370.3 L654.9 1371.6 L655.9 1370.3 L656.8 1372.3 L657.7 1372.3 L658.6 1373.4 L659.5 1373.8 L660.5 1373.5 L661.4 1372.4 L662.4 1372.5 L663.3 1374.0 L664.3 1373.8 L665.3 1373.6 L666.2 1371.9 L667.2 1373.1 L668.1 1373.9 L669.0 1374.0 L670.0 1375.0 L670.9 1374.6 L671.8 1375.1 L672.6 1375.2 L673.3 1373.8 L674.1 1375.4 L674.8 1375.2 L675.6 1372.4 L676.3 1374.8 L677.0 1374.8 L677.8 1374.0 L678.6 1372.3 L679.3 1374.8 L679.8 1372.7 L680.0 1375.1" fill="none" stroke="#3c3c3c" stroke-width="1.1"/>
<path d="M534.5 1433.5 L534.6 1433.0 L534.9 1431.9 L535.4 1429.4 L535.9 1428.4 L536.4 1428.0 L536.9 1426.9 L537.7 1421.3 L538.4 1417.5 L539.2 1414.8 L540.0 1407.7 L540.9 1404.5 L541.9 1399.5 L542.8 1397.7 L543.7 1395.7 L544.6 1392.5 L545.6 1389.7 L546.6 1387.2 L547.6 1385.6 L548.5 1383.3 L549.4 1380.3 L550.3 1378.0 L551.3 1375.9 L552.2 1373.0 L553.2 1370.9 L553.9 1370.7 L554.7 1368.1 L555.4 1368.3 L556.2 1367.9 L557.0 1367.3 L557.7 1365.4 L558.5 1366.2 L559.2 1368.5 L560.0 1368.2 L560.8 1371.4 L561.5 1370.7 L562.3 1373.9 L563.2 1373.3 L564.1 1377.0 L565.1 1379.3 L566.0 1380.4 L567.0 1381.8 L567.9 1383.1 L569.0 1382.2 L570.2 1377.2 L571.3 1374.7 L572.4 1369.9 L573.5 1368.1 L574.7 1366.3 L575.6 1366.7 L576.6 1369.0 L577.6 1368.9 L578.5 1370.9 L579.4 1372.2 L580.3 1376.1 L581.2 1376.3 L581.9 1378.0 L582.7 1381.7 L583.4 1384.0 L584.2 1385.1 L584.9 1385.4 L585.7 1384.6 L586.4 1383.3 L587.2 1379.7 L587.9 1378.8 L588.7 1376.5 L589.4 1376.2 L590.1 1377.0 L590.9 1378.8 L591.6 1380.3 L592.4 1382.8 L593.1 1385.2 L593.9 1385.5 L594.8 1383.1 L595.6 1383.2 L596.5 1378.2 L597.4 1375.8 L598.4 1373.1 L599.5 1370.7 L600.2 1371.9 L601.0 1372.1 L601.8 1373.2 L602.6 1373.0 L603.4 1372.4 L604.1 1373.1 L604.9 1373.6 L605.7 1371.6 L606.3 1370.8 L607.0 1367.1 L607.8 1367.7 L608.6 1365.3 L609.5 1364.3 L610.4 1364.0 L611.4 1362.8 L612.4 1362.0 L613.3 1362.0 L614.2 1362.0 L615.1 1362.8 L615.8 1365.9 L616.5 1365.7 L617.1 1367.8 L617.9 1368.8 L618.7 1370.7 L619.7 1369.5 L620.8 1369.1 L622.0 1366.7 L623.2 1364.9 L624.4 1364.4 L625.5 1362.7 L626.5 1365.2 L627.5 1365.0 L628.4 1365.5 L629.4 1367.1 L630.3 1369.5 L631.2 1369.5 L632.2 1370.9 L633.0 1372.5 L633.8 1375.2 L634.7 1378.5 L635.6 1379.8 L636.8 1380.2 L637.8 1382.5 L638.9 1380.7 L640.1 1381.6 L641.3 1382.8 L642.5 1383.2 L643.6 1381.8 L644.6 1380.3 L645.5 1381.5 L646.4 1380.7 L647.3 1379.2 L648.3 1379.6 L649.2 1380.8 L650.1 1378.1 L651.1 1378.2 L652.1 1377.9 L653.0 1379.5 L654.0 1378.0 L654.9 1379.1 L655.9 1379.4 L656.8 1378.2 L657.7 1380.1 L658.6 1379.9 L659.5 1382.4 L660.5 1381.9 L661.4 1381.5 L662.4 1382.6 L663.3 1382.3 L664.3 1379.9 L665.3 1379.7 L666.2 1380.3 L667.2 1380.5 L668.1 1381.3 L669.0 1381.8 L670.0 1383.8 L670.9 1383.4 L671.8 1384.4 L672.6 1383.4 L673.3 1382.1 L674.1 1382.8 L674.8 1381.3 L675.6 1382.3 L676.3 1380.9 L677.0 1383.1 L677.8 1381.4 L678.6 1383.1 L679.3 1381.3 L679.8 1381.4 L680.0 1381.5" fill="none" stroke="#3c3c3c" stroke-width="1.1"/>
<path d="M534.5 1428.3 L534.6 1427.7 L534.9 1427.2 L535.4 1425.1 L535.9 1423.8 L536.4 1423.4 L536.9 1422.8 L537.7 1418.2 L538.4 1414.1 L539.2 1409.6 L540.0 1404.1 L540.9 1399.8 L541.9 1395.1 L542.8 1392.7 L543.7 1390.6 L544.6 1388.8 L545.6 1386.1 L546.6 1383.6 L547.6 1381.7 L548.5 1378.5 L549.4 1375.9 L550.3 1374.0 L551.3 1372.0 L552.2 1369.6 L553.2 1367.7 L553.9 1365.8 L554.7 1364.6 L555.4 1364.2 L556.2 1363.2 L557.0 1362.1 L557.7 1361.5 L558.5 1361.6 L559.2 1364.3 L560.0 1364.7 L560.8 1366.6 L561.5 1366.7 L562.3 1369.7 L563.2 1369.8 L564.1 1373.1 L565.1 1375.2 L566.0 1376.1 L567.0 1377.3 L567.9 1378.4 L569.0 1377.2 L570.2 1373.0 L571.3 1370.2 L572.4 1366.7 L573.5 1363.4 L574.7 1362.0 L575.6 1363.1 L576.6 1364.3 L577.6 1365.4 L578.5 1367.1 L579.4 1368.5 L580.3 1372.1 L581.2 1372.0 L581.9 1374.3 L582.7 1377.0 L583.4 1379.7 L584.2 1380.4 L584.9 1381.0 L585.7 1380.7 L586.4 1378.5 L587.2 1375.9 L587.9 1374.7 L588.7 1371.5 L589.4 1370.9 L590.1 1371.9 L590.9 1374.5 L591.6 1376.2 L592.4 1378.2 L593.1 1380.4 L593.9 1380.8 L594.8 1379.5 L595.6 1377.8 L596.5 1374.7 L597.4 1372.2 L598.4 1369.6 L599.5 1367.4 L600.2 1368.2 L601.0 1367.1 L601.8 1368.2 L602.6 1369.3 L603.4 1368.9 L604.1 1368.7 L604.9 1369.3 L605.7 1367.4 L606.3 1366.6 L607.0 1363.3 L607.8 1362.8 L608.6 1361.4 L609.5 1360.1 L610.4 1359.9 L611.4 1359.7 L612.4 1358.1 L613.3 1357.5 L614.2 1357.6 L615.1 1358.5 L615.8 1361.6 L616.5 1361.9 L617.1 1363.7 L617.9 1364.7 L618.7 1367.2 L619.7 1365.6 L620.8 1364.5 L622.0 1362.2 L623.2 1360.5 L624.4 1359.7 L625.5 1359.3 L626.5 1360.0 L627.5 1360.1 L628.4 1361.4 L629.4 1362.5 L630.3 1365.4 L631.2 1364.8 L632.2 1366.9 L633.0 1369.1 L633.8 1371.1 L634.7 1374.6 L635.6 1375.4 L636.8 1375.9 L637.8 1377.6 L638.9 1376.4 L640.1 1377.4 L641.3 1377.9 L642.5 1378.9 L643.6 1378.1 L644.6 1376.8 L645.5 1376.6 L646.4 1376.3 L647.3 1375.2 L648.3 1375.2 L649.2 1375.7 L650.1 1375.1 L651.1 1374.0 L652.1 1373.5 L653.0 1375.4 L654.0 1374.2 L654.9 1375.3 L655.9 1374.8 L656.8 1375.2 L657.7 1376.2 L658.6 1376.6 L659.5 1378.1 L660.5 1377.7 L661.4 1377.0 L662.4 1377.5 L663.3 1378.2 L664.3 1376.8 L665.3 1376.7 L666.2 1376.1 L667.2 1376.8 L668.1 1377.6 L669.0 1377.9 L670.0 1379.4 L670.9 1379.0 L671.8 1379.8 L672.6 1379.3 L673.3 1378.0 L674.1 1379.1 L674.8 1378.3 L675.6 1377.4 L676.3 1377.9 L677.0 1378.9 L677.8 1377.7 L678.6 1377.7 L679.3 1378.1 L679.8 1377.0 L680.0 1378.3" fill="none" stroke="#9ab8d0" stroke-width="1.00"/>
</g>
<rect x="534.60" y="1351.90" width="143.20" height="73.60" fill="none" stroke="#000" stroke-width="2.6"/>
<rect x="596.60" y="1461.10" width="35.40" height="25.30" fill="none" stroke="#2b2b6e" stroke-width="1.40"/>
<line x1="613.50" y1="1461.10" x2="607.20" y2="1426.50" stroke="#2b2b6e" stroke-width="1.30"/>
<clipPath id="ic5"><rect x="1082.70" y="1351.00" width="135.10" height="83.00"/></clipPath>
<rect x="1082.70" y="1351.00" width="135.10" height="83.00" fill="#fff" stroke="none" filter="url(#shadow)"/>
<g clip-path="url(#ic5)">
<path d="M1082.0 1425.2 L1082.1 1425.2 L1082.5 1424.7 L1083.0 1424.2 L1083.6 1422.9 L1084.3 1422.2 L1084.9 1419.8 L1085.9 1419.0 L1087.1 1418.1 L1088.4 1415.8 L1089.7 1414.4 L1091.0 1411.2 L1092.3 1409.9 L1093.7 1407.4 L1095.1 1405.7 L1096.4 1403.5 L1097.9 1400.4 L1099.3 1398.6 L1100.8 1396.7 L1102.2 1396.2 L1103.6 1394.6 L1105.0 1392.3 L1106.5 1392.0 L1107.9 1389.6 L1109.3 1388.9 L1110.8 1386.4 L1112.2 1384.5 L1113.6 1384.1 L1115.0 1381.2 L1116.4 1379.3 L1117.8 1378.8 L1119.2 1376.8 L1120.6 1373.9 L1122.0 1373.1 L1123.4 1370.6 L1124.8 1369.1 L1126.3 1366.9 L1127.5 1367.2 L1128.8 1366.0 L1130.1 1365.8 L1131.4 1365.0 L1132.7 1363.4 L1134.0 1362.8 L1135.3 1361.5 L1136.6 1360.4 L1138.0 1359.1 L1139.3 1358.4 L1140.6 1358.0 L1142.0 1356.2 L1143.3 1356.8 L1144.6 1355.8 L1146.0 1355.5 L1147.3 1356.1 L1148.7 1355.3 L1150.0 1354.7 L1151.3 1354.5 L1152.6 1354.3 L1153.9 1352.7 L1155.2 1353.6 L1156.5 1351.8 L1157.8 1352.9 L1159.2 1353.4 L1160.5 1352.7 L1161.9 1354.8 L1163.2 1355.1 L1164.6 1356.3 L1166.0 1356.2 L1167.5 1356.9 L1169.0 1357.7 L1170.5 1359.6 L1172.0 1359.0 L1173.5 1360.6 L1175.0 1361.7 L1176.7 1362.9 L1178.4 1363.3 L1180.1 1364.8 L1181.8 1366.7 L1183.4 1368.7 L1185.0 1369.4 L1186.7 1372.4 L1188.4 1374.5 L1190.1 1376.8 L1191.7 1377.8 L1193.4 1381.5 L1195.0 1382.3 L1196.7 1385.0 L1198.4 1387.8 L1200.2 1390.7 L1201.8 1392.1 L1203.5 1395.4 L1205.0 1397.1 L1206.3 1398.7 L1207.5 1400.7 L1208.6 1402.4 L1209.8 1404.3 L1210.9 1406.4 L1212.0 1409.3 L1213.4 1412.4 L1214.9 1414.1 L1216.4 1416.9 L1217.7 1421.1 L1218.6 1422.3 L1219.0 1422.8 L1219.0 1432.5 L1218.6 1431.5 L1217.7 1430.3 L1216.4 1427.7 L1214.9 1425.1 L1213.4 1421.9 L1212.0 1419.0 L1210.9 1417.5 L1209.8 1414.6 L1208.6 1413.2 L1207.5 1410.5 L1206.3 1409.8 L1205.0 1407.3 L1203.5 1404.5 L1201.8 1401.8 L1200.2 1399.6 L1198.4 1398.3 L1196.7 1394.6 L1195.0 1392.6 L1193.4 1390.5 L1191.7 1389.1 L1190.1 1385.7 L1188.4 1384.1 L1186.7 1382.6 L1185.0 1380.5 L1183.4 1377.6 L1181.8 1376.5 L1180.1 1375.7 L1178.4 1373.1 L1176.7 1371.8 L1175.0 1371.8 L1173.5 1369.9 L1172.0 1369.7 L1170.5 1368.1 L1169.0 1368.5 L1167.5 1368.2 L1166.0 1367.1 L1164.6 1366.1 L1163.2 1365.6 L1161.9 1364.0 L1160.5 1364.1 L1159.2 1362.1 L1157.8 1362.0 L1156.5 1361.8 L1155.2 1363.0 L1153.9 1364.1 L1152.6 1364.6 L1151.3 1365.0 L1150.0 1365.0 L1148.7 1364.7 L1147.3 1365.0 L1146.0 1365.4 L1144.6 1365.8 L1143.3 1366.4 L1142.0 1366.4 L1140.6 1368.1 L1139.3 1369.4 L1138.0 1370.3 L1136.6 1371.7 L1135.3 1372.2 L1134.0 1373.0 L1132.7 1374.3 L1131.4 1374.6 L1130.1 1375.5 L1128.8 1375.7 L1127.5 1376.5 L1126.3 1377.2 L1124.8 1379.2 L1123.4 1381.3 L1122.0 1383.1 L1120.6 1384.9 L1119.2 1386.6 L1117.8 1388.5 L1116.4 1389.2 L1115.0 1391.8 L1113.6 1394.3 L1112.2 1395.9 L1110.8 1396.6 L1109.3 1398.7 L1107.9 1400.7 L1106.5 1402.3 L1105.0 1403.0 L1103.6 1404.9 L1102.2 1405.1 L1100.8 1407.8 L1099.3 1409.7 L1097.9 1411.1 L1096.4 1413.2 L1095.1 1415.5 L1093.7 1417.3 L1092.3 1419.7 L1091.0 1422.1 L1089.7 1423.2 L1088.4 1426.0 L1087.1 1427.2 L1085.9 1428.6 L1084.9 1430.3 L1084.3 1432.0 L1083.6 1432.2 L1083.0 1434.2 L1082.5 1434.7 L1082.1 1434.6 L1082.0 1435.6 Z" fill="#d3d3d3" stroke="none"/>
<path d="M1082.0 1425.2 L1082.1 1425.2 L1082.5 1424.7 L1083.0 1424.2 L1083.6 1422.9 L1084.3 1422.2 L1084.9 1419.8 L1085.9 1419.0 L1087.1 1418.1 L1088.4 1415.8 L1089.7 1414.4 L1091.0 1411.2 L1092.3 1409.9 L1093.7 1407.4 L1095.1 1405.7 L1096.4 1403.5 L1097.9 1400.4 L1099.3 1398.6 L1100.8 1396.7 L1102.2 1396.2 L1103.6 1394.6 L1105.0 1392.3 L1106.5 1392.0 L1107.9 1389.6 L1109.3 1388.9 L1110.8 1386.4 L1112.2 1384.5 L1113.6 1384.1 L1115.0 1381.2 L1116.4 1379.3 L1117.8 1378.8 L1119.2 1376.8 L1120.6 1373.9 L1122.0 1373.1 L1123.4 1370.6 L1124.8 1369.1 L1126.3 1366.9 L1127.5 1367.2 L1128.8 1366.0 L1130.1 1365.8 L1131.4 1365.0 L1132.7 1363.4 L1134.0 1362.8 L1135.3 1361.5 L1136.6 1360.4 L1138.0 1359.1 L1139.3 1358.4 L1140.6 1358.0 L1142.0 1356.2 L1143.3 1356.8 L1144.6 1355.8 L1146.0 1355.5 L1147.3 1356.1 L1148.7 1355.3 L1150.0 1354.7 L1151.3 1354.5 L1152.6 1354.3 L1153.9 1352.7 L1155.2 1353.6 L1156.5 1351.8 L1157.8 1352.9 L1159.2 1353.4 L1160.5 1352.7 L1161.9 1354.8 L1163.2 1355.1 L1164.6 1356.3 L1166.0 1356.2 L1167.5 1356.9 L1169.0 1357.7 L1170.5 1359.6 L1172.0 1359.0 L1173.5 1360.6 L1175.0 1361.7 L1176.7 1362.9 L1178.4 1363.3 L1180.1 1364.8 L1181.8 1366.7 L1183.4 1368.7 L1185.0 1369.4 L1186.7 1372.4 L1188.4 1374.5 L1190.1 1376.8 L1191.7 1377.8 L1193.4 1381.5 L1195.0 1382.3 L1196.7 1385.0 L1198.4 1387.8 L1200.2 1390.7 L1201.8 1392.1 L1203.5 1395.4 L1205.0 1397.1 L1206.3 1398.7 L1207.5 1400.7 L1208.6 1402.4 L1209.8 1404.3 L1210.9 1406.4 L1212.0 1409.3 L1213.4 1412.4 L1214.9 1414.1 L1216.4 1416.9 L1217.7 1421.1 L1218.6 1422.3 L1219.0 1422.8" fill="none" stroke="#3c3c3c" stroke-width="1.1"/>
<path d="M1082.0 1435.6 L1082.1 1434.6 L1082.5 1434.7 L1083.0 1434.2 L1083.6 1432.2 L1084.3 1432.0 L1084.9 1430.3 L1085.9 1428.6 L1087.1 1427.2 L1088.4 1426.0 L1089.7 1423.2 L1091.0 1422.1 L1092.3 1419.7 L1093.7 1417.3 L1095.1 1415.5 L1096.4 1413.2 L1097.9 1411.1 L1099.3 1409.7 L1100.8 1407.8 L1102.2 1405.1 L1103.6 1404.9 L1105.0 1403.0 L1106.5 1402.3 L1107.9 1400.7 L1109.3 1398.7 L1110.8 1396.6 L1112.2 1395.9 L1113.6 1394.3 L1115.0 1391.8 L1116.4 1389.2 L1117.8 1388.5 L1119.2 1386.6 L1120.6 1384.9 L1122.0 1383.1 L1123.4 1381.3 L1124.8 1379.2 L1126.3 1377.2 L1127.5 1376.5 L1128.8 1375.7 L1130.1 1375.5 L1131.4 1374.6 L1132.7 1374.3 L1134.0 1373.0 L1135.3 1372.2 L1136.6 1371.7 L1138.0 1370.3 L1139.3 1369.4 L1140.6 1368.1 L1142.0 1366.4 L1143.3 1366.4 L1144.6 1365.8 L1146.0 1365.4 L1147.3 1365.0 L1148.7 1364.7 L1150.0 1365.0 L1151.3 1365.0 L1152.6 1364.6 L1153.9 1364.1 L1155.2 1363.0 L1156.5 1361.8 L1157.8 1362.0 L1159.2 1362.1 L1160.5 1364.1 L1161.9 1364.0 L1163.2 1365.6 L1164.6 1366.1 L1166.0 1367.1 L1167.5 1368.2 L1169.0 1368.5 L1170.5 1368.1 L1172.0 1369.7 L1173.5 1369.9 L1175.0 1371.8 L1176.7 1371.8 L1178.4 1373.1 L1180.1 1375.7 L1181.8 1376.5 L1183.4 1377.6 L1185.0 1380.5 L1186.7 1382.6 L1188.4 1384.1 L1190.1 1385.7 L1191.7 1389.1 L1193.4 1390.5 L1195.0 1392.6 L1196.7 1394.6 L1198.4 1398.3 L1200.2 1399.6 L1201.8 1401.8 L1203.5 1404.5 L1205.0 1407.3 L1206.3 1409.8 L1207.5 1410.5 L1208.6 1413.2 L1209.8 1414.6 L1210.9 1417.5 L1212.0 1419.0 L1213.4 1421.9 L1214.9 1425.1 L1216.4 1427.7 L1217.7 1430.3 L1218.6 1431.5 L1219.0 1432.5" fill="none" stroke="#3c3c3c" stroke-width="1.1"/>
<path d="M1082.0 1430.4 L1082.1 1429.9 L1082.5 1429.7 L1083.0 1429.2 L1083.6 1427.6 L1084.3 1427.1 L1084.9 1425.1 L1085.9 1423.8 L1087.1 1422.6 L1088.4 1420.9 L1089.7 1418.8 L1091.0 1416.6 L1092.3 1414.8 L1093.7 1412.3 L1095.1 1410.6 L1096.4 1408.3 L1097.9 1405.7 L1099.3 1404.1 L1100.8 1402.3 L1102.2 1400.7 L1103.6 1399.8 L1105.0 1397.6 L1106.5 1397.1 L1107.9 1395.1 L1109.3 1393.8 L1110.8 1391.5 L1112.2 1390.2 L1113.6 1389.2 L1115.0 1386.5 L1116.4 1384.3 L1117.8 1383.6 L1119.2 1381.7 L1120.6 1379.4 L1122.0 1378.1 L1123.4 1375.9 L1124.8 1374.2 L1126.3 1372.1 L1127.5 1371.8 L1128.8 1370.9 L1130.1 1370.6 L1131.4 1369.8 L1132.7 1368.9 L1134.0 1367.9 L1135.3 1366.8 L1136.6 1366.0 L1138.0 1364.7 L1139.3 1363.9 L1140.6 1363.0 L1142.0 1361.3 L1143.3 1361.6 L1144.6 1360.8 L1146.0 1360.5 L1147.3 1360.5 L1148.7 1360.0 L1150.0 1359.8 L1151.3 1359.7 L1152.6 1359.4 L1153.9 1358.4 L1155.2 1358.3 L1156.5 1356.8 L1157.8 1357.5 L1159.2 1357.7 L1160.5 1358.4 L1161.9 1359.4 L1163.2 1360.3 L1164.6 1361.2 L1166.0 1361.7 L1167.5 1362.6 L1169.0 1363.1 L1170.5 1363.8 L1172.0 1364.3 L1173.5 1365.2 L1175.0 1366.7 L1176.7 1367.4 L1178.4 1368.2 L1180.1 1370.3 L1181.8 1371.6 L1183.4 1373.2 L1185.0 1374.9 L1186.7 1377.5 L1188.4 1379.3 L1190.1 1381.3 L1191.7 1383.4 L1193.4 1386.0 L1195.0 1387.5 L1196.7 1389.8 L1198.4 1393.0 L1200.2 1395.1 L1201.8 1396.9 L1203.5 1399.9 L1205.0 1402.2 L1206.3 1404.3 L1207.5 1405.6 L1208.6 1407.8 L1209.8 1409.4 L1210.9 1411.9 L1212.0 1414.1 L1213.4 1417.1 L1214.9 1419.6 L1216.4 1422.3 L1217.7 1425.7 L1218.6 1426.9 L1219.0 1427.7" fill="none" stroke="#4a90c8" stroke-width="1.80"/>
</g>
<rect x="1082.70" y="1351.00" width="135.10" height="83.00" fill="none" stroke="#000" stroke-width="2.6"/>
<rect x="986.70" y="1344.90" width="40.30" height="25.40" fill="none" stroke="#2b2b6e" stroke-width="1.40"/>
<line x1="1027.60" y1="1357.60" x2="1082.80" y2="1390.50" stroke="#2b2b6e" stroke-width="1.30"/>
</svg></body></html>
